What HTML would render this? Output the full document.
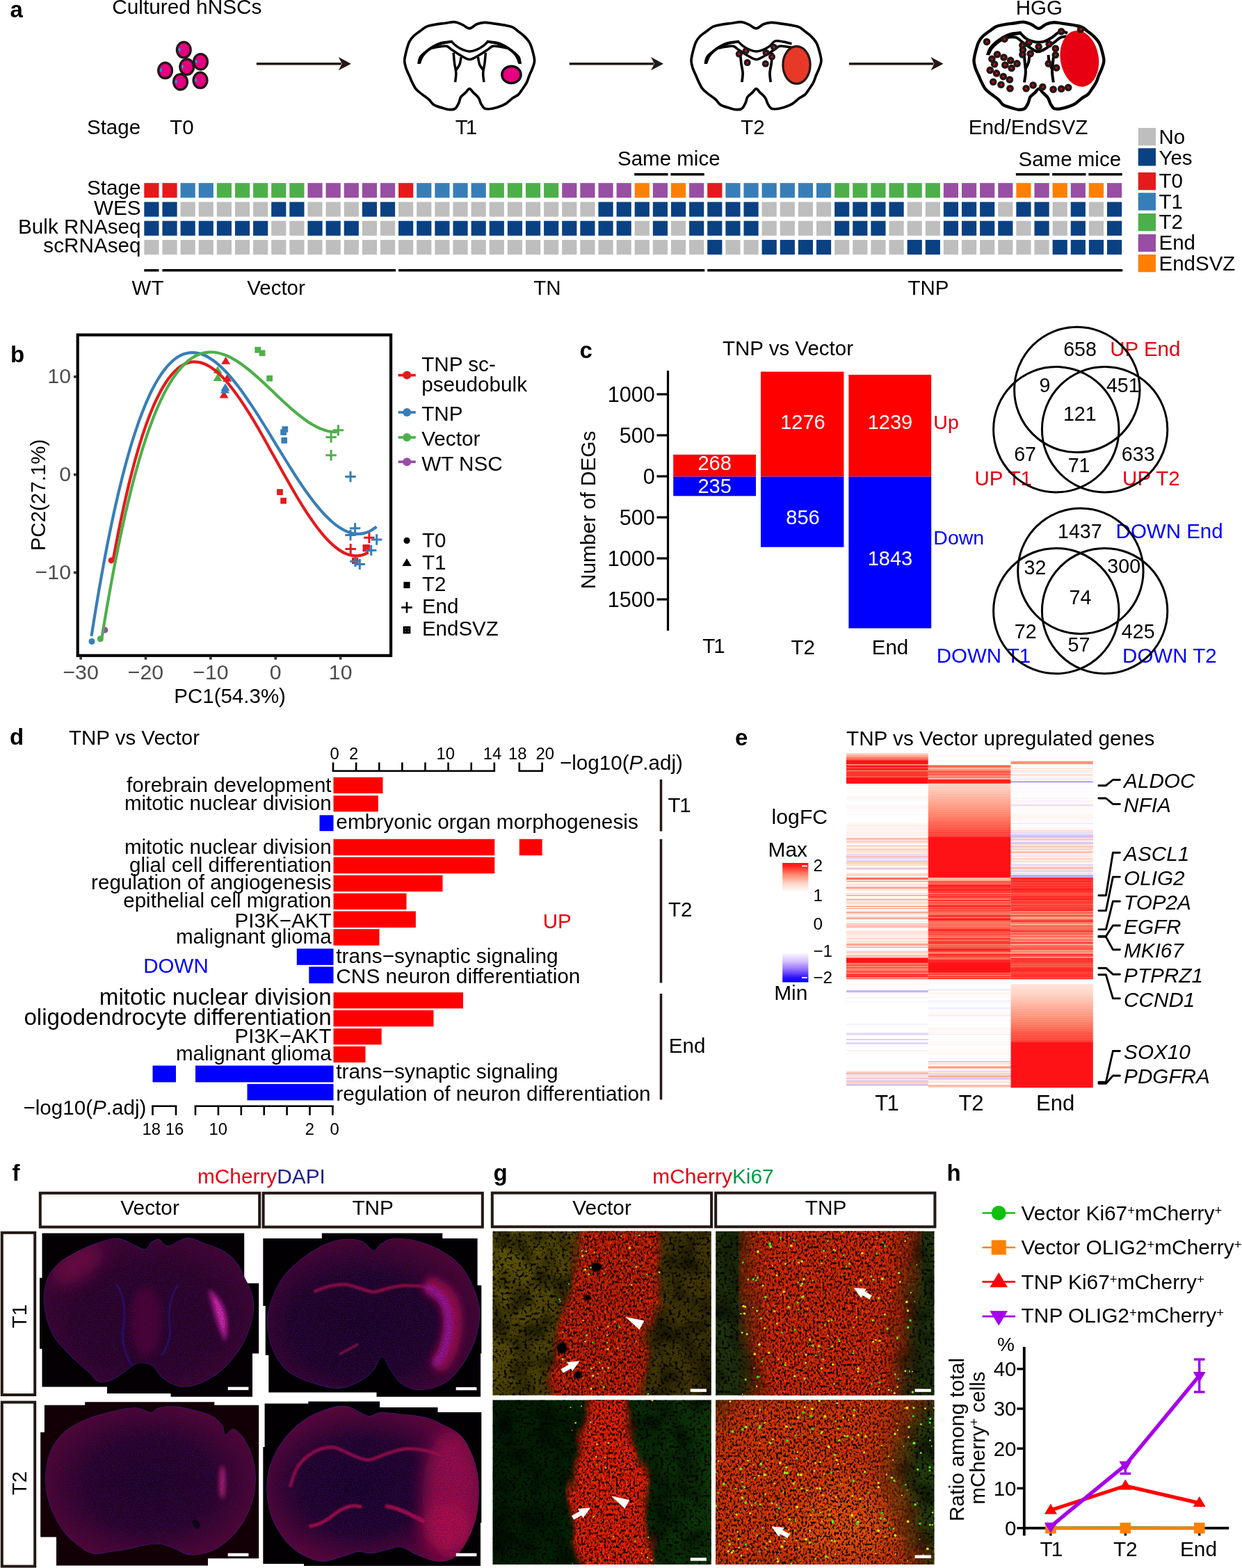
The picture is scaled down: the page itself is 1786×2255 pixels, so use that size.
<!DOCTYPE html>
<html lang="en">
<head>
<meta charset="utf-8">
<title>Figure</title>
<style>
html,body{margin:0;padding:0;background:#fff;}
svg{display:block;font-family:'Liberation Sans', sans-serif;}
</style>
</head>
<body>
<svg width="1786" height="2255" viewBox="0 0 1786 2255">
<rect x="0" y="0" width="1786" height="2255" fill="#fff"/>

<g id="pa">
<text x="14.5" y="24.8" font-size="33" fill="#000" font-weight="bold">a</text>
<text x="161.2" y="20.2" font-size="29.8" fill="#000">Cultured hNSCs</text>
<text x="125.0" y="192.8" font-size="29.5" fill="#000">Stage</text>
<text x="244.2" y="192.8" font-size="29.5" fill="#000">T0</text>
<text x="654.7" y="193.1" font-size="29.5" fill="#000">T<tspan dx="-3">1</tspan></text>
<text x="1065.2" y="193.1" font-size="29.5" fill="#000">T2</text>
<text x="1460.7" y="20.8" font-size="29.5" fill="#000">HGG</text>
<text x="1392.7" y="192.8" font-size="29.7" fill="#000">End/EndSVZ</text>
<ellipse cx="264.3" cy="71.7" rx="9.9" ry="11.2" fill="#E4007F" stroke="#231815" stroke-width="3.3"/>
<ellipse cx="258.1" cy="71.2" rx="1.6" ry="2.6" fill="#00A0E9"/>
<ellipse cx="288.5" cy="88.8" rx="9.9" ry="11.2" fill="#E4007F" stroke="#231815" stroke-width="3.3"/>
<ellipse cx="282.3" cy="88.3" rx="1.6" ry="2.6" fill="#00A0E9"/>
<ellipse cx="237.6" cy="101.4" rx="9.9" ry="11.2" fill="#E4007F" stroke="#231815" stroke-width="3.3"/>
<ellipse cx="231.4" cy="100.9" rx="1.6" ry="2.6" fill="#00A0E9"/>
<ellipse cx="259.5" cy="117.8" rx="9.9" ry="11.2" fill="#E4007F" stroke="#231815" stroke-width="3.3"/>
<ellipse cx="253.3" cy="117.3" rx="1.6" ry="2.6" fill="#00A0E9"/>
<ellipse cx="288.0" cy="115.4" rx="9.9" ry="11.2" fill="#E4007F" stroke="#231815" stroke-width="3.3"/>
<ellipse cx="281.8" cy="114.9" rx="1.6" ry="2.6" fill="#00A0E9"/>
<ellipse cx="268.7" cy="96.2" rx="9.9" ry="11.2" fill="#E4007F" stroke="#231815" stroke-width="3.3"/>
<ellipse cx="262.5" cy="95.7" rx="1.6" ry="2.6" fill="#00A0E9"/>
<line x1="368.80" y1="91.70" x2="490.80" y2="91.70" stroke="#231815" stroke-width="3.6"/><path d="M504.8,91.7 L486.8,82.1 L491.8,91.7 L486.8,101.3 Z" fill="#231815"/>
<line x1="818.80" y1="91.70" x2="940.00" y2="91.70" stroke="#231815" stroke-width="3.6"/><path d="M954.0,91.7 L936.0,82.1 L941.0,91.7 L936.0,101.3 Z" fill="#231815"/>
<line x1="1220.90" y1="91.70" x2="1342.50" y2="91.70" stroke="#231815" stroke-width="3.6"/><path d="M1356.5,91.7 L1338.5,82.1 L1343.5,91.7 L1338.5,101.3 Z" fill="#231815"/>
<path d="M675.1,40.9C678.6,40.8 682.0,36.2 685.6,34.8C689.2,33.3 692.3,32.4 696.6,32.3C700.9,32.2 706.3,33.4 711.4,34.1C716.5,34.9 723.1,35.8 727.4,36.6C731.7,37.4 734.4,37.7 737.2,39.1C740.1,40.4 741.7,42.3 744.6,44.6C747.5,46.8 751.6,49.7 754.4,52.6C757.3,55.5 759.9,58.2 761.8,61.8C763.8,65.4 765.0,69.8 766.1,74.1C767.2,78.4 768.7,83.5 768.6,87.6C768.5,91.7 766.7,95.2 765.5,98.7C764.3,102.2 762.5,105.2 761.2,108.5C759.9,111.8 759.0,115.3 757.5,118.4C756.0,121.4 753.9,124.1 752.0,127.0C750.0,129.8 748.3,133.2 745.8,135.6C743.4,137.9 740.3,138.9 737.2,141.1C734.1,143.4 730.7,147.1 727.4,149.1C724.1,151.2 721.2,152.2 717.5,153.4C713.9,154.6 708.7,156.1 705.3,156.5C701.8,156.9 698.9,157.1 696.6,155.9C694.4,154.6 693.2,151.7 691.7,149.1C690.3,146.5 689.9,143.2 688.0,140.5C686.2,137.8 682.8,135.3 680.7,133.1C678.5,131.0 677.0,127.6 675.1,127.6C673.3,127.6 671.6,131.2 669.6,133.1C667.5,135.1 664.5,136.8 662.8,139.3C661.2,141.7 661.1,145.1 659.8,147.9C658.4,150.6 657.1,154.2 654.8,155.9C652.6,157.5 649.3,157.8 646.2,157.7C643.2,157.6 640.1,156.4 636.4,155.3C632.7,154.1 627.4,153.0 624.1,150.9C620.8,148.9 619.6,145.5 616.7,143.0C613.9,140.4 610.0,138.0 606.9,135.6C603.8,133.1 600.7,131.3 598.3,128.2C595.8,125.1 593.8,120.4 592.1,117.1C590.5,113.9 589.8,111.6 588.4,108.5C587.1,105.5 585.3,102.2 584.1,98.7C583.0,95.2 581.7,91.7 581.7,87.6C581.7,83.5 583.0,78.6 584.1,74.1C585.3,69.6 586.7,64.3 588.4,60.6C590.2,56.9 591.9,54.6 594.6,52.0C597.3,49.3 601.4,46.8 604.4,44.6C607.5,42.3 609.6,40.0 613.0,38.4C616.5,36.9 621.0,36.2 625.3,35.4C629.6,34.5 634.1,34.1 638.9,33.5C643.6,32.9 649.3,31.4 653.6,31.7C657.9,32.0 661.1,33.8 664.7,35.4C668.3,36.9 671.6,41.0 675.1,40.9Z" fill="#fff" stroke="#000" stroke-width="3.7" stroke-linejoin="round"/>
<path d="M600.7,91.3C601.1,89.7 601.6,84.3 603.2,81.5C604.8,78.6 607.5,76.7 610.6,74.1C613.6,71.5 617.7,68.4 621.6,66.1C625.5,63.9 629.2,61.9 633.9,60.6C638.7,59.3 647.3,58.7 649.9,58.4L649.9,61.2C647.7,61.6 640.7,62.4 636.4,63.6C632.1,64.9 627.8,66.6 624.1,68.6C620.4,70.5 616.9,73.0 614.3,75.3C611.6,77.7 609.8,80.0 608.1,82.7C606.5,85.4 605.0,90.1 604.4,91.6Z" fill="#000" stroke="#000" stroke-width="1"/>
<path d="M749.5,91.3C749.1,89.7 748.7,84.3 747.1,81.5C745.4,78.6 742.8,76.7 739.7,74.1C736.6,71.5 732.5,68.4 728.6,66.1C724.7,63.9 721.0,61.9 716.3,60.6C711.6,59.3 703.0,58.7 700.3,58.4L700.3,61.2C702.6,61.6 709.6,62.4 713.9,63.6C718.2,64.9 722.5,66.6 726.2,68.6C729.8,70.5 733.3,73.0 736.0,75.3C738.7,77.7 740.5,80.0 742.1,82.7C743.8,85.4 745.2,90.1 745.8,91.6Z" fill="#000" stroke="#000" stroke-width="1"/>
<path d="M648.7,59.1C649.9,60.3 653.2,64.0 656.1,66.1C658.9,68.2 662.7,70.4 665.9,71.6C669.1,72.9 672.2,73.9 675.4,73.9C678.5,73.9 681.7,72.9 685.0,71.6C688.2,70.4 691.9,68.2 694.8,66.1C697.7,64.0 700.9,60.3 702.2,59.1" fill="none" stroke="#000" stroke-width="3.5"/>
<path d="M621.6,69.2C623.5,68.8 629.2,67.4 632.7,67.0C636.2,66.5 639.7,65.7 642.5,66.5C645.4,67.3 646.4,69.3 649.9,71.6C653.4,73.9 659.2,78.0 663.4,80.2C667.7,82.5 671.4,85.4 675.4,85.4C679.4,85.4 683.2,82.5 687.4,80.2C691.7,78.0 697.5,73.9 700.9,71.6C704.4,69.3 705.5,67.3 708.3,66.5C711.2,65.7 714.7,66.5 718.2,67.0C721.6,67.4 727.4,68.8 729.2,69.2" fill="none" stroke="#000" stroke-width="3.5"/>
<path d="M652.1,75.9C652.4,78.5 653.0,86.5 653.6,91.3C654.2,96.1 655.7,100.4 655.8,104.8C656.0,109.3 654.8,115.9 654.6,118.1" fill="none" stroke="#000" stroke-width="3.5"/>
<path d="M663.1,82.1C662.7,83.8 662.2,89.5 661.0,92.5C659.8,95.6 656.9,99.2 656.1,100.5" fill="none" stroke="#000" stroke-width="3.5"/>
<path d="M698.4,75.9C698.1,78.5 697.5,86.5 696.9,91.3C696.3,96.1 694.8,100.4 694.7,104.8C694.5,109.3 695.7,115.9 695.9,118.1" fill="none" stroke="#000" stroke-width="3.5"/>
<path d="M687.4,82.1C687.8,83.8 688.3,89.5 689.5,92.5C690.7,95.6 693.6,99.2 694.4,100.5" fill="none" stroke="#000" stroke-width="3.5"/>
<ellipse cx="735.4" cy="107.4" rx="13.6" ry="12.2" fill="#E4007F" stroke="#000" stroke-width="3.4"/>
<path d="M1087.4,40.9C1090.9,40.8 1094.3,36.2 1097.9,34.8C1101.5,33.3 1104.6,32.4 1108.9,32.3C1113.2,32.2 1118.6,33.4 1123.7,34.1C1128.8,34.9 1135.4,35.8 1139.7,36.6C1144.0,37.4 1146.7,37.7 1149.5,39.1C1152.4,40.4 1154.0,42.3 1156.9,44.6C1159.8,46.8 1163.9,49.7 1166.7,52.6C1169.6,55.5 1172.2,58.2 1174.1,61.8C1176.1,65.4 1177.3,69.8 1178.4,74.1C1179.5,78.4 1181.0,83.5 1180.9,87.6C1180.8,91.7 1179.0,95.2 1177.8,98.7C1176.6,102.2 1174.8,105.2 1173.5,108.5C1172.2,111.8 1171.3,115.3 1169.8,118.4C1168.3,121.4 1166.2,124.1 1164.3,127.0C1162.3,129.8 1160.6,133.2 1158.1,135.6C1155.7,137.9 1152.6,138.9 1149.5,141.1C1146.4,143.4 1143.0,147.1 1139.7,149.1C1136.4,151.2 1133.5,152.2 1129.8,153.4C1126.2,154.6 1121.0,156.1 1117.6,156.5C1114.1,156.9 1111.2,157.1 1108.9,155.9C1106.7,154.6 1105.5,151.7 1104.0,149.1C1102.6,146.5 1102.2,143.2 1100.3,140.5C1098.5,137.8 1095.1,135.3 1093.0,133.1C1090.8,131.0 1089.3,127.6 1087.4,127.6C1085.6,127.6 1083.9,131.2 1081.9,133.1C1079.8,135.1 1076.8,136.8 1075.1,139.3C1073.5,141.7 1073.4,145.1 1072.1,147.9C1070.7,150.6 1069.4,154.2 1067.1,155.9C1064.9,157.5 1061.6,157.8 1058.5,157.7C1055.5,157.6 1052.4,156.4 1048.7,155.3C1045.0,154.1 1039.7,153.0 1036.4,150.9C1033.1,148.9 1031.9,145.5 1029.0,143.0C1026.2,140.4 1022.3,138.0 1019.2,135.6C1016.1,133.1 1013.0,131.3 1010.6,128.2C1008.1,125.1 1006.1,120.4 1004.4,117.1C1002.8,113.9 1002.1,111.6 1000.7,108.5C999.4,105.5 997.6,102.2 996.4,98.7C995.3,95.2 994.0,91.7 994.0,87.6C994.0,83.5 995.3,78.6 996.4,74.1C997.6,69.6 999.0,64.3 1000.7,60.6C1002.5,56.9 1004.2,54.6 1006.9,52.0C1009.6,49.3 1013.7,46.8 1016.7,44.6C1019.8,42.3 1021.9,40.0 1025.3,38.4C1028.8,36.9 1033.3,36.2 1037.6,35.4C1041.9,34.5 1046.4,34.1 1051.2,33.5C1055.9,32.9 1061.6,31.4 1065.9,31.7C1070.2,32.0 1073.4,33.8 1077.0,35.4C1080.6,36.9 1083.9,41.0 1087.4,40.9Z" fill="#fff" stroke="#000" stroke-width="3.7" stroke-linejoin="round"/>
<path d="M1013.0,91.3C1013.4,89.7 1013.9,84.3 1015.5,81.5C1017.1,78.6 1019.8,76.7 1022.9,74.1C1025.9,71.5 1030.0,68.4 1033.9,66.1C1037.8,63.9 1041.5,61.9 1046.2,60.6C1051.0,59.3 1059.6,58.7 1062.2,58.4L1062.2,61.2C1060.0,61.6 1053.0,62.4 1048.7,63.6C1044.4,64.9 1040.1,66.6 1036.4,68.6C1032.7,70.5 1029.2,73.0 1026.6,75.3C1023.9,77.7 1022.1,80.0 1020.4,82.7C1018.8,85.4 1017.3,90.1 1016.7,91.6Z" fill="#000" stroke="#000" stroke-width="1"/>
<path d="M1061.0,59.1C1062.2,60.3 1065.5,64.0 1068.4,66.1C1071.2,68.2 1075.0,70.4 1078.2,71.6C1081.4,72.9 1084.5,73.9 1087.7,73.9C1090.8,73.9 1094.0,72.9 1097.3,71.6C1100.5,70.4 1104.2,68.2 1107.1,66.1C1110.0,64.0 1111.3,60.1 1114.5,59.1C1117.7,58.1 1122.2,59.3 1126.2,60.0C1130.2,60.6 1136.4,62.5 1138.5,63.0" fill="none" stroke="#000" stroke-width="3.5"/>
<path d="M1033.9,69.2C1035.8,68.8 1041.5,67.4 1045.0,67.0C1048.5,66.5 1052.0,65.7 1054.8,66.5C1057.7,67.3 1058.7,69.3 1062.2,71.6C1065.7,73.9 1071.5,78.0 1075.7,80.2C1080.0,82.5 1083.7,85.4 1087.7,85.4C1091.7,85.4 1095.5,82.5 1099.7,80.2C1104.0,78.0 1109.8,73.9 1113.2,71.6C1116.7,69.3 1117.8,67.3 1120.6,66.5C1123.5,65.7 1127.3,66.6 1130.5,67.0C1133.6,67.3 1138.1,68.3 1139.7,68.6" fill="none" stroke="#000" stroke-width="3.5"/>
<path d="M1064.4,75.9C1064.7,78.5 1065.3,86.5 1065.9,91.3C1066.5,96.1 1068.0,100.4 1068.1,104.8C1068.3,109.3 1067.1,115.9 1066.9,118.1" fill="none" stroke="#000" stroke-width="3.7"/>
<path d="M1110.7,75.9C1110.4,78.5 1109.8,86.5 1109.2,91.3C1108.6,96.1 1107.1,100.4 1107.0,104.8C1106.8,109.3 1108.0,115.9 1108.2,118.1" fill="none" stroke="#000" stroke-width="3.7"/>
<ellipse cx="1145.5" cy="93.5" rx="19.6" ry="26.8" fill="#E83828" stroke="#231815" stroke-width="3.2"/>
<circle cx="1062.8" cy="77.7" r="5" fill="#231815"/><circle cx="1062.8" cy="77.7" r="1.4" fill="#E4007F"/>
<circle cx="1072.6" cy="73.2" r="5" fill="#231815"/><circle cx="1072.6" cy="73.2" r="1.4" fill="#E4007F"/>
<circle cx="1074.7" cy="90.1" r="5" fill="#231815"/><circle cx="1074.7" cy="90.1" r="1.4" fill="#E4007F"/>
<circle cx="1101.5" cy="75.9" r="5" fill="#231815"/><circle cx="1101.5" cy="75.9" r="1.4" fill="#E4007F"/>
<circle cx="1112.9" cy="68.0" r="5" fill="#231815"/><circle cx="1112.9" cy="68.0" r="1.4" fill="#E4007F"/>
<circle cx="1110.0" cy="81.7" r="5" fill="#231815"/><circle cx="1110.0" cy="81.7" r="1.4" fill="#E4007F"/>
<circle cx="1100.8" cy="91.7" r="5" fill="#231815"/><circle cx="1100.8" cy="91.7" r="1.4" fill="#E4007F"/>
<path d="M1493.9,40.9C1497.4,40.8 1500.8,36.2 1504.4,34.8C1508.0,33.3 1511.1,32.4 1515.4,32.3C1519.7,32.2 1525.1,33.4 1530.2,34.1C1535.3,34.9 1541.9,35.8 1546.2,36.6C1550.5,37.4 1553.2,37.7 1556.0,39.1C1558.9,40.4 1560.5,42.3 1563.4,44.6C1566.3,46.8 1570.4,49.7 1573.2,52.6C1576.1,55.5 1578.7,58.2 1580.6,61.8C1582.6,65.4 1583.8,69.8 1584.9,74.1C1586.0,78.4 1587.5,83.5 1587.4,87.6C1587.3,91.7 1585.5,95.2 1584.3,98.7C1583.1,102.2 1581.3,105.2 1580.0,108.5C1578.7,111.8 1577.8,115.3 1576.3,118.4C1574.8,121.4 1572.7,124.1 1570.8,127.0C1568.8,129.8 1567.1,133.2 1564.6,135.6C1562.2,137.9 1559.1,138.9 1556.0,141.1C1552.9,143.4 1549.5,147.1 1546.2,149.1C1542.9,151.2 1540.0,152.2 1536.3,153.4C1532.7,154.6 1527.5,156.1 1524.1,156.5C1520.6,156.9 1517.7,157.1 1515.4,155.9C1513.2,154.6 1512.0,151.7 1510.5,149.1C1509.1,146.5 1508.7,143.2 1506.8,140.5C1505.0,137.8 1501.6,135.3 1499.5,133.1C1497.3,131.0 1495.8,127.6 1493.9,127.6C1492.1,127.6 1490.4,131.2 1488.4,133.1C1486.3,135.1 1483.3,136.8 1481.6,139.3C1480.0,141.7 1479.9,145.1 1478.6,147.9C1477.2,150.6 1475.9,154.2 1473.6,155.9C1471.4,157.5 1468.1,157.8 1465.0,157.7C1462.0,157.6 1458.9,156.4 1455.2,155.3C1451.5,154.1 1446.2,153.0 1442.9,150.9C1439.6,148.9 1438.4,145.5 1435.5,143.0C1432.7,140.4 1428.8,138.0 1425.7,135.6C1422.6,133.1 1419.5,131.3 1417.1,128.2C1414.6,125.1 1412.6,120.4 1410.9,117.1C1409.3,113.9 1408.6,111.6 1407.2,108.5C1405.9,105.5 1404.1,102.2 1402.9,98.7C1401.8,95.2 1400.5,91.7 1400.5,87.6C1400.5,83.5 1401.8,78.6 1402.9,74.1C1404.1,69.6 1405.5,64.3 1407.2,60.6C1409.0,56.9 1410.7,54.6 1413.4,52.0C1416.1,49.3 1420.2,46.8 1423.2,44.6C1426.3,42.3 1428.4,40.0 1431.8,38.4C1435.3,36.9 1439.8,36.2 1444.1,35.4C1448.4,34.5 1452.9,34.1 1457.7,33.5C1462.4,32.9 1468.1,31.4 1472.4,31.7C1476.7,32.0 1479.9,33.8 1483.5,35.4C1487.1,36.9 1490.4,41.0 1493.9,40.9Z" fill="#fff" stroke="#000" stroke-width="4.4" stroke-linejoin="round"/>
<path d="M1418.9,78.4C1419.5,76.9 1420.7,72.2 1422.6,69.2C1424.6,66.2 1427.4,63.3 1430.6,60.6C1433.8,57.8 1438.0,54.7 1441.7,52.6C1445.4,50.4 1448.4,48.8 1452.7,47.7C1457.0,46.5 1465.0,46.1 1467.5,45.8L1467.5,48.9C1465.4,49.3 1459.1,50.1 1455.2,51.4C1451.3,52.6 1447.6,54.3 1444.1,56.3C1440.6,58.2 1437.2,60.7 1434.3,63.0C1431.4,65.4 1428.9,67.8 1426.9,70.4C1425.0,73.0 1423.3,77.4 1422.6,78.8Z" fill="#000" stroke="#000" stroke-width="1.5"/>
<path d="M1466.3,46.4C1467.7,47.9 1471.8,52.9 1474.9,55.0C1477.9,57.2 1481.6,58.4 1484.7,59.3C1487.8,60.3 1490.2,60.9 1493.3,60.8C1496.4,60.8 1499.9,60.3 1503.1,59.1C1506.4,57.9 1509.9,55.8 1513.0,53.8C1516.1,51.8 1519.1,48.5 1521.6,47.1C1524.1,45.6 1525.5,45.1 1527.7,45.2C1530.0,45.3 1533.9,47.3 1535.1,47.7" fill="none" stroke="#000" stroke-width="4"/>
<path d="M1441.7,55.7C1443.3,55.3 1448.2,53.8 1451.5,53.4C1454.8,53.1 1458.5,52.8 1461.3,53.8C1464.2,54.8 1465.2,56.8 1468.7,59.3C1472.2,61.9 1478.1,66.7 1482.2,69.2C1486.3,71.7 1489.4,74.4 1493.3,74.3C1497.2,74.2 1501.5,71.1 1505.6,68.6C1509.7,66.1 1514.6,61.8 1517.9,59.3C1521.2,56.9 1522.6,55.0 1525.3,53.8C1527.9,52.6 1532.5,52.5 1533.9,52.2" fill="none" stroke="#000" stroke-width="4"/>
<path d="M1472.4,74.1C1472.6,76.6 1473.2,83.9 1473.6,88.9C1474.0,93.8 1475.0,98.7 1474.9,103.6C1474.8,108.5 1473.3,115.9 1473.0,118.4" fill="none" stroke="#000" stroke-width="4"/>
<path d="M1480.4,77.8C1480.2,79.6 1480.1,85.4 1479.2,88.9C1478.3,92.3 1475.6,97.1 1474.9,98.7" fill="none" stroke="#000" stroke-width="4"/>
<path d="M1515.4,77.8C1515.2,79.6 1514.6,84.6 1514.2,88.9C1513.8,93.2 1512.9,98.7 1513.0,103.6C1513.1,108.5 1514.5,115.9 1514.8,118.4" fill="none" stroke="#000" stroke-width="4"/>
<path d="M1507.5,79.0C1507.7,80.7 1507.9,85.6 1508.7,88.9C1509.5,92.1 1511.8,97.1 1512.4,98.7" fill="none" stroke="#000" stroke-width="4"/>
<ellipse cx="1552.3" cy="84.3" rx="27.5" ry="40.6" fill="#E60012" transform="rotate(-9 1552.3 84.3)"/>
<circle cx="1419.0" cy="60.1" r="5.3" fill="#231815"/><circle cx="1419.0" cy="60.1" r="1.5" fill="#E60012"/>
<circle cx="1444.5" cy="56.1" r="5.3" fill="#231815"/><circle cx="1444.5" cy="56.1" r="1.5" fill="#E60012"/>
<circle cx="1526.2" cy="45.3" r="5.3" fill="#231815"/><circle cx="1526.2" cy="45.3" r="1.5" fill="#E60012"/>
<circle cx="1554.1" cy="42.2" r="5.3" fill="#231815"/><circle cx="1554.1" cy="42.2" r="1.5" fill="#E60012"/>
<circle cx="1479.6" cy="61.1" r="5.3" fill="#231815"/><circle cx="1479.6" cy="61.1" r="1.5" fill="#E60012"/>
<circle cx="1493.6" cy="67.2" r="5.3" fill="#231815"/><circle cx="1493.6" cy="67.2" r="1.5" fill="#E60012"/>
<circle cx="1508.6" cy="63.2" r="5.3" fill="#231815"/><circle cx="1508.6" cy="63.2" r="1.5" fill="#E60012"/>
<circle cx="1517.8" cy="69.8" r="5.3" fill="#231815"/><circle cx="1517.8" cy="69.8" r="1.5" fill="#E60012"/>
<circle cx="1470.4" cy="65.3" r="5.3" fill="#231815"/><circle cx="1470.4" cy="65.3" r="1.5" fill="#E60012"/>
<circle cx="1470.9" cy="71.7" r="5.3" fill="#231815"/><circle cx="1470.9" cy="71.7" r="1.5" fill="#E60012"/>
<circle cx="1470.4" cy="78.5" r="5.3" fill="#231815"/><circle cx="1470.4" cy="78.5" r="1.5" fill="#E60012"/>
<circle cx="1481.7" cy="77.2" r="5.3" fill="#231815"/><circle cx="1481.7" cy="77.2" r="1.5" fill="#E60012"/>
<circle cx="1434.0" cy="78.2" r="5.3" fill="#231815"/><circle cx="1434.0" cy="78.2" r="1.5" fill="#E60012"/>
<circle cx="1443.5" cy="82.5" r="5.3" fill="#231815"/><circle cx="1443.5" cy="82.5" r="1.5" fill="#E60012"/>
<circle cx="1426.4" cy="84.8" r="5.3" fill="#231815"/><circle cx="1426.4" cy="84.8" r="1.5" fill="#E60012"/>
<circle cx="1453.2" cy="86.9" r="5.3" fill="#231815"/><circle cx="1453.2" cy="86.9" r="1.5" fill="#E60012"/>
<circle cx="1462.5" cy="91.4" r="5.3" fill="#231815"/><circle cx="1462.5" cy="91.4" r="1.5" fill="#E60012"/>
<circle cx="1430.1" cy="92.2" r="5.3" fill="#231815"/><circle cx="1430.1" cy="92.2" r="1.5" fill="#E60012"/>
<circle cx="1445.3" cy="93.5" r="5.3" fill="#231815"/><circle cx="1445.3" cy="93.5" r="1.5" fill="#E60012"/>
<circle cx="1454.6" cy="98.0" r="5.3" fill="#231815"/><circle cx="1454.6" cy="98.0" r="1.5" fill="#E60012"/>
<circle cx="1423.7" cy="100.9" r="5.3" fill="#231815"/><circle cx="1423.7" cy="100.9" r="1.5" fill="#E60012"/>
<circle cx="1433.0" cy="105.4" r="5.3" fill="#231815"/><circle cx="1433.0" cy="105.4" r="1.5" fill="#E60012"/>
<circle cx="1442.7" cy="110.1" r="5.3" fill="#231815"/><circle cx="1442.7" cy="110.1" r="1.5" fill="#E60012"/>
<circle cx="1451.9" cy="114.6" r="5.3" fill="#231815"/><circle cx="1451.9" cy="114.6" r="1.5" fill="#E60012"/>
<circle cx="1428.2" cy="117.8" r="5.3" fill="#231815"/><circle cx="1428.2" cy="117.8" r="1.5" fill="#E60012"/>
<circle cx="1439.5" cy="121.7" r="5.3" fill="#231815"/><circle cx="1439.5" cy="121.7" r="1.5" fill="#E60012"/>
<circle cx="1452.5" cy="127.3" r="5.3" fill="#231815"/><circle cx="1452.5" cy="127.3" r="1.5" fill="#E60012"/>
<circle cx="1475.6" cy="127.3" r="5.3" fill="#231815"/><circle cx="1475.6" cy="127.3" r="1.5" fill="#E60012"/>
<circle cx="1485.6" cy="122.5" r="5.3" fill="#231815"/><circle cx="1485.6" cy="122.5" r="1.5" fill="#E60012"/>
<circle cx="1499.3" cy="125.1" r="5.3" fill="#231815"/><circle cx="1499.3" cy="125.1" r="1.5" fill="#E60012"/>
<circle cx="1514.6" cy="128.6" r="5.3" fill="#231815"/><circle cx="1514.6" cy="128.6" r="1.5" fill="#E60012"/>
<circle cx="1526.2" cy="127.8" r="5.3" fill="#231815"/><circle cx="1526.2" cy="127.8" r="1.5" fill="#E60012"/>
<circle cx="1536.2" cy="125.9" r="5.3" fill="#231815"/><circle cx="1536.2" cy="125.9" r="1.5" fill="#E60012"/>
<circle cx="1507.8" cy="91.4" r="5.3" fill="#231815"/><circle cx="1507.8" cy="91.4" r="1.5" fill="#E60012"/>
<circle cx="1519.1" cy="97.5" r="5.3" fill="#231815"/><circle cx="1519.1" cy="97.5" r="1.5" fill="#E60012"/>
<circle cx="1517.8" cy="79.0" r="5.3" fill="#231815"/><circle cx="1517.8" cy="79.0" r="1.5" fill="#E60012"/>
<rect x="207.30" y="263.20" width="21.20" height="21.20" fill="#E41A1C"/>
<rect x="233.43" y="263.20" width="21.20" height="21.20" fill="#E41A1C"/>
<rect x="259.55" y="263.20" width="21.20" height="21.20" fill="#377EB8"/>
<rect x="285.68" y="263.20" width="21.20" height="21.20" fill="#377EB8"/>
<rect x="311.80" y="263.20" width="21.20" height="21.20" fill="#4DAF4A"/>
<rect x="337.93" y="263.20" width="21.20" height="21.20" fill="#4DAF4A"/>
<rect x="364.06" y="263.20" width="21.20" height="21.20" fill="#4DAF4A"/>
<rect x="390.18" y="263.20" width="21.20" height="21.20" fill="#4DAF4A"/>
<rect x="416.31" y="263.20" width="21.20" height="21.20" fill="#4DAF4A"/>
<rect x="442.43" y="263.20" width="21.20" height="21.20" fill="#984EA3"/>
<rect x="468.56" y="263.20" width="21.20" height="21.20" fill="#984EA3"/>
<rect x="494.69" y="263.20" width="21.20" height="21.20" fill="#984EA3"/>
<rect x="520.81" y="263.20" width="21.20" height="21.20" fill="#984EA3"/>
<rect x="546.94" y="263.20" width="21.20" height="21.20" fill="#984EA3"/>
<rect x="573.06" y="263.20" width="21.20" height="21.20" fill="#E41A1C"/>
<rect x="599.19" y="263.20" width="21.20" height="21.20" fill="#377EB8"/>
<rect x="625.32" y="263.20" width="21.20" height="21.20" fill="#377EB8"/>
<rect x="651.44" y="263.20" width="21.20" height="21.20" fill="#377EB8"/>
<rect x="677.57" y="263.20" width="21.20" height="21.20" fill="#377EB8"/>
<rect x="703.69" y="263.20" width="21.20" height="21.20" fill="#4DAF4A"/>
<rect x="729.82" y="263.20" width="21.20" height="21.20" fill="#4DAF4A"/>
<rect x="755.95" y="263.20" width="21.20" height="21.20" fill="#4DAF4A"/>
<rect x="782.07" y="263.20" width="21.20" height="21.20" fill="#4DAF4A"/>
<rect x="808.20" y="263.20" width="21.20" height="21.20" fill="#984EA3"/>
<rect x="834.32" y="263.20" width="21.20" height="21.20" fill="#984EA3"/>
<rect x="860.45" y="263.20" width="21.20" height="21.20" fill="#984EA3"/>
<rect x="886.58" y="263.20" width="21.20" height="21.20" fill="#984EA3"/>
<rect x="912.70" y="263.20" width="21.20" height="21.20" fill="#FF7F00"/>
<rect x="938.83" y="263.20" width="21.20" height="21.20" fill="#984EA3"/>
<rect x="964.95" y="263.20" width="21.20" height="21.20" fill="#FF7F00"/>
<rect x="991.08" y="263.20" width="21.20" height="21.20" fill="#984EA3"/>
<rect x="1017.21" y="263.20" width="21.20" height="21.20" fill="#E41A1C"/>
<rect x="1043.33" y="263.20" width="21.20" height="21.20" fill="#377EB8"/>
<rect x="1069.46" y="263.20" width="21.20" height="21.20" fill="#377EB8"/>
<rect x="1095.58" y="263.20" width="21.20" height="21.20" fill="#377EB8"/>
<rect x="1121.71" y="263.20" width="21.20" height="21.20" fill="#377EB8"/>
<rect x="1147.84" y="263.20" width="21.20" height="21.20" fill="#377EB8"/>
<rect x="1173.96" y="263.20" width="21.20" height="21.20" fill="#377EB8"/>
<rect x="1200.09" y="263.20" width="21.20" height="21.20" fill="#4DAF4A"/>
<rect x="1226.21" y="263.20" width="21.20" height="21.20" fill="#4DAF4A"/>
<rect x="1252.34" y="263.20" width="21.20" height="21.20" fill="#4DAF4A"/>
<rect x="1278.47" y="263.20" width="21.20" height="21.20" fill="#4DAF4A"/>
<rect x="1304.59" y="263.20" width="21.20" height="21.20" fill="#4DAF4A"/>
<rect x="1330.72" y="263.20" width="21.20" height="21.20" fill="#4DAF4A"/>
<rect x="1356.84" y="263.20" width="21.20" height="21.20" fill="#984EA3"/>
<rect x="1382.97" y="263.20" width="21.20" height="21.20" fill="#984EA3"/>
<rect x="1409.10" y="263.20" width="21.20" height="21.20" fill="#984EA3"/>
<rect x="1435.22" y="263.20" width="21.20" height="21.20" fill="#984EA3"/>
<rect x="1461.35" y="263.20" width="21.20" height="21.20" fill="#FF7F00"/>
<rect x="1487.47" y="263.20" width="21.20" height="21.20" fill="#984EA3"/>
<rect x="1513.60" y="263.20" width="21.20" height="21.20" fill="#FF7F00"/>
<rect x="1539.73" y="263.20" width="21.20" height="21.20" fill="#984EA3"/>
<rect x="1565.85" y="263.20" width="21.20" height="21.20" fill="#FF7F00"/>
<rect x="1591.98" y="263.20" width="21.20" height="21.20" fill="#984EA3"/>
<rect x="207.30" y="290.45" width="21.20" height="21.20" fill="#0A4183"/>
<rect x="233.43" y="290.45" width="21.20" height="21.20" fill="#0A4183"/>
<rect x="259.55" y="290.45" width="21.20" height="21.20" fill="#BEBEBE"/>
<rect x="285.68" y="290.45" width="21.20" height="21.20" fill="#BEBEBE"/>
<rect x="311.80" y="290.45" width="21.20" height="21.20" fill="#BEBEBE"/>
<rect x="337.93" y="290.45" width="21.20" height="21.20" fill="#BEBEBE"/>
<rect x="364.06" y="290.45" width="21.20" height="21.20" fill="#BEBEBE"/>
<rect x="390.18" y="290.45" width="21.20" height="21.20" fill="#0A4183"/>
<rect x="416.31" y="290.45" width="21.20" height="21.20" fill="#0A4183"/>
<rect x="442.43" y="290.45" width="21.20" height="21.20" fill="#BEBEBE"/>
<rect x="468.56" y="290.45" width="21.20" height="21.20" fill="#BEBEBE"/>
<rect x="494.69" y="290.45" width="21.20" height="21.20" fill="#BEBEBE"/>
<rect x="520.81" y="290.45" width="21.20" height="21.20" fill="#0A4183"/>
<rect x="546.94" y="290.45" width="21.20" height="21.20" fill="#0A4183"/>
<rect x="573.06" y="290.45" width="21.20" height="21.20" fill="#BEBEBE"/>
<rect x="599.19" y="290.45" width="21.20" height="21.20" fill="#BEBEBE"/>
<rect x="625.32" y="290.45" width="21.20" height="21.20" fill="#BEBEBE"/>
<rect x="651.44" y="290.45" width="21.20" height="21.20" fill="#BEBEBE"/>
<rect x="677.57" y="290.45" width="21.20" height="21.20" fill="#BEBEBE"/>
<rect x="703.69" y="290.45" width="21.20" height="21.20" fill="#BEBEBE"/>
<rect x="729.82" y="290.45" width="21.20" height="21.20" fill="#BEBEBE"/>
<rect x="755.95" y="290.45" width="21.20" height="21.20" fill="#BEBEBE"/>
<rect x="782.07" y="290.45" width="21.20" height="21.20" fill="#BEBEBE"/>
<rect x="808.20" y="290.45" width="21.20" height="21.20" fill="#BEBEBE"/>
<rect x="834.32" y="290.45" width="21.20" height="21.20" fill="#BEBEBE"/>
<rect x="860.45" y="290.45" width="21.20" height="21.20" fill="#0A4183"/>
<rect x="886.58" y="290.45" width="21.20" height="21.20" fill="#0A4183"/>
<rect x="912.70" y="290.45" width="21.20" height="21.20" fill="#0A4183"/>
<rect x="938.83" y="290.45" width="21.20" height="21.20" fill="#0A4183"/>
<rect x="964.95" y="290.45" width="21.20" height="21.20" fill="#0A4183"/>
<rect x="991.08" y="290.45" width="21.20" height="21.20" fill="#0A4183"/>
<rect x="1017.21" y="290.45" width="21.20" height="21.20" fill="#0A4183"/>
<rect x="1043.33" y="290.45" width="21.20" height="21.20" fill="#0A4183"/>
<rect x="1069.46" y="290.45" width="21.20" height="21.20" fill="#0A4183"/>
<rect x="1095.58" y="290.45" width="21.20" height="21.20" fill="#BEBEBE"/>
<rect x="1121.71" y="290.45" width="21.20" height="21.20" fill="#BEBEBE"/>
<rect x="1147.84" y="290.45" width="21.20" height="21.20" fill="#BEBEBE"/>
<rect x="1173.96" y="290.45" width="21.20" height="21.20" fill="#BEBEBE"/>
<rect x="1200.09" y="290.45" width="21.20" height="21.20" fill="#0A4183"/>
<rect x="1226.21" y="290.45" width="21.20" height="21.20" fill="#0A4183"/>
<rect x="1252.34" y="290.45" width="21.20" height="21.20" fill="#0A4183"/>
<rect x="1278.47" y="290.45" width="21.20" height="21.20" fill="#0A4183"/>
<rect x="1304.59" y="290.45" width="21.20" height="21.20" fill="#BEBEBE"/>
<rect x="1330.72" y="290.45" width="21.20" height="21.20" fill="#BEBEBE"/>
<rect x="1356.84" y="290.45" width="21.20" height="21.20" fill="#0A4183"/>
<rect x="1382.97" y="290.45" width="21.20" height="21.20" fill="#0A4183"/>
<rect x="1409.10" y="290.45" width="21.20" height="21.20" fill="#0A4183"/>
<rect x="1435.22" y="290.45" width="21.20" height="21.20" fill="#BEBEBE"/>
<rect x="1461.35" y="290.45" width="21.20" height="21.20" fill="#0A4183"/>
<rect x="1487.47" y="290.45" width="21.20" height="21.20" fill="#0A4183"/>
<rect x="1513.60" y="290.45" width="21.20" height="21.20" fill="#BEBEBE"/>
<rect x="1539.73" y="290.45" width="21.20" height="21.20" fill="#0A4183"/>
<rect x="1565.85" y="290.45" width="21.20" height="21.20" fill="#BEBEBE"/>
<rect x="1591.98" y="290.45" width="21.20" height="21.20" fill="#0A4183"/>
<rect x="207.30" y="317.70" width="21.20" height="21.20" fill="#0A4183"/>
<rect x="233.43" y="317.70" width="21.20" height="21.20" fill="#0A4183"/>
<rect x="259.55" y="317.70" width="21.20" height="21.20" fill="#0A4183"/>
<rect x="285.68" y="317.70" width="21.20" height="21.20" fill="#0A4183"/>
<rect x="311.80" y="317.70" width="21.20" height="21.20" fill="#0A4183"/>
<rect x="337.93" y="317.70" width="21.20" height="21.20" fill="#0A4183"/>
<rect x="364.06" y="317.70" width="21.20" height="21.20" fill="#0A4183"/>
<rect x="390.18" y="317.70" width="21.20" height="21.20" fill="#BEBEBE"/>
<rect x="416.31" y="317.70" width="21.20" height="21.20" fill="#BEBEBE"/>
<rect x="442.43" y="317.70" width="21.20" height="21.20" fill="#0A4183"/>
<rect x="468.56" y="317.70" width="21.20" height="21.20" fill="#0A4183"/>
<rect x="494.69" y="317.70" width="21.20" height="21.20" fill="#0A4183"/>
<rect x="520.81" y="317.70" width="21.20" height="21.20" fill="#BEBEBE"/>
<rect x="546.94" y="317.70" width="21.20" height="21.20" fill="#BEBEBE"/>
<rect x="573.06" y="317.70" width="21.20" height="21.20" fill="#0A4183"/>
<rect x="599.19" y="317.70" width="21.20" height="21.20" fill="#0A4183"/>
<rect x="625.32" y="317.70" width="21.20" height="21.20" fill="#0A4183"/>
<rect x="651.44" y="317.70" width="21.20" height="21.20" fill="#0A4183"/>
<rect x="677.57" y="317.70" width="21.20" height="21.20" fill="#0A4183"/>
<rect x="703.69" y="317.70" width="21.20" height="21.20" fill="#0A4183"/>
<rect x="729.82" y="317.70" width="21.20" height="21.20" fill="#0A4183"/>
<rect x="755.95" y="317.70" width="21.20" height="21.20" fill="#0A4183"/>
<rect x="782.07" y="317.70" width="21.20" height="21.20" fill="#0A4183"/>
<rect x="808.20" y="317.70" width="21.20" height="21.20" fill="#0A4183"/>
<rect x="834.32" y="317.70" width="21.20" height="21.20" fill="#0A4183"/>
<rect x="860.45" y="317.70" width="21.20" height="21.20" fill="#0A4183"/>
<rect x="886.58" y="317.70" width="21.20" height="21.20" fill="#0A4183"/>
<rect x="912.70" y="317.70" width="21.20" height="21.20" fill="#BEBEBE"/>
<rect x="938.83" y="317.70" width="21.20" height="21.20" fill="#0A4183"/>
<rect x="964.95" y="317.70" width="21.20" height="21.20" fill="#BEBEBE"/>
<rect x="991.08" y="317.70" width="21.20" height="21.20" fill="#0A4183"/>
<rect x="1017.21" y="317.70" width="21.20" height="21.20" fill="#0A4183"/>
<rect x="1043.33" y="317.70" width="21.20" height="21.20" fill="#0A4183"/>
<rect x="1069.46" y="317.70" width="21.20" height="21.20" fill="#0A4183"/>
<rect x="1095.58" y="317.70" width="21.20" height="21.20" fill="#BEBEBE"/>
<rect x="1121.71" y="317.70" width="21.20" height="21.20" fill="#BEBEBE"/>
<rect x="1147.84" y="317.70" width="21.20" height="21.20" fill="#BEBEBE"/>
<rect x="1173.96" y="317.70" width="21.20" height="21.20" fill="#BEBEBE"/>
<rect x="1200.09" y="317.70" width="21.20" height="21.20" fill="#0A4183"/>
<rect x="1226.21" y="317.70" width="21.20" height="21.20" fill="#0A4183"/>
<rect x="1252.34" y="317.70" width="21.20" height="21.20" fill="#0A4183"/>
<rect x="1278.47" y="317.70" width="21.20" height="21.20" fill="#BEBEBE"/>
<rect x="1304.59" y="317.70" width="21.20" height="21.20" fill="#BEBEBE"/>
<rect x="1330.72" y="317.70" width="21.20" height="21.20" fill="#BEBEBE"/>
<rect x="1356.84" y="317.70" width="21.20" height="21.20" fill="#0A4183"/>
<rect x="1382.97" y="317.70" width="21.20" height="21.20" fill="#0A4183"/>
<rect x="1409.10" y="317.70" width="21.20" height="21.20" fill="#0A4183"/>
<rect x="1435.22" y="317.70" width="21.20" height="21.20" fill="#0A4183"/>
<rect x="1461.35" y="317.70" width="21.20" height="21.20" fill="#BEBEBE"/>
<rect x="1487.47" y="317.70" width="21.20" height="21.20" fill="#0A4183"/>
<rect x="1513.60" y="317.70" width="21.20" height="21.20" fill="#BEBEBE"/>
<rect x="1539.73" y="317.70" width="21.20" height="21.20" fill="#0A4183"/>
<rect x="1565.85" y="317.70" width="21.20" height="21.20" fill="#BEBEBE"/>
<rect x="1591.98" y="317.70" width="21.20" height="21.20" fill="#0A4183"/>
<rect x="207.30" y="344.95" width="21.20" height="21.20" fill="#BEBEBE"/>
<rect x="233.43" y="344.95" width="21.20" height="21.20" fill="#BEBEBE"/>
<rect x="259.55" y="344.95" width="21.20" height="21.20" fill="#BEBEBE"/>
<rect x="285.68" y="344.95" width="21.20" height="21.20" fill="#BEBEBE"/>
<rect x="311.80" y="344.95" width="21.20" height="21.20" fill="#BEBEBE"/>
<rect x="337.93" y="344.95" width="21.20" height="21.20" fill="#BEBEBE"/>
<rect x="364.06" y="344.95" width="21.20" height="21.20" fill="#BEBEBE"/>
<rect x="390.18" y="344.95" width="21.20" height="21.20" fill="#BEBEBE"/>
<rect x="416.31" y="344.95" width="21.20" height="21.20" fill="#BEBEBE"/>
<rect x="442.43" y="344.95" width="21.20" height="21.20" fill="#BEBEBE"/>
<rect x="468.56" y="344.95" width="21.20" height="21.20" fill="#BEBEBE"/>
<rect x="494.69" y="344.95" width="21.20" height="21.20" fill="#BEBEBE"/>
<rect x="520.81" y="344.95" width="21.20" height="21.20" fill="#BEBEBE"/>
<rect x="546.94" y="344.95" width="21.20" height="21.20" fill="#BEBEBE"/>
<rect x="573.06" y="344.95" width="21.20" height="21.20" fill="#BEBEBE"/>
<rect x="599.19" y="344.95" width="21.20" height="21.20" fill="#BEBEBE"/>
<rect x="625.32" y="344.95" width="21.20" height="21.20" fill="#BEBEBE"/>
<rect x="651.44" y="344.95" width="21.20" height="21.20" fill="#BEBEBE"/>
<rect x="677.57" y="344.95" width="21.20" height="21.20" fill="#BEBEBE"/>
<rect x="703.69" y="344.95" width="21.20" height="21.20" fill="#BEBEBE"/>
<rect x="729.82" y="344.95" width="21.20" height="21.20" fill="#BEBEBE"/>
<rect x="755.95" y="344.95" width="21.20" height="21.20" fill="#BEBEBE"/>
<rect x="782.07" y="344.95" width="21.20" height="21.20" fill="#BEBEBE"/>
<rect x="808.20" y="344.95" width="21.20" height="21.20" fill="#BEBEBE"/>
<rect x="834.32" y="344.95" width="21.20" height="21.20" fill="#BEBEBE"/>
<rect x="860.45" y="344.95" width="21.20" height="21.20" fill="#BEBEBE"/>
<rect x="886.58" y="344.95" width="21.20" height="21.20" fill="#BEBEBE"/>
<rect x="912.70" y="344.95" width="21.20" height="21.20" fill="#BEBEBE"/>
<rect x="938.83" y="344.95" width="21.20" height="21.20" fill="#BEBEBE"/>
<rect x="964.95" y="344.95" width="21.20" height="21.20" fill="#BEBEBE"/>
<rect x="991.08" y="344.95" width="21.20" height="21.20" fill="#BEBEBE"/>
<rect x="1017.21" y="344.95" width="21.20" height="21.20" fill="#0A4183"/>
<rect x="1043.33" y="344.95" width="21.20" height="21.20" fill="#BEBEBE"/>
<rect x="1069.46" y="344.95" width="21.20" height="21.20" fill="#BEBEBE"/>
<rect x="1095.58" y="344.95" width="21.20" height="21.20" fill="#0A4183"/>
<rect x="1121.71" y="344.95" width="21.20" height="21.20" fill="#0A4183"/>
<rect x="1147.84" y="344.95" width="21.20" height="21.20" fill="#0A4183"/>
<rect x="1173.96" y="344.95" width="21.20" height="21.20" fill="#0A4183"/>
<rect x="1200.09" y="344.95" width="21.20" height="21.20" fill="#BEBEBE"/>
<rect x="1226.21" y="344.95" width="21.20" height="21.20" fill="#BEBEBE"/>
<rect x="1252.34" y="344.95" width="21.20" height="21.20" fill="#BEBEBE"/>
<rect x="1278.47" y="344.95" width="21.20" height="21.20" fill="#BEBEBE"/>
<rect x="1304.59" y="344.95" width="21.20" height="21.20" fill="#0A4183"/>
<rect x="1330.72" y="344.95" width="21.20" height="21.20" fill="#0A4183"/>
<rect x="1356.84" y="344.95" width="21.20" height="21.20" fill="#BEBEBE"/>
<rect x="1382.97" y="344.95" width="21.20" height="21.20" fill="#BEBEBE"/>
<rect x="1409.10" y="344.95" width="21.20" height="21.20" fill="#BEBEBE"/>
<rect x="1435.22" y="344.95" width="21.20" height="21.20" fill="#BEBEBE"/>
<rect x="1461.35" y="344.95" width="21.20" height="21.20" fill="#BEBEBE"/>
<rect x="1487.47" y="344.95" width="21.20" height="21.20" fill="#BEBEBE"/>
<rect x="1513.60" y="344.95" width="21.20" height="21.20" fill="#0A4183"/>
<rect x="1539.73" y="344.95" width="21.20" height="21.20" fill="#0A4183"/>
<rect x="1565.85" y="344.95" width="21.20" height="21.20" fill="#0A4183"/>
<rect x="1591.98" y="344.95" width="21.20" height="21.20" fill="#0A4183"/>
<text x="202.6" y="280.0" font-size="29.7" fill="#000" text-anchor="end">Stage</text>
<text x="202.6" y="309.0" font-size="29.7" fill="#000" text-anchor="end">WES</text>
<text x="202.6" y="335.5" font-size="29.7" fill="#000" text-anchor="end">Bulk RNAseq</text>
<text x="202.6" y="363.0" font-size="29.7" fill="#000" text-anchor="end">scRNAseq</text>
<text x="888.0" y="238.0" font-size="29.5" fill="#000">Same mice</text>
<text x="1464.5" y="238.5" font-size="29.5" fill="#000">Same mice</text>
<line x1="912.20" y1="250.80" x2="960.53" y2="250.80" stroke="#000" stroke-width="3.5"/>
<line x1="964.45" y1="250.80" x2="1012.78" y2="250.80" stroke="#000" stroke-width="3.5"/>
<line x1="1460.85" y1="250.80" x2="1509.17" y2="250.80" stroke="#000" stroke-width="3.5"/>
<line x1="1513.10" y1="250.80" x2="1561.43" y2="250.80" stroke="#000" stroke-width="3.5"/>
<line x1="1565.35" y1="250.80" x2="1613.68" y2="250.80" stroke="#000" stroke-width="3.5"/>
<line x1="207.30" y1="388.80" x2="228.50" y2="388.80" stroke="#000" stroke-width="3.5"/>
<line x1="233.43" y1="388.80" x2="569.14" y2="388.80" stroke="#000" stroke-width="3.5"/>
<line x1="573.06" y1="388.80" x2="1013.28" y2="388.80" stroke="#000" stroke-width="3.5"/>
<line x1="1017.21" y1="388.80" x2="1614.18" y2="388.80" stroke="#000" stroke-width="3.5"/>
<text x="212.5" y="424.0" font-size="29.5" fill="#000" text-anchor="middle">WT</text>
<text x="397.0" y="424.0" font-size="29.5" fill="#000" text-anchor="middle">Vector</text>
<text x="787.0" y="424.0" font-size="29.5" fill="#000" text-anchor="middle">TN</text>
<text x="1335.0" y="424.0" font-size="29.5" fill="#000" text-anchor="middle">TNP</text>
<rect x="1636.70" y="184.00" width="25.30" height="25.30" fill="#BEBEBE"/>
<text x="1666.5" y="206.5" font-size="29.5" fill="#000">No</text>
<rect x="1636.70" y="213.20" width="25.30" height="25.30" fill="#0A4183"/>
<text x="1666.5" y="236.5" font-size="29.5" fill="#000">Yes</text>
<rect x="1636.70" y="248.00" width="25.30" height="25.30" fill="#E41A1C"/>
<text x="1666.5" y="269.5" font-size="29.5" fill="#000">T0</text>
<rect x="1636.70" y="277.30" width="25.30" height="25.30" fill="#377EB8"/>
<text x="1666.5" y="299.5" font-size="29.5" fill="#000">T1</text>
<rect x="1636.70" y="307.00" width="25.30" height="25.30" fill="#4DAF4A"/>
<text x="1666.5" y="329.0" font-size="29.5" fill="#000">T2</text>
<rect x="1636.70" y="336.80" width="25.30" height="25.30" fill="#984EA3"/>
<text x="1666.5" y="359.0" font-size="29.5" fill="#000">End</text>
<rect x="1636.70" y="366.00" width="25.30" height="25.30" fill="#FF7F00"/>
<text x="1666.5" y="388.5" font-size="29.5" fill="#000">EndSVZ</text>
</g>
<g id="pb">
<text x="15.0" y="520.5" font-size="33" fill="#000" font-weight="bold">b</text>
<circle cx="132.0" cy="922.5" r="4.5" fill="#377EB8"/>
<circle cx="144.3" cy="918.7" r="4.5" fill="#4DAF4A"/>
<circle cx="150.9" cy="906.0" r="4.5" fill="#984EA3"/>
<circle cx="160.1" cy="805.9" r="4.5" fill="#E41A1C"/>
<path d="M313.0,526.3 L319.5,537.0 L306.5,537.0Z" fill="#4DAF4A"/>
<path d="M313.0,537.3 L319.5,548.0 L306.5,548.0Z" fill="#4DAF4A"/>
<path d="M324.6,513.1 L331.1,523.8 L318.1,523.8Z" fill="#E41A1C"/>
<path d="M326.7,538.1 L333.2,548.8 L320.2,548.8Z" fill="#E41A1C"/>
<path d="M322.0,561.8 L328.5,572.5 L315.5,572.5Z" fill="#E41A1C"/>
<path d="M324.0,551.3 L330.5,562.0 L317.5,562.0Z" fill="#377EB8"/>
<path d="M323.5,554.8 L330.0,565.5 L317.0,565.5Z" fill="#377EB8"/>
<rect x="366.35" y="498.85" width="8.70" height="8.70" fill="#4DAF4A"/>
<rect x="372.75" y="503.45" width="8.70" height="8.70" fill="#4DAF4A"/>
<rect x="383.25" y="539.85" width="8.70" height="8.70" fill="#4DAF4A"/>
<rect x="405.45" y="613.05" width="8.70" height="8.70" fill="#377EB8"/>
<rect x="403.25" y="617.25" width="8.70" height="8.70" fill="#377EB8"/>
<rect x="404.35" y="629.05" width="8.70" height="8.70" fill="#377EB8"/>
<rect x="398.15" y="703.35" width="8.70" height="8.70" fill="#E41A1C"/>
<rect x="403.25" y="715.85" width="8.70" height="8.70" fill="#E41A1C"/>
<rect x="521.50" y="783.00" width="10.40" height="10.40" fill="#E41A1C"/>
<rect x="506.00" y="801.90" width="9.20" height="9.20" fill="#E41A1C"/>
<path d="M478.7,618.8H494.1M486.4,611.1V626.5" stroke="#4DAF4A" stroke-width="3.0" fill="none"/>
<path d="M468.4,628.7H483.8M476.1,621.0V636.4" stroke="#4DAF4A" stroke-width="3.0" fill="none"/>
<path d="M468.4,654.7H483.8M476.1,647.0V662.4" stroke="#4DAF4A" stroke-width="3.0" fill="none"/>
<path d="M523.2,773.2H538.6M530.9,765.5V780.9" stroke="#E41A1C" stroke-width="3.0" fill="none"/>
<path d="M496.5,789.6H511.9M504.2,781.9V797.3" stroke="#E41A1C" stroke-width="3.0" fill="none"/>
<path d="M496.3,685.5H511.7M504.0,677.8V693.2" stroke="#377EB8" stroke-width="3.0" fill="none"/>
<path d="M502.9,759.8H518.3M510.6,752.1V767.5" stroke="#377EB8" stroke-width="3.0" fill="none"/>
<path d="M496.3,769.6H511.7M504.0,761.9V777.3" stroke="#377EB8" stroke-width="3.0" fill="none"/>
<path d="M534.0,776.0H549.4M541.7,768.3V783.7" stroke="#377EB8" stroke-width="3.0" fill="none"/>
<path d="M526.0,791.4H541.4M533.7,783.7V799.1" stroke="#377EB8" stroke-width="3.0" fill="none"/>
<path d="M503.3,807.2H518.7M511.0,799.5V814.9" stroke="#377EB8" stroke-width="3.0" fill="none"/>
<path d="M509.6,811.4H525.0M517.3,803.7V819.1" stroke="#377EB8" stroke-width="3.0" fill="none"/>
<path d="M162.4,806.5C162.8,804.2 164.1,797.5 164.9,793.0C165.7,788.5 166.6,784.1 167.4,779.8C168.2,775.5 169.1,771.3 169.9,767.1C170.7,762.9 171.6,758.8 172.4,754.7C173.2,750.6 174.1,746.6 174.9,742.7C175.7,738.8 176.6,734.9 177.4,731.1C178.2,727.3 179.1,723.5 179.9,719.8C180.7,716.1 181.6,712.5 182.4,708.9C183.2,705.3 184.1,701.8 184.9,698.3C185.7,694.8 186.6,691.4 187.4,688.1C188.2,684.8 189.1,681.5 189.9,678.3C190.7,675.1 191.6,671.9 192.4,668.8C193.2,665.7 194.1,662.6 194.9,659.6C195.7,656.6 196.6,653.6 197.4,650.7C198.2,647.8 199.1,645.0 199.9,642.2C200.7,639.4 201.6,636.8 202.4,634.1C203.2,631.4 204.1,628.8 204.9,626.2C205.7,623.6 206.6,621.2 207.4,618.7C208.2,616.2 209.1,613.9 209.9,611.5C210.7,609.1 211.6,606.9 212.4,604.6C213.2,602.4 214.1,600.1 214.9,598.0C215.7,595.9 216.6,593.8 217.4,591.7C218.2,589.7 219.1,587.7 219.9,585.7C220.7,583.8 220.7,583.6 222.4,580.0C224.1,576.4 227.7,568.8 230.3,563.9C232.9,559.0 235.6,554.5 238.2,550.5C240.8,546.5 243.4,543.0 246.0,539.8C248.6,536.6 251.3,533.9 253.9,531.5C256.5,529.1 259.2,527.2 261.8,525.6C264.4,524.0 267.1,522.9 269.7,522.0C272.3,521.1 275.0,520.6 277.6,520.4C280.2,520.2 282.9,520.4 285.5,520.8C288.1,521.2 290.7,522.0 293.3,523.0C295.9,524.0 298.6,525.4 301.2,527.0C303.8,528.6 306.5,530.4 309.1,532.5C311.7,534.6 314.4,536.9 317.0,539.4C319.6,541.9 322.3,544.7 324.9,547.7C327.5,550.7 330.1,553.9 332.7,557.2C335.3,560.5 338.0,564.1 340.6,567.7C343.2,571.4 345.9,575.2 348.5,579.1C351.1,583.0 353.8,587.1 356.4,591.3C359.0,595.5 361.7,599.7 364.3,604.1C366.9,608.5 369.6,613.0 372.2,617.5C374.8,622.0 377.4,626.6 380.0,631.3C382.6,635.9 385.3,640.7 387.9,645.4C390.5,650.1 393.2,654.9 395.8,659.6C398.4,664.3 401.1,669.0 403.7,673.7C406.3,678.4 409.0,683.1 411.6,687.8C414.2,692.4 416.9,697.1 419.5,701.6C422.1,706.1 424.7,710.6 427.3,715.0C429.9,719.4 432.6,723.7 435.2,727.9C437.8,732.1 440.5,736.2 443.1,740.2C445.7,744.2 448.4,747.9 451.0,751.6C453.6,755.3 456.3,758.9 458.9,762.2C461.5,765.6 464.1,768.7 466.7,771.7C469.3,774.7 472.0,777.5 474.6,780.0C477.2,782.5 479.9,784.9 482.5,787.0C485.1,789.1 487.8,791.0 490.4,792.6C493.0,794.2 495.7,795.6 498.3,796.6C500.9,797.6 503.6,798.4 506.2,798.9C508.8,799.4 511.4,799.5 514.0,799.4C516.6,799.2 519.3,798.8 521.9,798.0C524.5,797.2 528.5,795.0 529.8,794.4" fill="none" stroke="#E41A1C" stroke-width="4.2" stroke-linecap="butt"/>
<path d="M131.5,914.8C131.9,912.1 133.2,904.1 134.0,898.9C134.8,893.7 135.7,888.5 136.5,883.4C137.3,878.3 138.2,873.3 139.0,868.3C139.8,863.3 140.7,858.4 141.5,853.5C142.3,848.6 143.2,843.8 144.0,839.1C144.8,834.4 145.7,829.7 146.5,825.1C147.3,820.5 148.2,815.9 149.0,811.4C149.8,806.9 150.7,802.5 151.5,798.1C152.3,793.7 153.2,789.4 154.0,785.1C154.8,780.8 155.7,776.6 156.5,772.5C157.3,768.4 158.2,764.3 159.0,760.3C159.8,756.3 160.7,752.2 161.5,748.3C162.3,744.4 163.2,740.5 164.0,736.7C164.8,732.9 165.7,729.2 166.5,725.5C167.3,721.8 168.2,718.2 169.0,714.6C169.8,711.0 170.7,707.5 171.5,704.0C172.3,700.5 173.2,697.1 174.0,693.7C174.8,690.3 175.7,687.1 176.5,683.8C177.3,680.5 178.2,677.3 179.0,674.1C179.8,670.9 180.7,667.8 181.5,664.8C182.3,661.8 183.2,658.8 184.0,655.8C184.8,652.8 185.7,650.0 186.5,647.1C187.3,644.2 188.2,641.5 189.0,638.7C189.8,636.0 189.6,636.4 191.5,630.6C193.4,624.8 197.5,612.2 200.5,603.9C203.5,595.6 206.5,588.0 209.5,580.9C212.5,573.8 215.4,567.3 218.4,561.3C221.4,555.3 224.4,549.9 227.4,545.0C230.4,540.1 233.4,535.8 236.4,531.9C239.4,528.0 242.3,524.6 245.3,521.7C248.3,518.8 251.3,516.3 254.3,514.3C257.3,512.3 260.3,510.7 263.3,509.5C266.3,508.3 269.3,507.7 272.3,507.3C275.3,506.9 278.2,507.0 281.2,507.3C284.2,507.6 287.2,508.3 290.2,509.4C293.2,510.4 296.2,511.9 299.2,513.6C302.2,515.3 305.2,517.3 308.2,519.5C311.2,521.7 314.1,524.2 317.1,527.0C320.1,529.8 323.1,532.8 326.1,536.0C329.1,539.2 332.1,542.7 335.1,546.3C338.1,549.9 341.1,553.8 344.1,557.8C347.1,561.8 350.0,565.9 353.0,570.2C356.0,574.5 359.0,578.9 362.0,583.4C365.0,587.9 368.0,592.5 371.0,597.2C374.0,601.9 377.0,606.7 380.0,611.5C383.0,616.3 385.9,621.2 388.9,626.1C391.9,631.0 394.9,635.9 397.9,640.8C400.9,645.7 403.9,650.6 406.9,655.5C409.9,660.4 412.9,665.2 415.9,670.0C418.9,674.8 421.8,679.5 424.8,684.1C427.8,688.7 430.8,693.2 433.8,697.6C436.8,702.0 439.8,706.4 442.8,710.5C445.8,714.6 448.8,718.7 451.8,722.5C454.8,726.3 457.7,730.0 460.7,733.4C463.7,736.8 466.7,740.1 469.7,743.1C472.7,746.1 475.7,749.0 478.7,751.5C481.7,754.0 484.7,756.3 487.7,758.3C490.7,760.3 493.6,762.0 496.6,763.4C499.6,764.8 502.6,766.0 505.6,766.7C508.6,767.5 511.6,767.9 514.6,767.9C517.6,767.9 520.6,767.6 523.6,766.9C526.6,766.2 529.5,765.1 532.5,763.5C535.5,761.9 540.0,758.5 541.5,757.5" fill="none" stroke="#377EB8" stroke-width="4.2" stroke-linecap="butt"/>
<path d="M146.1,919.5C146.5,916.9 147.8,909.2 148.6,904.1C149.4,899.0 150.3,894.1 151.1,889.1C151.9,884.1 152.8,879.2 153.6,874.4C154.4,869.6 155.3,864.8 156.1,860.1C156.9,855.4 157.8,850.7 158.6,846.1C159.4,841.5 160.3,837.0 161.1,832.5C161.9,828.0 162.8,823.6 163.6,819.2C164.4,814.8 165.3,810.5 166.1,806.2C166.9,801.9 167.8,797.8 168.6,793.6C169.4,789.5 170.3,785.3 171.1,781.3C171.9,777.3 172.8,773.3 173.6,769.4C174.4,765.5 175.3,761.6 176.1,757.8C176.9,754.0 177.8,750.1 178.6,746.4C179.4,742.7 180.3,739.0 181.1,735.4C181.9,731.8 182.8,728.2 183.6,724.7C184.4,721.2 185.3,717.8 186.1,714.4C186.9,711.0 187.8,707.6 188.6,704.3C189.4,701.0 190.3,697.7 191.1,694.5C191.9,691.3 192.8,688.1 193.6,685.0C194.4,681.9 195.3,678.9 196.1,675.9C196.9,672.9 197.8,669.9 198.6,667.0C199.4,664.1 200.3,661.1 201.1,658.3C201.9,655.5 202.8,652.7 203.6,650.0C204.4,647.3 204.5,646.9 206.1,642.0C207.7,637.1 210.8,627.3 213.2,620.5C215.6,613.7 218.0,607.2 220.4,601.1C222.8,595.0 225.1,589.3 227.5,583.9C229.9,578.5 232.2,573.4 234.6,568.6C237.0,563.8 239.4,559.4 241.8,555.2C244.2,551.1 246.5,547.2 248.9,543.7C251.3,540.2 253.7,536.9 256.1,533.9C258.5,530.9 260.8,528.2 263.2,525.7C265.6,523.2 268.0,521.1 270.4,519.1C272.8,517.1 275.1,515.5 277.5,514.0C279.9,512.5 282.3,511.3 284.7,510.3C287.1,509.3 289.4,508.4 291.8,507.8C294.2,507.2 296.6,506.8 299.0,506.6C301.4,506.4 303.7,506.4 306.1,506.5C308.5,506.6 310.9,507.0 313.3,507.5C315.7,508.0 318.0,508.6 320.4,509.4C322.8,510.2 325.2,511.1 327.6,512.2C330.0,513.3 332.3,514.5 334.7,515.8C337.1,517.1 339.5,518.6 341.9,520.1C344.3,521.6 346.6,523.3 349.0,525.0C351.4,526.7 353.7,528.6 356.1,530.5C358.5,532.4 360.9,534.4 363.3,536.4C365.7,538.4 368.0,540.5 370.4,542.6C372.8,544.7 375.2,546.9 377.6,549.1C380.0,551.3 382.3,553.5 384.7,555.8C387.1,558.0 389.5,560.3 391.9,562.6C394.3,564.9 396.6,567.2 399.0,569.5C401.4,571.8 403.8,574.0 406.2,576.2C408.6,578.4 410.9,580.6 413.3,582.8C415.7,585.0 418.1,587.1 420.5,589.2C422.9,591.3 425.2,593.3 427.6,595.2C430.0,597.1 432.4,599.0 434.8,600.8C437.2,602.6 439.5,604.3 441.9,605.9C444.3,607.5 446.7,609.1 449.1,610.5C451.5,611.9 453.8,613.1 456.2,614.3C458.6,615.4 461.0,616.5 463.4,617.4C465.8,618.3 468.1,619.1 470.5,619.7C472.9,620.3 475.3,620.7 477.7,621.0C480.1,621.3 483.6,621.2 484.8,621.3" fill="none" stroke="#4DAF4A" stroke-width="4.2" stroke-linecap="butt"/>
<rect x="111.7" y="481.6" width="450.4" height="461.2" fill="none" stroke="#000" stroke-width="4.2"/>
<line x1="116.10" y1="944.50" x2="116.10" y2="948.60" stroke="#333" stroke-width="3.6"/>
<text x="116.1" y="976.6" font-size="30.3" fill="#4D4D4D" text-anchor="middle">−30</text>
<line x1="209.50" y1="944.50" x2="209.50" y2="948.60" stroke="#333" stroke-width="3.6"/>
<text x="209.5" y="976.6" font-size="30.3" fill="#4D4D4D" text-anchor="middle">−20</text>
<line x1="302.90" y1="944.50" x2="302.90" y2="948.60" stroke="#333" stroke-width="3.6"/>
<text x="302.9" y="976.6" font-size="30.3" fill="#4D4D4D" text-anchor="middle">−10</text>
<line x1="396.30" y1="944.50" x2="396.30" y2="948.60" stroke="#333" stroke-width="3.6"/>
<text x="396.3" y="976.6" font-size="30.3" fill="#4D4D4D" text-anchor="middle">0</text>
<line x1="489.70" y1="944.50" x2="489.70" y2="948.60" stroke="#333" stroke-width="3.6"/>
<text x="489.7" y="976.6" font-size="30.3" fill="#4D4D4D" text-anchor="middle">10</text>
<line x1="106.00" y1="541.80" x2="110.00" y2="541.80" stroke="#333" stroke-width="3.6"/>
<text x="102.0" y="551.0" font-size="30.3" fill="#4D4D4D" text-anchor="end">10</text>
<line x1="106.00" y1="682.60" x2="110.00" y2="682.60" stroke="#333" stroke-width="3.6"/>
<text x="102.0" y="691.8" font-size="30.3" fill="#4D4D4D" text-anchor="end">0</text>
<line x1="106.00" y1="823.40" x2="110.00" y2="823.40" stroke="#333" stroke-width="3.6"/>
<text x="102.0" y="832.6" font-size="30.3" fill="#4D4D4D" text-anchor="end">−10</text>
<text x="330.6" y="1011.3" font-size="29.5" fill="#000" text-anchor="middle">PC1(54.3%)</text>
<text transform="translate(64.5,712.0) rotate(-90)" font-size="29.5" fill="#000" text-anchor="middle">PC2(27.1%)</text>
<line x1="572.60" y1="539.60" x2="597.80" y2="539.60" stroke="#E41A1C" stroke-width="3.7"/>
<circle cx="585.2" cy="539.6" r="6" fill="#E41A1C"/>
<line x1="572.60" y1="593.00" x2="597.80" y2="593.00" stroke="#377EB8" stroke-width="3.7"/>
<circle cx="585.2" cy="593.0" r="6" fill="#377EB8"/>
<line x1="572.60" y1="629.00" x2="597.80" y2="629.00" stroke="#4DAF4A" stroke-width="3.7"/>
<circle cx="585.2" cy="629.0" r="6" fill="#4DAF4A"/>
<line x1="572.60" y1="664.20" x2="597.80" y2="664.20" stroke="#984EA3" stroke-width="3.7"/>
<circle cx="585.2" cy="664.2" r="6" fill="#984EA3"/>
<text x="606.2" y="533.8" font-size="29.7" fill="#000">TNP sc-</text>
<text x="606.2" y="563.3" font-size="29.7" fill="#000">pseudobulk</text>
<text x="606.2" y="605.0" font-size="29.7" fill="#000">TNP</text>
<text x="606.2" y="641.3" font-size="29.7" fill="#000">Vector</text>
<text x="606.2" y="676.6" font-size="29.7" fill="#000">WT NSC</text>
<circle cx="585.0" cy="777.4" r="4.6" fill="#000"/>
<path d="M585.0,803.1 L591.7,814.1 L578.3,814.1Z" fill="#000"/>
<rect x="580.40" y="836.80" width="9.20" height="9.20" fill="#000"/>
<path d="M577.2,873.6H592.8M585.0,865.8V881.4" stroke="#000" stroke-width="2.6" fill="none"/>
<rect x="579.60" y="900.60" width="10.80" height="10.80" fill="#000"/>
<circle cx="583" cy="904" r="0.7" fill="#999"/>
<circle cx="583" cy="908" r="0.7" fill="#999"/>
<circle cx="587" cy="904" r="0.7" fill="#999"/>
<circle cx="587" cy="908" r="0.7" fill="#999"/>
<text x="606.9" y="786.9" font-size="29.5" fill="#000">T0</text>
<text x="606.9" y="818.5" font-size="29.5" fill="#000">T1</text>
<text x="606.9" y="850.0" font-size="29.5" fill="#000">T2</text>
<text x="606.9" y="882.3" font-size="29.5" fill="#000">End</text>
<text x="606.9" y="913.9" font-size="29.5" fill="#000">EndSVZ</text>
</g>
<g id="pc">
<text x="833.5" y="515.0" font-size="33" fill="#000" font-weight="bold">c</text>
<text x="1133.0" y="511.4" font-size="29.5" fill="#000" text-anchor="middle">TNP vs Vector</text>
<rect x="968.20" y="653.80" width="118.80" height="31.70" fill="#FF0000"/>
<rect x="968.20" y="685.50" width="118.80" height="27.80" fill="#0000FF"/>
<rect x="1094.00" y="534.55" width="119.40" height="150.95" fill="#FF0000"/>
<rect x="1094.00" y="685.50" width="119.40" height="101.26" fill="#0000FF"/>
<rect x="1220.40" y="538.93" width="118.80" height="146.57" fill="#FF0000"/>
<rect x="1220.40" y="685.50" width="118.80" height="218.03" fill="#0000FF"/>
<text x="1027.6" y="675.5" font-size="29" fill="#fff" text-anchor="middle">268</text>
<text x="1027.6" y="708.9" font-size="29" fill="#fff" text-anchor="middle">235</text>
<text x="1154.5" y="616.8" font-size="29" fill="#fff" text-anchor="middle">1276</text>
<text x="1154.5" y="753.8" font-size="29" fill="#fff" text-anchor="middle">856</text>
<text x="1280.0" y="616.8" font-size="29" fill="#fff" text-anchor="middle">1239</text>
<text x="1280.0" y="812.5" font-size="29" fill="#fff" text-anchor="middle">1843</text>
<text x="1342.3" y="616.8" font-size="28.5" fill="#E60012">Up</text>
<text x="1342.3" y="782.6" font-size="28.5" fill="#0000FF">Down</text>
<line x1="960.50" y1="533.00" x2="960.50" y2="907.00" stroke="#000" stroke-width="3.2"/>
<line x1="944.50" y1="567.00" x2="960.50" y2="567.00" stroke="#000" stroke-width="3.2"/>
<text x="941.8" y="577.6" font-size="30.6" fill="#000" text-anchor="end">1000</text>
<line x1="944.50" y1="626.00" x2="960.50" y2="626.00" stroke="#000" stroke-width="3.2"/>
<text x="941.8" y="636.6" font-size="30.6" fill="#000" text-anchor="end">500</text>
<line x1="944.50" y1="685.00" x2="960.50" y2="685.00" stroke="#000" stroke-width="3.2"/>
<text x="941.8" y="695.6" font-size="30.6" fill="#000" text-anchor="end">0</text>
<line x1="944.50" y1="744.00" x2="960.50" y2="744.00" stroke="#000" stroke-width="3.2"/>
<text x="941.8" y="754.6" font-size="30.6" fill="#000" text-anchor="end">500</text>
<line x1="944.50" y1="803.00" x2="960.50" y2="803.00" stroke="#000" stroke-width="3.2"/>
<text x="941.8" y="813.6" font-size="30.6" fill="#000" text-anchor="end">1000</text>
<line x1="944.50" y1="862.00" x2="960.50" y2="862.00" stroke="#000" stroke-width="3.2"/>
<text x="941.8" y="872.6" font-size="30.6" fill="#000" text-anchor="end">1500</text>
<text x="1026.5" y="939.0" font-size="29.5" fill="#000" text-anchor="middle">T<tspan dx="-2">1</tspan></text>
<text x="1154.7" y="941.4" font-size="29.5" fill="#000" text-anchor="middle">T2</text>
<text x="1280.0" y="941.4" font-size="29.5" fill="#000" text-anchor="middle">End</text>
<text transform="translate(856.4,733.4) rotate(-90)" font-size="29.9" fill="#000" text-anchor="middle">Number of DEGs</text>
<text x="1596.3" y="511.6" font-size="29.5" fill="#E60012">UP End</text>
<text x="1401.4" y="697.7" font-size="29.5" fill="#E60012">UP T1</text>
<text x="1614.1" y="697.7" font-size="29.5" fill="#E60012">UP T2</text>
<text x="1604.6" y="774.3" font-size="29.5" fill="#0000FF">DOWN End</text>
<text x="1482.2" y="952.5" font-size="29.5" fill="#0000FF" text-anchor="end">DOWN T1</text>
<text x="1614.1" y="952.5" font-size="29.5" fill="#0000FF">DOWN T2</text>
<circle cx="1548.8" cy="560.4" r="90.2" fill="none" stroke="#000" stroke-width="3"/>
<circle cx="1518.8" cy="617.7" r="90.2" fill="none" stroke="#000" stroke-width="3"/>
<circle cx="1588.6" cy="617.7" r="90.2" fill="none" stroke="#000" stroke-width="3"/>
<circle cx="1553.9" cy="821.2" r="90.2" fill="none" stroke="#000" stroke-width="3"/>
<circle cx="1518.8" cy="878.6" r="90.2" fill="none" stroke="#000" stroke-width="3"/>
<circle cx="1588.6" cy="878.6" r="90.2" fill="none" stroke="#000" stroke-width="3"/>
<text x="1553.0" y="511.6" font-size="28.6" fill="#000" text-anchor="middle">658</text>
<text x="1502.4" y="563.9" font-size="28.6" fill="#000" text-anchor="middle">9</text>
<text x="1614.8" y="563.9" font-size="28.6" fill="#000" text-anchor="middle">451</text>
<text x="1552.8" y="605.0" font-size="28.6" fill="#000" text-anchor="middle">121</text>
<text x="1474.1" y="662.5" font-size="28.6" fill="#000" text-anchor="middle">67</text>
<text x="1636.7" y="662.5" font-size="28.6" fill="#000" text-anchor="middle">633</text>
<text x="1551.6" y="679.2" font-size="28.6" fill="#000" text-anchor="middle">71</text>
<text x="1552.8" y="774.3" font-size="28.6" fill="#000" text-anchor="middle">1437</text>
<text x="1488.4" y="825.8" font-size="28.6" fill="#000" text-anchor="middle">32</text>
<text x="1616.2" y="823.5" font-size="28.6" fill="#000" text-anchor="middle">300</text>
<text x="1553.5" y="869.3" font-size="28.6" fill="#000" text-anchor="middle">74</text>
<text x="1474.7" y="918.0" font-size="28.6" fill="#000" text-anchor="middle">72</text>
<text x="1636.7" y="918.0" font-size="28.6" fill="#000" text-anchor="middle">425</text>
<text x="1551.4" y="937.0" font-size="28.6" fill="#000" text-anchor="middle">57</text>
</g>
<g id="pd">
<text x="14.0" y="1071.4" font-size="33" fill="#000" font-weight="bold">d</text>
<text x="99.0" y="1071.4" font-size="29.5" fill="#000">TNP vs Vector</text>
<line x1="477.70" y1="1108.70" x2="712.14" y2="1108.70" stroke="#000" stroke-width="2.6"/>
<line x1="479.00" y1="1108.70" x2="479.00" y2="1096.50" stroke="#000" stroke-width="2.6"/>
<line x1="512.12" y1="1108.70" x2="512.12" y2="1096.50" stroke="#000" stroke-width="2.6"/>
<line x1="545.24" y1="1108.70" x2="545.24" y2="1096.50" stroke="#000" stroke-width="2.6"/>
<line x1="578.36" y1="1108.70" x2="578.36" y2="1096.50" stroke="#000" stroke-width="2.6"/>
<line x1="611.48" y1="1108.70" x2="611.48" y2="1096.50" stroke="#000" stroke-width="2.6"/>
<line x1="644.60" y1="1108.70" x2="644.60" y2="1096.50" stroke="#000" stroke-width="2.6"/>
<line x1="677.72" y1="1108.70" x2="677.72" y2="1096.50" stroke="#000" stroke-width="2.6"/>
<line x1="710.84" y1="1108.70" x2="710.84" y2="1096.50" stroke="#000" stroke-width="2.6"/>
<line x1="745.50" y1="1108.70" x2="780.90" y2="1108.70" stroke="#000" stroke-width="2.6"/>
<line x1="746.80" y1="1108.70" x2="746.80" y2="1096.50" stroke="#000" stroke-width="2.6"/>
<line x1="779.60" y1="1108.70" x2="779.60" y2="1096.50" stroke="#000" stroke-width="2.6"/>
<text x="481.0" y="1092.2" font-size="23.8" fill="#000" text-anchor="middle">0</text>
<text x="508.7" y="1092.2" font-size="23.8" fill="#000" text-anchor="middle">2</text>
<text x="640.7" y="1092.2" font-size="23.8" fill="#000" text-anchor="middle">10</text>
<text x="708.0" y="1092.2" font-size="23.8" fill="#000" text-anchor="middle">14</text>
<text x="744.3" y="1092.2" font-size="23.8" fill="#000" text-anchor="middle">18</text>
<text x="783.7" y="1092.2" font-size="23.8" fill="#000" text-anchor="middle">20</text>
<text x="805" y="1106.6" font-size="29.6">−log10(<tspan font-style="italic">P</tspan>.adj)</text>
<rect x="479.50" y="1117.80" width="71.00" height="23.20" fill="#FF0000"/>
<text x="476.6" y="1138.9" font-size="29.6" fill="#000" text-anchor="end">forebrain development</text>
<rect x="479.50" y="1144.20" width="64.30" height="23.10" fill="#FF0000"/>
<text x="476.6" y="1165.2" font-size="29.6" fill="#000" text-anchor="end">mitotic nuclear division</text>
<rect x="459.50" y="1172.30" width="20.00" height="22.90" fill="#0000FF"/>
<text x="483.3" y="1191.6" font-size="29.85" fill="#000">embryonic organ morphogenesis</text>
<rect x="479.50" y="1206.70" width="231.80" height="23.50" fill="#FF0000"/>
<text x="476.6" y="1227.8" font-size="29.6" fill="#000" text-anchor="end">mitotic nuclear division</text>
<rect x="479.50" y="1232.70" width="231.80" height="23.50" fill="#FF0000"/>
<text x="476.6" y="1253.7" font-size="29.6" fill="#000" text-anchor="end">glial cell differentiation</text>
<rect x="479.50" y="1258.70" width="157.00" height="23.50" fill="#FF0000"/>
<text x="476.6" y="1279.4" font-size="29.6" fill="#000" text-anchor="end">regulation of angiogenesis</text>
<rect x="479.50" y="1284.70" width="105.00" height="23.30" fill="#FF0000"/>
<text x="476.6" y="1305.0" font-size="29.6" fill="#000" text-anchor="end">epithelial cell migration</text>
<rect x="479.50" y="1310.50" width="118.40" height="23.50" fill="#FF0000"/>
<text x="476.6" y="1334.1" font-size="29.6" fill="#000" text-anchor="end">PI3K−AKT</text>
<rect x="479.50" y="1336.20" width="66.00" height="23.50" fill="#FF0000"/>
<text x="476.6" y="1357.3" font-size="29.6" fill="#000" text-anchor="end">malignant glioma</text>
<rect x="426.80" y="1364.30" width="52.70" height="23.50" fill="#0000FF"/>
<text x="483.3" y="1385.4" font-size="29.85" fill="#000">trans−synaptic signaling</text>
<rect x="444.30" y="1390.30" width="35.20" height="23.90" fill="#0000FF"/>
<text x="483.3" y="1414.2" font-size="29.85" fill="#000">CNS neuron differentiation</text>
<rect x="479.50" y="1427.20" width="186.50" height="23.10" fill="#FF0000"/>
<text x="476.6" y="1444.7" font-size="33.2" fill="#000" text-anchor="end">mitotic nuclear division</text>
<rect x="479.50" y="1452.80" width="144.00" height="23.50" fill="#FF0000"/>
<text x="476.6" y="1473.9" font-size="33.2" fill="#000" text-anchor="end">oligodendrocyte differentiation</text>
<rect x="479.50" y="1479.10" width="69.20" height="23.20" fill="#FF0000"/>
<text x="476.6" y="1499.5" font-size="29.6" fill="#000" text-anchor="end">PI3K−AKT</text>
<rect x="479.50" y="1504.80" width="46.00" height="23.20" fill="#FF0000"/>
<text x="476.6" y="1524.8" font-size="29.6" fill="#000" text-anchor="end">malignant glioma</text>
<rect x="281.00" y="1532.50" width="198.50" height="23.90" fill="#0000FF"/>
<text x="483.3" y="1551.1" font-size="29.85" fill="#000">trans−synaptic signaling</text>
<rect x="355.50" y="1558.90" width="124.00" height="23.50" fill="#0000FF"/>
<text x="483.3" y="1582.8" font-size="29.85" fill="#000">regulation of neuron differentiation</text>
<rect x="746.80" y="1206.70" width="32.80" height="23.50" fill="#FF0000"/>
<rect x="219.50" y="1532.50" width="33.50" height="23.90" fill="#0000FF"/>
<line x1="950.50" y1="1121.00" x2="950.50" y2="1195.50" stroke="#231815" stroke-width="3.5"/>
<line x1="950.50" y1="1206.70" x2="950.50" y2="1413.50" stroke="#231815" stroke-width="3.5"/>
<line x1="950.50" y1="1429.00" x2="950.50" y2="1581.50" stroke="#231815" stroke-width="3.5"/>
<text x="960.6" y="1167.7" font-size="29.5" fill="#000">T<tspan dx="-1.5">1</tspan></text>
<text x="961.0" y="1318.3" font-size="29.5" fill="#000">T2</text>
<text x="961.8" y="1514.3" font-size="29.5" fill="#000">End</text>
<text x="780.7" y="1335.3" font-size="29.5" fill="#E60012">UP</text>
<text x="206.3" y="1398.8" font-size="29.5" fill="#0000FF">DOWN</text>
<line x1="279.70" y1="1590.80" x2="479.70" y2="1590.80" stroke="#000" stroke-width="2.6"/>
<line x1="478.40" y1="1590.80" x2="478.40" y2="1603.80" stroke="#000" stroke-width="2.6"/>
<line x1="445.50" y1="1590.80" x2="445.50" y2="1603.80" stroke="#000" stroke-width="2.6"/>
<line x1="412.60" y1="1590.80" x2="412.60" y2="1603.80" stroke="#000" stroke-width="2.6"/>
<line x1="379.70" y1="1590.80" x2="379.70" y2="1603.80" stroke="#000" stroke-width="2.6"/>
<line x1="346.80" y1="1590.80" x2="346.80" y2="1603.80" stroke="#000" stroke-width="2.6"/>
<line x1="313.90" y1="1590.80" x2="313.90" y2="1603.80" stroke="#000" stroke-width="2.6"/>
<line x1="281.00" y1="1590.80" x2="281.00" y2="1603.80" stroke="#000" stroke-width="2.6"/>
<line x1="218.20" y1="1590.80" x2="254.30" y2="1590.80" stroke="#000" stroke-width="2.6"/>
<line x1="219.50" y1="1590.80" x2="219.50" y2="1603.80" stroke="#000" stroke-width="2.6"/>
<line x1="253.00" y1="1590.80" x2="253.00" y2="1603.80" stroke="#000" stroke-width="2.6"/>
<text x="217.8" y="1632.0" font-size="23.8" fill="#000" text-anchor="middle">18</text>
<text x="251.0" y="1632.0" font-size="23.8" fill="#000" text-anchor="middle">16</text>
<text x="313.7" y="1632.0" font-size="23.8" fill="#000" text-anchor="middle">10</text>
<text x="445.4" y="1632.0" font-size="23.8" fill="#000" text-anchor="middle">2</text>
<text x="481.2" y="1632.0" font-size="23.8" fill="#000" text-anchor="middle">0</text>
<text x="33.5" y="1602.5" font-size="29.6">−log10(<tspan font-style="italic">P</tspan>.adj)</text>
</g>
<g id="pe">
<text x="1057.0" y="1071.5" font-size="33" fill="#000" font-weight="bold">e</text>
<text x="1217.0" y="1071.5" font-size="29.7" fill="#000">TNP vs Vector upregulated genes</text>
<rect x="1217" y="1083.00" width="117.8" height="1.76" fill="#FFD5C7"/>
<rect x="1217" y="1084.46" width="117.8" height="1.76" fill="#FFC4B3"/>
<rect x="1217" y="1085.92" width="117.8" height="1.76" fill="#FFA792"/>
<rect x="1217" y="1087.37" width="117.8" height="1.76" fill="#FFA089"/>
<rect x="1217" y="1088.83" width="117.8" height="1.76" fill="#FF7B64"/>
<rect x="1217" y="1090.29" width="117.8" height="1.76" fill="#FF6956"/>
<rect x="1217" y="1091.75" width="117.8" height="1.76" fill="#FF6350"/>
<rect x="1217" y="1093.20" width="117.8" height="6.13" fill="#FF1216"/>
<rect x="1217" y="1099.03" width="117.8" height="1.76" fill="#FF9C86"/>
<rect x="1217" y="1100.49" width="117.8" height="3.22" fill="#FF1216"/>
<rect x="1217" y="1103.41" width="117.8" height="1.76" fill="#FF4B3D"/>
<rect x="1217" y="1104.86" width="117.8" height="3.22" fill="#FF201F"/>
<rect x="1217" y="1107.78" width="117.8" height="1.76" fill="#FF886E"/>
<rect x="1217" y="1109.24" width="117.8" height="1.76" fill="#FF201F"/>
<rect x="1217" y="1110.69" width="117.8" height="1.76" fill="#FF4B3D"/>
<rect x="1217" y="1112.15" width="117.8" height="1.76" fill="#FF1216"/>
<rect x="1217" y="1113.61" width="117.8" height="1.76" fill="#FF4B3D"/>
<rect x="1217" y="1115.07" width="117.8" height="1.76" fill="#FF1216"/>
<rect x="1217" y="1116.52" width="117.8" height="1.76" fill="#FF6754"/>
<rect x="1217" y="1117.98" width="117.8" height="9.05" fill="#FF1216"/>
<rect x="1217" y="1128.18" width="117.8" height="1.76" fill="#FFF6F3"/>
<rect x="1217" y="1129.64" width="117.8" height="1.76" fill="#FFFAF9"/>
<rect x="1217" y="1132.56" width="117.8" height="1.76" fill="#FAF9FF"/>
<rect x="1217" y="1136.93" width="117.8" height="3.22" fill="#FFFAF9"/>
<rect x="1217" y="1144.22" width="117.8" height="1.76" fill="#FAF9FF"/>
<rect x="1217" y="1145.68" width="117.8" height="3.22" fill="#FFF6F3"/>
<rect x="1217" y="1148.59" width="117.8" height="3.22" fill="#FAF9FF"/>
<rect x="1217" y="1157.34" width="117.8" height="1.76" fill="#FFF6F3"/>
<rect x="1217" y="1158.79" width="117.8" height="1.76" fill="#FFFAF9"/>
<rect x="1217" y="1160.25" width="117.8" height="1.76" fill="#FFF6F3"/>
<rect x="1217" y="1161.71" width="117.8" height="1.76" fill="#FAF9FF"/>
<rect x="1217" y="1163.17" width="117.8" height="1.76" fill="#FFFAF9"/>
<rect x="1217" y="1166.08" width="117.8" height="1.76" fill="#FAF9FF"/>
<rect x="1217" y="1170.45" width="117.8" height="1.76" fill="#FFFAF9"/>
<rect x="1217" y="1183.57" width="117.8" height="1.76" fill="#FFF3EF"/>
<rect x="1217" y="1186.49" width="117.8" height="1.76" fill="#FFE9E2"/>
<rect x="1217" y="1187.95" width="117.8" height="1.76" fill="#FFF0EC"/>
<rect x="1217" y="1190.86" width="117.8" height="1.76" fill="#FFE9E2"/>
<rect x="1217" y="1193.78" width="117.8" height="1.76" fill="#FFF0EC"/>
<rect x="1217" y="1196.69" width="117.8" height="1.76" fill="#FFE9E2"/>
<rect x="1217" y="1198.15" width="117.8" height="1.76" fill="#FFF0EC"/>
<rect x="1217" y="1199.61" width="117.8" height="1.76" fill="#FFF7F5"/>
<rect x="1217" y="1201.06" width="117.8" height="1.76" fill="#FFF3EF"/>
<rect x="1217" y="1203.98" width="117.8" height="1.76" fill="#FFE9E2"/>
<rect x="1217" y="1205.44" width="117.8" height="1.76" fill="#FFB09C"/>
<rect x="1217" y="1206.89" width="117.8" height="1.76" fill="#FFD0C2"/>
<rect x="1217" y="1208.35" width="117.8" height="1.76" fill="#FFE5DC"/>
<rect x="1217" y="1209.81" width="117.8" height="1.76" fill="#FFC4B3"/>
<rect x="1217" y="1211.27" width="117.8" height="1.76" fill="#FFE4DC"/>
<rect x="1217" y="1215.64" width="117.8" height="1.76" fill="#FFC6B6"/>
<rect x="1217" y="1217.10" width="117.8" height="1.76" fill="#FFE4DC"/>
<rect x="1217" y="1220.01" width="117.8" height="1.76" fill="#FFD4C7"/>
<rect x="1217" y="1221.47" width="117.8" height="1.76" fill="#FFD1C3"/>
<rect x="1217" y="1222.93" width="117.8" height="1.76" fill="#FFEBE4"/>
<rect x="1217" y="1224.38" width="117.8" height="1.76" fill="#FFDBCF"/>
<rect x="1217" y="1225.84" width="117.8" height="1.76" fill="#FFEFEA"/>
<rect x="1217" y="1227.30" width="117.8" height="1.76" fill="#FFE3DA"/>
<rect x="1217" y="1228.76" width="117.8" height="1.76" fill="#E0D6FF"/>
<rect x="1217" y="1230.22" width="117.8" height="1.76" fill="#E6DDFF"/>
<rect x="1217" y="1231.67" width="117.8" height="1.76" fill="#FFA792"/>
<rect x="1217" y="1233.13" width="117.8" height="1.76" fill="#EDE6FF"/>
<rect x="1217" y="1234.59" width="117.8" height="1.76" fill="#DCD0FF"/>
<rect x="1217" y="1236.05" width="117.8" height="1.76" fill="#FFF5F2"/>
<rect x="1217" y="1237.50" width="117.8" height="1.76" fill="#CFC1FF"/>
<rect x="1217" y="1238.96" width="117.8" height="1.76" fill="#FFD3C5"/>
<rect x="1217" y="1240.42" width="117.8" height="1.76" fill="#FFCBBB"/>
<rect x="1217" y="1241.88" width="117.8" height="1.76" fill="#FFDBCF"/>
<rect x="1217" y="1243.33" width="117.8" height="1.76" fill="#FFD7CA"/>
<rect x="1217" y="1244.79" width="117.8" height="1.76" fill="#FFF7F4"/>
<rect x="1217" y="1247.71" width="117.8" height="1.76" fill="#D3C5FF"/>
<rect x="1217" y="1249.16" width="117.8" height="1.76" fill="#FFCABB"/>
<rect x="1217" y="1250.62" width="117.8" height="1.76" fill="#FFF5F1"/>
<rect x="1217" y="1254.99" width="117.8" height="1.76" fill="#FFEDE7"/>
<rect x="1217" y="1256.45" width="117.8" height="1.76" fill="#FFD7CA"/>
<rect x="1217" y="1257.91" width="117.8" height="1.76" fill="#FFCFC1"/>
<rect x="1217" y="1260.82" width="117.8" height="1.76" fill="#FFDACE"/>
<rect x="1217" y="1262.28" width="117.8" height="3.22" fill="#FF6956"/>
<rect x="1217" y="1265.20" width="117.8" height="1.76" fill="#FFF8F6"/>
<rect x="1217" y="1266.65" width="117.8" height="1.76" fill="#FF9D86"/>
<rect x="1217" y="1268.11" width="117.8" height="1.76" fill="#FFE9E2"/>
<rect x="1217" y="1269.57" width="117.8" height="1.76" fill="#FFFDFC"/>
<rect x="1217" y="1271.03" width="117.8" height="1.76" fill="#FFE1D7"/>
<rect x="1217" y="1272.48" width="117.8" height="1.76" fill="#FFE7DF"/>
<rect x="1217" y="1273.94" width="117.8" height="1.76" fill="#FFF5F2"/>
<rect x="1217" y="1275.40" width="117.8" height="1.76" fill="#FF9E87"/>
<rect x="1217" y="1276.86" width="117.8" height="1.76" fill="#FFA089"/>
<rect x="1217" y="1278.32" width="117.8" height="1.76" fill="#FFEAE3"/>
<rect x="1217" y="1279.77" width="117.8" height="1.76" fill="#FFE6DE"/>
<rect x="1217" y="1281.23" width="117.8" height="1.76" fill="#FFFEFE"/>
<rect x="1217" y="1282.69" width="117.8" height="1.76" fill="#FFFCFB"/>
<rect x="1217" y="1284.15" width="117.8" height="1.76" fill="#FFD5C7"/>
<rect x="1217" y="1285.60" width="117.8" height="1.76" fill="#FFF4F0"/>
<rect x="1217" y="1287.06" width="117.8" height="1.76" fill="#FF977F"/>
<rect x="1217" y="1288.52" width="117.8" height="1.76" fill="#FFFCFB"/>
<rect x="1217" y="1289.98" width="117.8" height="1.76" fill="#FFFCFC"/>
<rect x="1217" y="1291.43" width="117.8" height="1.76" fill="#FFF7F5"/>
<rect x="1217" y="1292.89" width="117.8" height="1.76" fill="#FF9E88"/>
<rect x="1217" y="1294.35" width="117.8" height="1.76" fill="#FFDDD3"/>
<rect x="1217" y="1295.81" width="117.8" height="1.76" fill="#FFEEE8"/>
<rect x="1217" y="1297.26" width="117.8" height="1.76" fill="#FFD6C9"/>
<rect x="1217" y="1298.72" width="117.8" height="1.76" fill="#FFDBCF"/>
<rect x="1217" y="1300.18" width="117.8" height="1.76" fill="#FFEBE5"/>
<rect x="1217" y="1301.64" width="117.8" height="1.76" fill="#FFE7DF"/>
<rect x="1217" y="1303.09" width="117.8" height="1.76" fill="#FF967E"/>
<rect x="1217" y="1304.55" width="117.8" height="1.76" fill="#FFFAF8"/>
<rect x="1217" y="1306.01" width="117.8" height="1.76" fill="#FFA690"/>
<rect x="1217" y="1307.47" width="117.8" height="1.76" fill="#FFFDFD"/>
<rect x="1217" y="1308.92" width="117.8" height="1.76" fill="#FFF4F1"/>
<rect x="1217" y="1310.38" width="117.8" height="1.76" fill="#FFCABB"/>
<rect x="1217" y="1311.84" width="117.8" height="1.76" fill="#FF957E"/>
<rect x="1217" y="1313.30" width="117.8" height="1.76" fill="#FFE6DE"/>
<rect x="1217" y="1314.75" width="117.8" height="1.76" fill="#FFECE7"/>
<rect x="1217" y="1316.21" width="117.8" height="1.76" fill="#FFF3F0"/>
<rect x="1217" y="1317.67" width="117.8" height="1.76" fill="#FFE1D7"/>
<rect x="1217" y="1319.13" width="117.8" height="1.76" fill="#FFB8A6"/>
<rect x="1217" y="1320.58" width="117.8" height="1.76" fill="#FF9F89"/>
<rect x="1217" y="1322.04" width="117.8" height="3.22" fill="#FFFCFB"/>
<rect x="1217" y="1324.96" width="117.8" height="1.76" fill="#FFE9E2"/>
<rect x="1217" y="1326.42" width="117.8" height="1.76" fill="#FFFDFD"/>
<rect x="1217" y="1327.87" width="117.8" height="1.76" fill="#FFBDAC"/>
<rect x="1217" y="1329.33" width="117.8" height="1.76" fill="#FFDFD5"/>
<rect x="1217" y="1330.79" width="117.8" height="1.76" fill="#FFB9A7"/>
<rect x="1217" y="1332.25" width="117.8" height="1.76" fill="#FFB4A1"/>
<rect x="1217" y="1333.70" width="117.8" height="1.76" fill="#FFE1D8"/>
<rect x="1217" y="1335.16" width="117.8" height="1.76" fill="#FFF9F8"/>
<rect x="1217" y="1336.62" width="117.8" height="1.76" fill="#FFFEFE"/>
<rect x="1217" y="1338.08" width="117.8" height="1.76" fill="#FFEBE5"/>
<rect x="1217" y="1339.53" width="117.8" height="1.76" fill="#FFDBD0"/>
<rect x="1217" y="1340.99" width="117.8" height="1.76" fill="#FFE7DF"/>
<rect x="1217" y="1342.45" width="117.8" height="1.76" fill="#FFE0D6"/>
<rect x="1217" y="1343.91" width="117.8" height="1.76" fill="#FFEDE7"/>
<rect x="1217" y="1345.36" width="117.8" height="1.76" fill="#FFE9E2"/>
<rect x="1217" y="1346.82" width="117.8" height="1.76" fill="#FFF6F3"/>
<rect x="1217" y="1348.28" width="117.8" height="1.76" fill="#FFE0D6"/>
<rect x="1217" y="1349.74" width="117.8" height="1.76" fill="#FFD6C9"/>
<rect x="1217" y="1351.19" width="117.8" height="1.76" fill="#FFF7F5"/>
<rect x="1217" y="1352.65" width="117.8" height="1.76" fill="#FFE1D8"/>
<rect x="1217" y="1354.11" width="117.8" height="1.76" fill="#FFE3DA"/>
<rect x="1217" y="1355.57" width="117.8" height="1.76" fill="#FFE2D9"/>
<rect x="1217" y="1357.02" width="117.8" height="1.76" fill="#FFA792"/>
<rect x="1217" y="1358.48" width="117.8" height="1.76" fill="#FF9880"/>
<rect x="1217" y="1359.94" width="117.8" height="1.76" fill="#FFF8F6"/>
<rect x="1217" y="1361.40" width="117.8" height="1.76" fill="#FF9E88"/>
<rect x="1217" y="1362.85" width="117.8" height="1.76" fill="#FFFDFD"/>
<rect x="1217" y="1364.31" width="117.8" height="3.22" fill="#FFFEFD"/>
<rect x="1217" y="1367.23" width="117.8" height="1.76" fill="#FFDACE"/>
<rect x="1217" y="1368.68" width="117.8" height="1.76" fill="#FFCABA"/>
<rect x="1217" y="1370.14" width="117.8" height="1.76" fill="#FFDDD2"/>
<rect x="1217" y="1371.60" width="117.8" height="1.76" fill="#FFF4F1"/>
<rect x="1217" y="1373.06" width="117.8" height="1.76" fill="#FFC6B5"/>
<rect x="1217" y="1374.52" width="117.8" height="1.76" fill="#FFBAA8"/>
<rect x="1217" y="1375.97" width="117.8" height="1.76" fill="#FFD4C6"/>
<rect x="1217" y="1377.43" width="117.8" height="7.59" fill="#FF1216"/>
<rect x="1217" y="1384.72" width="117.8" height="1.76" fill="#FF7F67"/>
<rect x="1217" y="1386.18" width="117.8" height="1.76" fill="#FF705B"/>
<rect x="1217" y="1387.63" width="117.8" height="1.76" fill="#FF3F34"/>
<rect x="1217" y="1389.09" width="117.8" height="1.76" fill="#FF927A"/>
<rect x="1217" y="1390.55" width="117.8" height="1.76" fill="#FF5344"/>
<rect x="1217" y="1392.01" width="117.8" height="1.76" fill="#FF614F"/>
<rect x="1217" y="1393.46" width="117.8" height="1.76" fill="#FF927A"/>
<rect x="1217" y="1394.92" width="117.8" height="1.76" fill="#FF6E5A"/>
<rect x="1217" y="1396.38" width="117.8" height="1.76" fill="#FF4B3E"/>
<rect x="1217" y="1397.84" width="117.8" height="1.76" fill="#FF5848"/>
<rect x="1217" y="1399.29" width="117.8" height="1.76" fill="#FF8E75"/>
<rect x="1217" y="1400.75" width="117.8" height="1.76" fill="#FF2120"/>
<rect x="1217" y="1402.21" width="117.8" height="1.76" fill="#FF372F"/>
<rect x="1217" y="1403.67" width="117.8" height="1.76" fill="#FF2321"/>
<rect x="1217" y="1405.12" width="117.8" height="1.76" fill="#FF8A70"/>
<rect x="1217" y="1406.58" width="117.8" height="1.76" fill="#FF7660"/>
<rect x="1217" y="1415.33" width="117.8" height="1.76" fill="#FFF5F2"/>
<rect x="1217" y="1419.70" width="117.8" height="1.76" fill="#FFFCFC"/>
<rect x="1217" y="1424.07" width="117.8" height="3.22" fill="#C4B4FF"/>
<rect x="1217" y="1429.90" width="117.8" height="1.76" fill="#FFFBF9"/>
<rect x="1217" y="1434.28" width="117.8" height="1.76" fill="#F3EFFF"/>
<rect x="1217" y="1435.73" width="117.8" height="1.76" fill="#FDFDFF"/>
<rect x="1217" y="1440.11" width="117.8" height="1.76" fill="#F8F6FF"/>
<rect x="1217" y="1472.17" width="117.8" height="1.76" fill="#F4F0FF"/>
<rect x="1217" y="1483.83" width="117.8" height="1.76" fill="#FAF9FF"/>
<rect x="1217" y="1485.29" width="117.8" height="1.76" fill="#E7DFFF"/>
<rect x="1217" y="1486.75" width="117.8" height="1.76" fill="#DCD1FF"/>
<rect x="1217" y="1494.04" width="117.8" height="1.76" fill="#D7CAFF"/>
<rect x="1217" y="1498.41" width="117.8" height="1.76" fill="#ECE6FF"/>
<rect x="1217" y="1499.87" width="117.8" height="1.76" fill="#D8CBFF"/>
<rect x="1217" y="1510.07" width="117.8" height="1.76" fill="#FFEEE8"/>
<rect x="1217" y="1514.44" width="117.8" height="1.76" fill="#FFF6F4"/>
<rect x="1217" y="1540.68" width="117.8" height="1.76" fill="#FFD4C6"/>
<rect x="1217" y="1542.14" width="117.8" height="1.76" fill="#FFC3B3"/>
<rect x="1217" y="1543.59" width="117.8" height="1.76" fill="#C6B6FF"/>
<rect x="1217" y="1545.05" width="117.8" height="1.76" fill="#FFEAE3"/>
<rect x="1217" y="1546.51" width="117.8" height="1.76" fill="#FFD5C7"/>
<rect x="1217" y="1549.42" width="117.8" height="1.76" fill="#FFC2B2"/>
<rect x="1217" y="1550.88" width="117.8" height="1.76" fill="#DDD2FF"/>
<rect x="1217" y="1552.34" width="117.8" height="1.76" fill="#FFEAE4"/>
<rect x="1217" y="1553.80" width="117.8" height="1.76" fill="#D1C3FF"/>
<rect x="1217" y="1555.25" width="117.8" height="1.76" fill="#FFC9B9"/>
<rect x="1217" y="1556.71" width="117.8" height="1.76" fill="#FFD7CA"/>
<rect x="1217" y="1558.17" width="117.8" height="1.76" fill="#FFD2C4"/>
<rect x="1217" y="1559.63" width="117.8" height="1.76" fill="#C0B0FF"/>
<rect x="1334.8" y="1083.00" width="118.8" height="1.76" fill="#FFFCFB"/>
<rect x="1334.8" y="1085.92" width="118.8" height="3.22" fill="#FFF9F7"/>
<rect x="1334.8" y="1093.20" width="118.8" height="1.76" fill="#FFF9F7"/>
<rect x="1334.8" y="1094.66" width="118.8" height="1.76" fill="#FFFCFB"/>
<rect x="1334.8" y="1097.58" width="118.8" height="1.76" fill="#FFF9F7"/>
<rect x="1334.8" y="1100.49" width="118.8" height="1.76" fill="#FF5244"/>
<rect x="1334.8" y="1101.95" width="118.8" height="1.76" fill="#FF6653"/>
<rect x="1334.8" y="1103.41" width="118.8" height="1.76" fill="#FF8F76"/>
<rect x="1334.8" y="1104.86" width="118.8" height="1.76" fill="#FFC7B7"/>
<rect x="1334.8" y="1106.32" width="118.8" height="1.76" fill="#FF7E66"/>
<rect x="1334.8" y="1107.78" width="118.8" height="1.76" fill="#FF846B"/>
<rect x="1334.8" y="1109.24" width="118.8" height="1.76" fill="#FF3E33"/>
<rect x="1334.8" y="1110.69" width="118.8" height="1.76" fill="#FF745E"/>
<rect x="1334.8" y="1112.15" width="118.8" height="1.76" fill="#FF5848"/>
<rect x="1334.8" y="1113.61" width="118.8" height="1.76" fill="#FF5E4D"/>
<rect x="1334.8" y="1115.07" width="118.8" height="1.76" fill="#FF8E75"/>
<rect x="1334.8" y="1116.52" width="118.8" height="1.76" fill="#FF8067"/>
<rect x="1334.8" y="1117.98" width="118.8" height="1.76" fill="#FF7B64"/>
<rect x="1334.8" y="1119.44" width="118.8" height="1.76" fill="#FFC7B7"/>
<rect x="1334.8" y="1120.90" width="118.8" height="6.13" fill="#FF201F"/>
<rect x="1334.8" y="1126.73" width="118.8" height="1.76" fill="#FFD4C7"/>
<rect x="1334.8" y="1128.18" width="118.8" height="1.76" fill="#FFD1C3"/>
<rect x="1334.8" y="1129.64" width="118.8" height="1.76" fill="#FFD0C1"/>
<rect x="1334.8" y="1131.10" width="118.8" height="1.76" fill="#FFCCBD"/>
<rect x="1334.8" y="1132.56" width="118.8" height="1.76" fill="#FFCABA"/>
<rect x="1334.8" y="1134.02" width="118.8" height="1.76" fill="#FFC9B9"/>
<rect x="1334.8" y="1135.47" width="118.8" height="1.76" fill="#FFC5B5"/>
<rect x="1334.8" y="1136.93" width="118.8" height="1.76" fill="#FFC2B1"/>
<rect x="1334.8" y="1138.39" width="118.8" height="1.76" fill="#FFBFAE"/>
<rect x="1334.8" y="1139.85" width="118.8" height="1.76" fill="#FFBDAC"/>
<rect x="1334.8" y="1141.30" width="118.8" height="1.76" fill="#FFBBA9"/>
<rect x="1334.8" y="1142.76" width="118.8" height="1.76" fill="#FFB9A6"/>
<rect x="1334.8" y="1144.22" width="118.8" height="1.76" fill="#FFB4A1"/>
<rect x="1334.8" y="1145.68" width="118.8" height="1.76" fill="#FFB3A0"/>
<rect x="1334.8" y="1147.13" width="118.8" height="1.76" fill="#FFB09C"/>
<rect x="1334.8" y="1148.59" width="118.8" height="1.76" fill="#FFAE9A"/>
<rect x="1334.8" y="1150.05" width="118.8" height="1.76" fill="#FFAA96"/>
<rect x="1334.8" y="1151.51" width="118.8" height="1.76" fill="#FFA792"/>
<rect x="1334.8" y="1152.96" width="118.8" height="1.76" fill="#FFA691"/>
<rect x="1334.8" y="1154.42" width="118.8" height="1.76" fill="#FFA28C"/>
<rect x="1334.8" y="1155.88" width="118.8" height="1.76" fill="#FFA089"/>
<rect x="1334.8" y="1157.34" width="118.8" height="1.76" fill="#FF9C85"/>
<rect x="1334.8" y="1158.79" width="118.8" height="1.76" fill="#FF9A82"/>
<rect x="1334.8" y="1160.25" width="118.8" height="1.76" fill="#FF9881"/>
<rect x="1334.8" y="1161.71" width="118.8" height="1.76" fill="#FF937B"/>
<rect x="1334.8" y="1163.17" width="118.8" height="1.76" fill="#FF9279"/>
<rect x="1334.8" y="1164.62" width="118.8" height="1.76" fill="#FF9078"/>
<rect x="1334.8" y="1166.08" width="118.8" height="1.76" fill="#FF8E75"/>
<rect x="1334.8" y="1167.54" width="118.8" height="1.76" fill="#FF8970"/>
<rect x="1334.8" y="1169.00" width="118.8" height="1.76" fill="#FF876D"/>
<rect x="1334.8" y="1170.45" width="118.8" height="1.76" fill="#FF846B"/>
<rect x="1334.8" y="1171.91" width="118.8" height="1.76" fill="#FF8168"/>
<rect x="1334.8" y="1173.37" width="118.8" height="1.76" fill="#FF7D65"/>
<rect x="1334.8" y="1174.83" width="118.8" height="1.76" fill="#FF7A63"/>
<rect x="1334.8" y="1176.28" width="118.8" height="3.22" fill="#FF745E"/>
<rect x="1334.8" y="1179.20" width="118.8" height="1.76" fill="#FF6E59"/>
<rect x="1334.8" y="1180.66" width="118.8" height="3.22" fill="#FF6A56"/>
<rect x="1334.8" y="1183.57" width="118.8" height="1.76" fill="#FF6350"/>
<rect x="1334.8" y="1185.03" width="118.8" height="1.76" fill="#FF604F"/>
<rect x="1334.8" y="1186.49" width="118.8" height="1.76" fill="#FF5C4B"/>
<rect x="1334.8" y="1187.95" width="118.8" height="1.76" fill="#FF5B4B"/>
<rect x="1334.8" y="1189.40" width="118.8" height="1.76" fill="#FF5848"/>
<rect x="1334.8" y="1190.86" width="118.8" height="1.76" fill="#FF5445"/>
<rect x="1334.8" y="1192.32" width="118.8" height="1.76" fill="#FF4E40"/>
<rect x="1334.8" y="1193.78" width="118.8" height="1.76" fill="#FF4C3F"/>
<rect x="1334.8" y="1195.23" width="118.8" height="1.76" fill="#FF4A3D"/>
<rect x="1334.8" y="1196.69" width="118.8" height="1.76" fill="#FF463A"/>
<rect x="1334.8" y="1198.15" width="118.8" height="1.76" fill="#FF4338"/>
<rect x="1334.8" y="1199.61" width="118.8" height="1.76" fill="#FF4136"/>
<rect x="1334.8" y="1201.06" width="118.8" height="1.76" fill="#FF3D33"/>
<rect x="1334.8" y="1202.52" width="118.8" height="1.76" fill="#FF372E"/>
<rect x="1334.8" y="1203.98" width="118.8" height="58.60" fill="#FF1216"/>
<rect x="1334.8" y="1262.28" width="118.8" height="4.67" fill="#FFBAA8"/>
<rect x="1334.8" y="1266.65" width="118.8" height="1.76" fill="#FF6350"/>
<rect x="1334.8" y="1268.11" width="118.8" height="1.76" fill="#FF463A"/>
<rect x="1334.8" y="1269.57" width="118.8" height="1.76" fill="#FF6B57"/>
<rect x="1334.8" y="1271.03" width="118.8" height="1.76" fill="#FF5647"/>
<rect x="1334.8" y="1272.48" width="118.8" height="1.76" fill="#FF1619"/>
<rect x="1334.8" y="1273.94" width="118.8" height="1.76" fill="#FF1E1E"/>
<rect x="1334.8" y="1275.40" width="118.8" height="1.76" fill="#FF2623"/>
<rect x="1334.8" y="1276.86" width="118.8" height="1.76" fill="#FF3930"/>
<rect x="1334.8" y="1278.32" width="118.8" height="1.76" fill="#FF1B1C"/>
<rect x="1334.8" y="1279.77" width="118.8" height="1.76" fill="#FF181A"/>
<rect x="1334.8" y="1281.23" width="118.8" height="1.76" fill="#FF4237"/>
<rect x="1334.8" y="1282.69" width="118.8" height="1.76" fill="#FF2F29"/>
<rect x="1334.8" y="1284.15" width="118.8" height="1.76" fill="#FF7C64"/>
<rect x="1334.8" y="1285.60" width="118.8" height="1.76" fill="#FF2E28"/>
<rect x="1334.8" y="1287.06" width="118.8" height="1.76" fill="#FF4D40"/>
<rect x="1334.8" y="1288.52" width="118.8" height="1.76" fill="#FF2C27"/>
<rect x="1334.8" y="1289.98" width="118.8" height="1.76" fill="#FF372F"/>
<rect x="1334.8" y="1291.43" width="118.8" height="1.76" fill="#FF604F"/>
<rect x="1334.8" y="1292.89" width="118.8" height="1.76" fill="#FF7C64"/>
<rect x="1334.8" y="1294.35" width="118.8" height="1.76" fill="#FF191B"/>
<rect x="1334.8" y="1295.81" width="118.8" height="1.76" fill="#FF735D"/>
<rect x="1334.8" y="1297.26" width="118.8" height="1.76" fill="#FF4B3E"/>
<rect x="1334.8" y="1298.72" width="118.8" height="1.76" fill="#FF5A49"/>
<rect x="1334.8" y="1300.18" width="118.8" height="1.76" fill="#FF5F4E"/>
<rect x="1334.8" y="1301.64" width="118.8" height="1.76" fill="#FF2D28"/>
<rect x="1334.8" y="1303.09" width="118.8" height="1.76" fill="#FF1417"/>
<rect x="1334.8" y="1304.55" width="118.8" height="1.76" fill="#FF6351"/>
<rect x="1334.8" y="1306.01" width="118.8" height="1.76" fill="#FF362E"/>
<rect x="1334.8" y="1307.47" width="118.8" height="1.76" fill="#FF5F4D"/>
<rect x="1334.8" y="1308.92" width="118.8" height="1.76" fill="#FF4136"/>
<rect x="1334.8" y="1310.38" width="118.8" height="1.76" fill="#FF5445"/>
<rect x="1334.8" y="1311.84" width="118.8" height="1.76" fill="#FF6E59"/>
<rect x="1334.8" y="1313.30" width="118.8" height="1.76" fill="#FF6F5A"/>
<rect x="1334.8" y="1314.75" width="118.8" height="1.76" fill="#FF6956"/>
<rect x="1334.8" y="1316.21" width="118.8" height="1.76" fill="#FF1C1C"/>
<rect x="1334.8" y="1317.67" width="118.8" height="1.76" fill="#FF483B"/>
<rect x="1334.8" y="1319.13" width="118.8" height="1.76" fill="#FF6855"/>
<rect x="1334.8" y="1320.58" width="118.8" height="1.76" fill="#FF1B1C"/>
<rect x="1334.8" y="1322.04" width="118.8" height="1.76" fill="#FF1216"/>
<rect x="1334.8" y="1323.50" width="118.8" height="1.76" fill="#FF4D40"/>
<rect x="1334.8" y="1324.96" width="118.8" height="1.76" fill="#FF715C"/>
<rect x="1334.8" y="1326.42" width="118.8" height="1.76" fill="#FF6B57"/>
<rect x="1334.8" y="1327.87" width="118.8" height="1.76" fill="#FF7760"/>
<rect x="1334.8" y="1329.33" width="118.8" height="1.76" fill="#FF5A4A"/>
<rect x="1334.8" y="1330.79" width="118.8" height="1.76" fill="#FF7760"/>
<rect x="1334.8" y="1332.25" width="118.8" height="1.76" fill="#FF6653"/>
<rect x="1334.8" y="1333.70" width="118.8" height="1.76" fill="#FF6451"/>
<rect x="1334.8" y="1335.16" width="118.8" height="1.76" fill="#FF4035"/>
<rect x="1334.8" y="1336.62" width="118.8" height="1.76" fill="#FF1D1D"/>
<rect x="1334.8" y="1338.08" width="118.8" height="1.76" fill="#FF2C27"/>
<rect x="1334.8" y="1339.53" width="118.8" height="3.22" fill="#FF5243"/>
<rect x="1334.8" y="1342.45" width="118.8" height="1.76" fill="#FF4539"/>
<rect x="1334.8" y="1343.91" width="118.8" height="1.76" fill="#FF5646"/>
<rect x="1334.8" y="1345.36" width="118.8" height="1.76" fill="#FF5A4A"/>
<rect x="1334.8" y="1346.82" width="118.8" height="1.76" fill="#FF7A63"/>
<rect x="1334.8" y="1348.28" width="118.8" height="1.76" fill="#FF614F"/>
<rect x="1334.8" y="1349.74" width="118.8" height="1.76" fill="#FF1518"/>
<rect x="1334.8" y="1351.19" width="118.8" height="1.76" fill="#FF735D"/>
<rect x="1334.8" y="1352.65" width="118.8" height="1.76" fill="#FF473B"/>
<rect x="1334.8" y="1354.11" width="118.8" height="1.76" fill="#FF3930"/>
<rect x="1334.8" y="1355.57" width="118.8" height="1.76" fill="#FF201F"/>
<rect x="1334.8" y="1357.02" width="118.8" height="1.76" fill="#FF6855"/>
<rect x="1334.8" y="1358.48" width="118.8" height="1.76" fill="#FF6250"/>
<rect x="1334.8" y="1359.94" width="118.8" height="1.76" fill="#FF6552"/>
<rect x="1334.8" y="1361.40" width="118.8" height="1.76" fill="#FF5344"/>
<rect x="1334.8" y="1362.85" width="118.8" height="1.76" fill="#FF4E40"/>
<rect x="1334.8" y="1364.31" width="118.8" height="1.76" fill="#FF1619"/>
<rect x="1334.8" y="1365.77" width="118.8" height="1.76" fill="#FF2220"/>
<rect x="1334.8" y="1367.23" width="118.8" height="1.76" fill="#FF1F1F"/>
<rect x="1334.8" y="1368.68" width="118.8" height="1.76" fill="#FF7F67"/>
<rect x="1334.8" y="1370.14" width="118.8" height="1.76" fill="#FF7E66"/>
<rect x="1334.8" y="1371.60" width="118.8" height="1.76" fill="#FF302A"/>
<rect x="1334.8" y="1373.06" width="118.8" height="1.76" fill="#FF1D1D"/>
<rect x="1334.8" y="1374.52" width="118.8" height="1.76" fill="#FF4B3E"/>
<rect x="1334.8" y="1375.97" width="118.8" height="1.76" fill="#FF3E33"/>
<rect x="1334.8" y="1377.43" width="118.8" height="1.76" fill="#FF8169"/>
<rect x="1334.8" y="1378.89" width="118.8" height="1.76" fill="#FF5445"/>
<rect x="1334.8" y="1380.35" width="118.8" height="1.76" fill="#FF191B"/>
<rect x="1334.8" y="1381.80" width="118.8" height="1.76" fill="#FF2422"/>
<rect x="1334.8" y="1383.26" width="118.8" height="14.88" fill="#FF1216"/>
<rect x="1334.8" y="1397.84" width="118.8" height="1.76" fill="#FF2B26"/>
<rect x="1334.8" y="1399.29" width="118.8" height="1.76" fill="#FF4D3F"/>
<rect x="1334.8" y="1400.75" width="118.8" height="1.76" fill="#FF4236"/>
<rect x="1334.8" y="1402.21" width="118.8" height="1.76" fill="#FF7D65"/>
<rect x="1334.8" y="1403.67" width="118.8" height="1.76" fill="#FF2925"/>
<rect x="1334.8" y="1405.12" width="118.8" height="1.76" fill="#FF6753"/>
<rect x="1334.8" y="1406.58" width="118.8" height="1.76" fill="#FF1A1B"/>
<rect x="1334.8" y="1408.04" width="118.8" height="1.76" fill="#EFEAFF"/>
<rect x="1334.8" y="1412.41" width="118.8" height="1.76" fill="#F5F2FF"/>
<rect x="1334.8" y="1422.62" width="118.8" height="1.76" fill="#EAE3FF"/>
<rect x="1334.8" y="1426.99" width="118.8" height="1.76" fill="#FFF4F0"/>
<rect x="1334.8" y="1428.45" width="118.8" height="1.76" fill="#FFF5F2"/>
<rect x="1334.8" y="1432.82" width="118.8" height="1.76" fill="#FFF3EF"/>
<rect x="1334.8" y="1438.65" width="118.8" height="1.76" fill="#F1ECFF"/>
<rect x="1334.8" y="1441.56" width="118.8" height="1.76" fill="#F9F7FF"/>
<rect x="1334.8" y="1448.85" width="118.8" height="1.76" fill="#EDE7FF"/>
<rect x="1334.8" y="1450.31" width="118.8" height="1.76" fill="#F6F3FF"/>
<rect x="1334.8" y="1454.68" width="118.8" height="1.76" fill="#FFF7F5"/>
<rect x="1334.8" y="1456.14" width="118.8" height="1.76" fill="#FFF8F6"/>
<rect x="1334.8" y="1459.05" width="118.8" height="1.76" fill="#EFE9FF"/>
<rect x="1334.8" y="1460.51" width="118.8" height="1.76" fill="#FFF5F2"/>
<rect x="1334.8" y="1466.34" width="118.8" height="1.76" fill="#FAF8FF"/>
<rect x="1334.8" y="1472.17" width="118.8" height="1.76" fill="#FFF9F7"/>
<rect x="1334.8" y="1478.00" width="118.8" height="1.76" fill="#FFF1ED"/>
<rect x="1334.8" y="1479.46" width="118.8" height="1.76" fill="#FAF9FF"/>
<rect x="1334.8" y="1480.92" width="118.8" height="1.76" fill="#FFF7F4"/>
<rect x="1334.8" y="1483.83" width="118.8" height="1.76" fill="#FFF3EF"/>
<rect x="1334.8" y="1486.75" width="118.8" height="1.76" fill="#F0EBFF"/>
<rect x="1334.8" y="1496.95" width="118.8" height="1.76" fill="#FFF9F7"/>
<rect x="1334.8" y="1498.41" width="118.8" height="1.76" fill="#FFF8F6"/>
<rect x="1334.8" y="1501.32" width="118.8" height="1.76" fill="#FFF2EE"/>
<rect x="1334.8" y="1508.61" width="118.8" height="1.76" fill="#FFF8F6"/>
<rect x="1334.8" y="1511.53" width="118.8" height="1.76" fill="#FFFAF8"/>
<rect x="1334.8" y="1514.44" width="118.8" height="1.76" fill="#FFF3EF"/>
<rect x="1334.8" y="1520.27" width="118.8" height="1.76" fill="#FFF8F5"/>
<rect x="1334.8" y="1521.73" width="118.8" height="1.76" fill="#F9F7FF"/>
<rect x="1334.8" y="1526.10" width="118.8" height="1.76" fill="#FFBBA9"/>
<rect x="1334.8" y="1529.02" width="118.8" height="1.76" fill="#FFD7CA"/>
<rect x="1334.8" y="1533.39" width="118.8" height="1.76" fill="#FF9D86"/>
<rect x="1334.8" y="1534.85" width="118.8" height="1.76" fill="#FF9A83"/>
<rect x="1334.8" y="1539.22" width="118.8" height="1.76" fill="#EEE9FF"/>
<rect x="1334.8" y="1540.68" width="118.8" height="1.76" fill="#FFD2C4"/>
<rect x="1334.8" y="1543.59" width="118.8" height="1.76" fill="#D5C7FF"/>
<rect x="1334.8" y="1545.05" width="118.8" height="1.76" fill="#FFDFD4"/>
<rect x="1334.8" y="1546.51" width="118.8" height="1.76" fill="#FFAF9B"/>
<rect x="1334.8" y="1547.97" width="118.8" height="1.76" fill="#FFAB97"/>
<rect x="1334.8" y="1549.42" width="118.8" height="1.76" fill="#FFD6C9"/>
<rect x="1334.8" y="1550.88" width="118.8" height="1.76" fill="#CCBCFF"/>
<rect x="1334.8" y="1552.34" width="118.8" height="1.76" fill="#FFE4DC"/>
<rect x="1334.8" y="1555.25" width="118.8" height="1.76" fill="#FFDBCF"/>
<rect x="1334.8" y="1559.63" width="118.8" height="1.76" fill="#FFD6C9"/>
<rect x="1334.8" y="1561.08" width="118.8" height="1.76" fill="#FFA08A"/>
<rect x="1334.8" y="1562.54" width="118.8" height="1.76" fill="#FFDACE"/>
<rect x="1453.6" y="1088.83" width="118.2" height="1.76" fill="#F9F8FF"/>
<rect x="1453.6" y="1090.29" width="118.2" height="1.76" fill="#FFF8F6"/>
<rect x="1453.6" y="1091.75" width="118.2" height="1.76" fill="#FCFBFF"/>
<rect x="1453.6" y="1093.20" width="118.2" height="1.76" fill="#FFFAF9"/>
<rect x="1453.6" y="1094.66" width="118.2" height="4.67" fill="#FF947C"/>
<rect x="1453.6" y="1099.03" width="118.2" height="1.76" fill="#FFFBFA"/>
<rect x="1453.6" y="1100.49" width="118.2" height="1.76" fill="#FFF8F6"/>
<rect x="1453.6" y="1101.95" width="118.2" height="1.76" fill="#FCFBFF"/>
<rect x="1453.6" y="1103.41" width="118.2" height="1.76" fill="#FAF9FF"/>
<rect x="1453.6" y="1104.86" width="118.2" height="1.76" fill="#FFDBD0"/>
<rect x="1453.6" y="1106.32" width="118.2" height="1.76" fill="#FFFEFE"/>
<rect x="1453.6" y="1107.78" width="118.2" height="1.76" fill="#FFDED3"/>
<rect x="1453.6" y="1109.24" width="118.2" height="1.76" fill="#FFF7F4"/>
<rect x="1453.6" y="1110.69" width="118.2" height="1.76" fill="#F1ECFF"/>
<rect x="1453.6" y="1112.15" width="118.2" height="1.76" fill="#FFFDFC"/>
<rect x="1453.6" y="1113.61" width="118.2" height="1.76" fill="#FFD1C3"/>
<rect x="1453.6" y="1115.07" width="118.2" height="1.76" fill="#FFEFEA"/>
<rect x="1453.6" y="1116.52" width="118.2" height="1.76" fill="#FAF8FF"/>
<rect x="1453.6" y="1117.98" width="118.2" height="1.76" fill="#FFF4F0"/>
<rect x="1453.6" y="1119.44" width="118.2" height="1.76" fill="#EFEAFF"/>
<rect x="1453.6" y="1120.90" width="118.2" height="1.76" fill="#FFF6F3"/>
<rect x="1453.6" y="1122.35" width="118.2" height="1.76" fill="#FCFCFF"/>
<rect x="1453.6" y="1123.81" width="118.2" height="1.76" fill="#8975FF"/>
<rect x="1453.6" y="1125.27" width="118.2" height="1.76" fill="#FFFBF9"/>
<rect x="1453.6" y="1126.73" width="118.2" height="1.76" fill="#FDFCFF"/>
<rect x="1453.6" y="1128.18" width="118.2" height="1.76" fill="#FCFBFF"/>
<rect x="1453.6" y="1129.64" width="118.2" height="1.76" fill="#FDFDFF"/>
<rect x="1453.6" y="1131.10" width="118.2" height="1.76" fill="#FFFBFA"/>
<rect x="1453.6" y="1132.56" width="118.2" height="1.76" fill="#FBF9FF"/>
<rect x="1453.6" y="1134.02" width="118.2" height="1.76" fill="#FFFBFA"/>
<rect x="1453.6" y="1135.47" width="118.2" height="1.76" fill="#FEFEFF"/>
<rect x="1453.6" y="1136.93" width="118.2" height="1.76" fill="#FFFAF8"/>
<rect x="1453.6" y="1138.39" width="118.2" height="1.76" fill="#FBFAFF"/>
<rect x="1453.6" y="1139.85" width="118.2" height="1.76" fill="#FFFEFE"/>
<rect x="1453.6" y="1141.30" width="118.2" height="1.76" fill="#FFFBFA"/>
<rect x="1453.6" y="1142.76" width="118.2" height="1.76" fill="#FCFBFF"/>
<rect x="1453.6" y="1144.22" width="118.2" height="1.76" fill="#FFFEFE"/>
<rect x="1453.6" y="1145.68" width="118.2" height="1.76" fill="#FEFEFF"/>
<rect x="1453.6" y="1147.13" width="118.2" height="1.76" fill="#FFF3EF"/>
<rect x="1453.6" y="1148.59" width="118.2" height="1.76" fill="#FEFEFF"/>
<rect x="1453.6" y="1150.05" width="118.2" height="1.76" fill="#FFF9F7"/>
<rect x="1453.6" y="1151.51" width="118.2" height="1.76" fill="#FFF2EE"/>
<rect x="1453.6" y="1152.96" width="118.2" height="1.76" fill="#FFFAF9"/>
<rect x="1453.6" y="1154.42" width="118.2" height="1.76" fill="#FAF9FF"/>
<rect x="1453.6" y="1155.88" width="118.2" height="1.76" fill="#FFF1ED"/>
<rect x="1453.6" y="1157.34" width="118.2" height="1.76" fill="#E1D6FF"/>
<rect x="1453.6" y="1158.79" width="118.2" height="1.76" fill="#FFF1EC"/>
<rect x="1453.6" y="1160.25" width="118.2" height="1.76" fill="#FBF9FF"/>
<rect x="1453.6" y="1161.71" width="118.2" height="1.76" fill="#FFFBFA"/>
<rect x="1453.6" y="1163.17" width="118.2" height="1.76" fill="#FFF6F3"/>
<rect x="1453.6" y="1164.62" width="118.2" height="1.76" fill="#FEFEFF"/>
<rect x="1453.6" y="1166.08" width="118.2" height="1.76" fill="#FCFBFF"/>
<rect x="1453.6" y="1167.54" width="118.2" height="1.76" fill="#FFFDFC"/>
<rect x="1453.6" y="1169.00" width="118.2" height="1.76" fill="#FFF6F3"/>
<rect x="1453.6" y="1170.45" width="118.2" height="1.76" fill="#FFFAF8"/>
<rect x="1453.6" y="1171.91" width="118.2" height="1.76" fill="#FFF5F1"/>
<rect x="1453.6" y="1173.37" width="118.2" height="1.76" fill="#FFF8F6"/>
<rect x="1453.6" y="1174.83" width="118.2" height="1.76" fill="#FFF0EC"/>
<rect x="1453.6" y="1176.28" width="118.2" height="3.22" fill="#FFF8F6"/>
<rect x="1453.6" y="1179.20" width="118.2" height="1.76" fill="#FFF9F8"/>
<rect x="1453.6" y="1180.66" width="118.2" height="1.76" fill="#FFFAF8"/>
<rect x="1453.6" y="1182.12" width="118.2" height="1.76" fill="#FFFEFE"/>
<rect x="1453.6" y="1183.57" width="118.2" height="1.76" fill="#ECE6FF"/>
<rect x="1453.6" y="1185.03" width="118.2" height="1.76" fill="#FDFCFF"/>
<rect x="1453.6" y="1186.49" width="118.2" height="1.76" fill="#FFFDFC"/>
<rect x="1453.6" y="1187.95" width="118.2" height="1.76" fill="#FCFBFF"/>
<rect x="1453.6" y="1189.40" width="118.2" height="1.76" fill="#FFFAF9"/>
<rect x="1453.6" y="1190.86" width="118.2" height="1.76" fill="#FFF7F4"/>
<rect x="1453.6" y="1192.32" width="118.2" height="1.76" fill="#FFFAF9"/>
<rect x="1453.6" y="1193.78" width="118.2" height="1.76" fill="#FFD9CD"/>
<rect x="1453.6" y="1195.23" width="118.2" height="1.76" fill="#FFE2D9"/>
<rect x="1453.6" y="1196.69" width="118.2" height="1.76" fill="#E2D8FF"/>
<rect x="1453.6" y="1198.15" width="118.2" height="1.76" fill="#FFE8E1"/>
<rect x="1453.6" y="1199.61" width="118.2" height="1.76" fill="#D9CDFF"/>
<rect x="1453.6" y="1201.06" width="118.2" height="1.76" fill="#FFBDAB"/>
<rect x="1453.6" y="1202.52" width="118.2" height="1.76" fill="#C5B5FF"/>
<rect x="1453.6" y="1203.98" width="118.2" height="1.76" fill="#DCD0FF"/>
<rect x="1453.6" y="1205.44" width="118.2" height="1.76" fill="#FFDCD1"/>
<rect x="1453.6" y="1206.89" width="118.2" height="1.76" fill="#FFBCAB"/>
<rect x="1453.6" y="1208.35" width="118.2" height="1.76" fill="#FFE6DF"/>
<rect x="1453.6" y="1209.81" width="118.2" height="1.76" fill="#FFF3EF"/>
<rect x="1453.6" y="1211.27" width="118.2" height="1.76" fill="#C8B9FF"/>
<rect x="1453.6" y="1212.72" width="118.2" height="1.76" fill="#DDD1FF"/>
<rect x="1453.6" y="1214.18" width="118.2" height="1.76" fill="#FFE1D7"/>
<rect x="1453.6" y="1215.64" width="118.2" height="1.76" fill="#FFDDD2"/>
<rect x="1453.6" y="1217.10" width="118.2" height="1.76" fill="#FFBAA7"/>
<rect x="1453.6" y="1218.55" width="118.2" height="1.76" fill="#FFE5DD"/>
<rect x="1453.6" y="1220.01" width="118.2" height="1.76" fill="#FFD5C8"/>
<rect x="1453.6" y="1221.47" width="118.2" height="1.76" fill="#FFD9CC"/>
<rect x="1453.6" y="1224.38" width="118.2" height="1.76" fill="#FFAA96"/>
<rect x="1453.6" y="1225.84" width="118.2" height="1.76" fill="#FFD4C6"/>
<rect x="1453.6" y="1227.30" width="118.2" height="1.76" fill="#EFEAFF"/>
<rect x="1453.6" y="1230.22" width="118.2" height="1.76" fill="#FFDBD0"/>
<rect x="1453.6" y="1233.13" width="118.2" height="1.76" fill="#FFEBE4"/>
<rect x="1453.6" y="1234.59" width="118.2" height="1.76" fill="#FFCBBC"/>
<rect x="1453.6" y="1237.50" width="118.2" height="1.76" fill="#FFDACE"/>
<rect x="1453.6" y="1238.96" width="118.2" height="1.76" fill="#FFE5DD"/>
<rect x="1453.6" y="1241.88" width="118.2" height="1.76" fill="#FFEEE9"/>
<rect x="1453.6" y="1243.33" width="118.2" height="1.76" fill="#D5C7FF"/>
<rect x="1453.6" y="1244.79" width="118.2" height="1.76" fill="#FFF1EC"/>
<rect x="1453.6" y="1246.25" width="118.2" height="1.76" fill="#FFD6C9"/>
<rect x="1453.6" y="1247.71" width="118.2" height="1.76" fill="#FFA691"/>
<rect x="1453.6" y="1249.16" width="118.2" height="1.76" fill="#FFDBD0"/>
<rect x="1453.6" y="1250.62" width="118.2" height="1.76" fill="#FFE4DC"/>
<rect x="1453.6" y="1252.08" width="118.2" height="1.76" fill="#D7C9FF"/>
<rect x="1453.6" y="1254.99" width="118.2" height="1.76" fill="#E0D5FF"/>
<rect x="1453.6" y="1257.91" width="118.2" height="4.67" fill="#BBAAFF"/>
<rect x="1453.6" y="1262.28" width="118.2" height="1.76" fill="#FF1216"/>
<rect x="1453.6" y="1263.74" width="118.2" height="1.76" fill="#FF2925"/>
<rect x="1453.6" y="1265.20" width="118.2" height="1.76" fill="#FF352D"/>
<rect x="1453.6" y="1266.65" width="118.2" height="1.76" fill="#FF1F1E"/>
<rect x="1453.6" y="1268.11" width="118.2" height="1.76" fill="#FF312A"/>
<rect x="1453.6" y="1269.57" width="118.2" height="1.76" fill="#FF4035"/>
<rect x="1453.6" y="1271.03" width="118.2" height="1.76" fill="#FF201F"/>
<rect x="1453.6" y="1272.48" width="118.2" height="1.76" fill="#FF483B"/>
<rect x="1453.6" y="1273.94" width="118.2" height="1.76" fill="#FF1C1C"/>
<rect x="1453.6" y="1275.40" width="118.2" height="1.76" fill="#FF3B31"/>
<rect x="1453.6" y="1276.86" width="118.2" height="1.76" fill="#FF2623"/>
<rect x="1453.6" y="1278.32" width="118.2" height="1.76" fill="#FF1216"/>
<rect x="1453.6" y="1279.77" width="118.2" height="1.76" fill="#FF2925"/>
<rect x="1453.6" y="1281.23" width="118.2" height="1.76" fill="#FF2422"/>
<rect x="1453.6" y="1282.69" width="118.2" height="1.76" fill="#FF382F"/>
<rect x="1453.6" y="1284.15" width="118.2" height="1.76" fill="#FF4B3D"/>
<rect x="1453.6" y="1285.60" width="118.2" height="1.76" fill="#FF493C"/>
<rect x="1453.6" y="1287.06" width="118.2" height="1.76" fill="#FF4236"/>
<rect x="1453.6" y="1288.52" width="118.2" height="1.76" fill="#FF2724"/>
<rect x="1453.6" y="1289.98" width="118.2" height="1.76" fill="#FF312B"/>
<rect x="1453.6" y="1291.43" width="118.2" height="1.76" fill="#FF2D28"/>
<rect x="1453.6" y="1292.89" width="118.2" height="1.76" fill="#FF1719"/>
<rect x="1453.6" y="1294.35" width="118.2" height="1.76" fill="#FF4337"/>
<rect x="1453.6" y="1295.81" width="118.2" height="1.76" fill="#FF3D33"/>
<rect x="1453.6" y="1297.26" width="118.2" height="1.76" fill="#FF2522"/>
<rect x="1453.6" y="1298.72" width="118.2" height="1.76" fill="#FF493C"/>
<rect x="1453.6" y="1300.18" width="118.2" height="1.76" fill="#FF4B3D"/>
<rect x="1453.6" y="1301.64" width="118.2" height="1.76" fill="#FF362E"/>
<rect x="1453.6" y="1303.09" width="118.2" height="1.76" fill="#FF4438"/>
<rect x="1453.6" y="1304.55" width="118.2" height="1.76" fill="#FF352D"/>
<rect x="1453.6" y="1306.01" width="118.2" height="1.76" fill="#FF3D33"/>
<rect x="1453.6" y="1307.47" width="118.2" height="3.22" fill="#FF2925"/>
<rect x="1453.6" y="1310.38" width="118.2" height="1.76" fill="#FF947C"/>
<rect x="1453.6" y="1311.84" width="118.2" height="1.76" fill="#FF5647"/>
<rect x="1453.6" y="1313.30" width="118.2" height="1.76" fill="#FF6D59"/>
<rect x="1453.6" y="1314.75" width="118.2" height="1.76" fill="#FF9C86"/>
<rect x="1453.6" y="1316.21" width="118.2" height="1.76" fill="#FF2825"/>
<rect x="1453.6" y="1317.67" width="118.2" height="1.76" fill="#FF8F76"/>
<rect x="1453.6" y="1319.13" width="118.2" height="1.76" fill="#FF9B84"/>
<rect x="1453.6" y="1320.58" width="118.2" height="1.76" fill="#FFA18B"/>
<rect x="1453.6" y="1322.04" width="118.2" height="1.76" fill="#FF5445"/>
<rect x="1453.6" y="1323.50" width="118.2" height="1.76" fill="#FF322B"/>
<rect x="1453.6" y="1324.96" width="118.2" height="1.76" fill="#FF3E34"/>
<rect x="1453.6" y="1326.42" width="118.2" height="1.76" fill="#FF7861"/>
<rect x="1453.6" y="1327.87" width="118.2" height="1.76" fill="#FF8C73"/>
<rect x="1453.6" y="1329.33" width="118.2" height="1.76" fill="#FFAC98"/>
<rect x="1453.6" y="1330.79" width="118.2" height="1.76" fill="#FF5344"/>
<rect x="1453.6" y="1332.25" width="118.2" height="1.76" fill="#FF604E"/>
<rect x="1453.6" y="1333.70" width="118.2" height="1.76" fill="#FF8067"/>
<rect x="1453.6" y="1335.16" width="118.2" height="1.76" fill="#FF5344"/>
<rect x="1453.6" y="1336.62" width="118.2" height="1.76" fill="#FF725C"/>
<rect x="1453.6" y="1338.08" width="118.2" height="1.76" fill="#FF2825"/>
<rect x="1453.6" y="1339.53" width="118.2" height="1.76" fill="#FF4639"/>
<rect x="1453.6" y="1340.99" width="118.2" height="1.76" fill="#FF8E75"/>
<rect x="1453.6" y="1342.45" width="118.2" height="1.76" fill="#FF2D28"/>
<rect x="1453.6" y="1343.91" width="118.2" height="1.76" fill="#FFA893"/>
<rect x="1453.6" y="1345.36" width="118.2" height="1.76" fill="#FF6452"/>
<rect x="1453.6" y="1346.82" width="118.2" height="1.76" fill="#FF7761"/>
<rect x="1453.6" y="1348.28" width="118.2" height="1.76" fill="#FF8F77"/>
<rect x="1453.6" y="1349.74" width="118.2" height="1.76" fill="#FFA691"/>
<rect x="1453.6" y="1351.19" width="118.2" height="1.76" fill="#FF3F34"/>
<rect x="1453.6" y="1352.65" width="118.2" height="1.76" fill="#FFAC98"/>
<rect x="1453.6" y="1354.11" width="118.2" height="1.76" fill="#FF614F"/>
<rect x="1453.6" y="1355.57" width="118.2" height="1.76" fill="#FF2824"/>
<rect x="1453.6" y="1357.02" width="118.2" height="1.76" fill="#FF9B85"/>
<rect x="1453.6" y="1358.48" width="118.2" height="1.76" fill="#FF947C"/>
<rect x="1453.6" y="1359.94" width="118.2" height="1.76" fill="#FF5949"/>
<rect x="1453.6" y="1361.40" width="118.2" height="1.76" fill="#FF6855"/>
<rect x="1453.6" y="1362.85" width="118.2" height="1.76" fill="#FF5445"/>
<rect x="1453.6" y="1364.31" width="118.2" height="1.76" fill="#FF3A30"/>
<rect x="1453.6" y="1365.77" width="118.2" height="1.76" fill="#FF9780"/>
<rect x="1453.6" y="1367.23" width="118.2" height="1.76" fill="#FF866C"/>
<rect x="1453.6" y="1368.68" width="118.2" height="1.76" fill="#FF876D"/>
<rect x="1453.6" y="1370.14" width="118.2" height="1.76" fill="#FFA792"/>
<rect x="1453.6" y="1371.60" width="118.2" height="1.76" fill="#FF2F29"/>
<rect x="1453.6" y="1373.06" width="118.2" height="1.76" fill="#FF3E34"/>
<rect x="1453.6" y="1374.52" width="118.2" height="1.76" fill="#FF483C"/>
<rect x="1453.6" y="1375.97" width="118.2" height="1.76" fill="#FFAD99"/>
<rect x="1453.6" y="1377.43" width="118.2" height="1.76" fill="#FF352D"/>
<rect x="1453.6" y="1378.89" width="118.2" height="1.76" fill="#FF2321"/>
<rect x="1453.6" y="1380.35" width="118.2" height="1.76" fill="#FF372E"/>
<rect x="1453.6" y="1381.80" width="118.2" height="1.76" fill="#FF2422"/>
<rect x="1453.6" y="1383.26" width="118.2" height="1.76" fill="#FF382F"/>
<rect x="1453.6" y="1384.72" width="118.2" height="1.76" fill="#FF493C"/>
<rect x="1453.6" y="1386.18" width="118.2" height="1.76" fill="#FF5243"/>
<rect x="1453.6" y="1387.63" width="118.2" height="1.76" fill="#FF483C"/>
<rect x="1453.6" y="1389.09" width="118.2" height="1.76" fill="#FF5747"/>
<rect x="1453.6" y="1390.55" width="118.2" height="1.76" fill="#FF4035"/>
<rect x="1453.6" y="1392.01" width="118.2" height="1.76" fill="#FF2321"/>
<rect x="1453.6" y="1393.46" width="118.2" height="1.76" fill="#FF2724"/>
<rect x="1453.6" y="1394.92" width="118.2" height="1.76" fill="#FF1C1D"/>
<rect x="1453.6" y="1396.38" width="118.2" height="1.76" fill="#FF2623"/>
<rect x="1453.6" y="1397.84" width="118.2" height="1.76" fill="#FF463A"/>
<rect x="1453.6" y="1399.29" width="118.2" height="1.76" fill="#FF312A"/>
<rect x="1453.6" y="1400.75" width="118.2" height="1.76" fill="#FF3930"/>
<rect x="1453.6" y="1402.21" width="118.2" height="1.76" fill="#FF201F"/>
<rect x="1453.6" y="1403.67" width="118.2" height="1.76" fill="#FF332C"/>
<rect x="1453.6" y="1405.12" width="118.2" height="1.76" fill="#FF463A"/>
<rect x="1453.6" y="1406.58" width="118.2" height="1.76" fill="#FF2B26"/>
<rect x="1453.6" y="1415.33" width="118.2" height="1.76" fill="#FFE1D8"/>
<rect x="1453.6" y="1416.78" width="118.2" height="1.76" fill="#FFE0D6"/>
<rect x="1453.6" y="1418.24" width="118.2" height="1.76" fill="#FFDED4"/>
<rect x="1453.6" y="1419.70" width="118.2" height="1.76" fill="#FFDDD3"/>
<rect x="1453.6" y="1421.16" width="118.2" height="1.76" fill="#FFDCD0"/>
<rect x="1453.6" y="1422.62" width="118.2" height="1.76" fill="#FFDACE"/>
<rect x="1453.6" y="1424.07" width="118.2" height="1.76" fill="#FFD8CC"/>
<rect x="1453.6" y="1425.53" width="118.2" height="1.76" fill="#FFD6C9"/>
<rect x="1453.6" y="1426.99" width="118.2" height="1.76" fill="#FFD5C8"/>
<rect x="1453.6" y="1428.45" width="118.2" height="1.76" fill="#FFD4C6"/>
<rect x="1453.6" y="1429.90" width="118.2" height="1.76" fill="#FFD0C2"/>
<rect x="1453.6" y="1431.36" width="118.2" height="1.76" fill="#FFCEC0"/>
<rect x="1453.6" y="1432.82" width="118.2" height="1.76" fill="#FFCCBC"/>
<rect x="1453.6" y="1434.28" width="118.2" height="1.76" fill="#FFC8B8"/>
<rect x="1453.6" y="1435.73" width="118.2" height="1.76" fill="#FFC5B5"/>
<rect x="1453.6" y="1437.19" width="118.2" height="1.76" fill="#FFC2B2"/>
<rect x="1453.6" y="1438.65" width="118.2" height="1.76" fill="#FFBFAE"/>
<rect x="1453.6" y="1440.11" width="118.2" height="1.76" fill="#FFBCAA"/>
<rect x="1453.6" y="1441.56" width="118.2" height="1.76" fill="#FFBAA8"/>
<rect x="1453.6" y="1443.02" width="118.2" height="1.76" fill="#FFB6A4"/>
<rect x="1453.6" y="1444.48" width="118.2" height="1.76" fill="#FFB4A1"/>
<rect x="1453.6" y="1445.94" width="118.2" height="1.76" fill="#FFB09D"/>
<rect x="1453.6" y="1447.39" width="118.2" height="1.76" fill="#FFAE9A"/>
<rect x="1453.6" y="1448.85" width="118.2" height="1.76" fill="#FFAB96"/>
<rect x="1453.6" y="1450.31" width="118.2" height="1.76" fill="#FFA893"/>
<rect x="1453.6" y="1451.77" width="118.2" height="1.76" fill="#FFA691"/>
<rect x="1453.6" y="1453.22" width="118.2" height="1.76" fill="#FFA38D"/>
<rect x="1453.6" y="1454.68" width="118.2" height="1.76" fill="#FF9F89"/>
<rect x="1453.6" y="1456.14" width="118.2" height="1.76" fill="#FF9D87"/>
<rect x="1453.6" y="1457.60" width="118.2" height="1.76" fill="#FF9881"/>
<rect x="1453.6" y="1459.05" width="118.2" height="1.76" fill="#FF9780"/>
<rect x="1453.6" y="1460.51" width="118.2" height="1.76" fill="#FF957D"/>
<rect x="1453.6" y="1461.97" width="118.2" height="1.76" fill="#FF9279"/>
<rect x="1453.6" y="1463.43" width="118.2" height="1.76" fill="#FF8C73"/>
<rect x="1453.6" y="1464.88" width="118.2" height="1.76" fill="#FF8B71"/>
<rect x="1453.6" y="1466.34" width="118.2" height="1.76" fill="#FF886F"/>
<rect x="1453.6" y="1467.80" width="118.2" height="1.76" fill="#FF856C"/>
<rect x="1453.6" y="1469.26" width="118.2" height="1.76" fill="#FF8269"/>
<rect x="1453.6" y="1470.72" width="118.2" height="1.76" fill="#FF7C64"/>
<rect x="1453.6" y="1472.17" width="118.2" height="1.76" fill="#FF7861"/>
<rect x="1453.6" y="1473.63" width="118.2" height="1.76" fill="#FF745E"/>
<rect x="1453.6" y="1475.09" width="118.2" height="1.76" fill="#FF715B"/>
<rect x="1453.6" y="1476.55" width="118.2" height="1.76" fill="#FF705B"/>
<rect x="1453.6" y="1478.00" width="118.2" height="1.76" fill="#FF6A56"/>
<rect x="1453.6" y="1479.46" width="118.2" height="1.76" fill="#FF6754"/>
<rect x="1453.6" y="1480.92" width="118.2" height="1.76" fill="#FF614F"/>
<rect x="1453.6" y="1482.38" width="118.2" height="1.76" fill="#FF5E4D"/>
<rect x="1453.6" y="1483.83" width="118.2" height="3.22" fill="#FF5A49"/>
<rect x="1453.6" y="1486.75" width="118.2" height="1.76" fill="#FF5244"/>
<rect x="1453.6" y="1488.21" width="118.2" height="1.76" fill="#FF4E40"/>
<rect x="1453.6" y="1489.66" width="118.2" height="1.76" fill="#FF4B3D"/>
<rect x="1453.6" y="1491.12" width="118.2" height="1.76" fill="#FF4B3E"/>
<rect x="1453.6" y="1492.58" width="118.2" height="1.76" fill="#FF473A"/>
<rect x="1453.6" y="1494.04" width="118.2" height="1.76" fill="#FF4438"/>
<rect x="1453.6" y="1495.49" width="118.2" height="1.76" fill="#FF4035"/>
<rect x="1453.6" y="1496.95" width="118.2" height="1.76" fill="#FF3930"/>
<rect x="1453.6" y="1498.41" width="118.2" height="65.89" fill="#FF1216"/>
<text x="1109.6" y="1185.0" font-size="30.2" fill="#000">logFC</text>
<text x="1104.6" y="1232.3" font-size="29.9" fill="#000">Max</text>
<text x="1113.2" y="1438.2" font-size="29.9" fill="#000">Min</text>
<defs><linearGradient id="lgR" x1="0" y1="0" x2="0" y2="1"><stop offset="0" stop-color="#FF1216"/><stop offset="0.1" stop-color="#FF1E1E"/><stop offset="0.4" stop-color="#FF886E"/><stop offset="0.7" stop-color="#FFD4C6"/><stop offset="1" stop-color="#fff"/></linearGradient><linearGradient id="lgB" x1="0" y1="0" x2="0" y2="1"><stop offset="0" stop-color="#fff"/><stop offset="0.3" stop-color="#D8C4FF"/><stop offset="0.6" stop-color="#8C68FF"/><stop offset="0.85" stop-color="#2A10FF"/><stop offset="1" stop-color="#0000FF"/></linearGradient></defs>
<rect x="1125.20" y="1241.00" width="37.20" height="42.00" fill="url(#lgR)"/>
<rect x="1125.20" y="1369.00" width="37.20" height="43.60" fill="url(#lgB)"/>
<line x1="1153.00" y1="1245.50" x2="1161.00" y2="1245.50" stroke="#fff" stroke-width="1.8"/>
<line x1="1153.00" y1="1406.00" x2="1161.00" y2="1406.00" stroke="#fff" stroke-width="1.8"/>
<text x="1169.4" y="1253.0" font-size="24.3" fill="#000">2</text>
<text x="1169.4" y="1296.2" font-size="24.3" fill="#000">1</text>
<text x="1169.4" y="1336.6" font-size="24.3" fill="#000">0</text>
<text x="1169.4" y="1376.4" font-size="24.3" fill="#000">−1</text>
<text x="1169.4" y="1413.9" font-size="24.3" fill="#000">−2</text>
<text x="1275.5" y="1597.3" font-size="31" fill="#000" text-anchor="middle">T<tspan dx="-1.5">1</tspan></text>
<text x="1396.5" y="1597.3" font-size="31" fill="#000" text-anchor="middle">T2</text>
<text x="1517.6" y="1597.3" font-size="31" fill="#000" text-anchor="middle">End</text>
<text x="1616.1" y="1133.0" font-size="29.7" fill="#000" font-style="italic">ALDOC</text>
<path d="M1579.9,1129.7H1590.4L1600.4,1121.5H1610.4" fill="none" stroke="#000" stroke-width="2.9" stroke-linejoin="round" stroke-linecap="round"/>
<text x="1616.1" y="1168.0" font-size="29.7" fill="#000" font-style="italic">NFIA</text>
<path d="M1579.9,1148H1590.4L1600.4,1156.4H1610.4" fill="none" stroke="#000" stroke-width="2.9" stroke-linejoin="round" stroke-linecap="round"/>
<text x="1616.1" y="1238.0" font-size="29.7" fill="#000" font-style="italic">ASCL1</text>
<path d="M1579.9,1287.8H1590.4L1600.4,1226.3H1610.4" fill="none" stroke="#000" stroke-width="2.9" stroke-linejoin="round" stroke-linecap="round"/>
<text x="1616.1" y="1272.6" font-size="29.7" fill="#000" font-style="italic">OLIG2</text>
<path d="M1579.9,1309.6H1590.4L1600.4,1261.1H1610.4" fill="none" stroke="#000" stroke-width="2.9" stroke-linejoin="round" stroke-linecap="round"/>
<text x="1616.1" y="1307.7" font-size="29.7" fill="#000" font-style="italic">TOP2A</text>
<path d="M1579.9,1336.6H1590.4L1600.4,1296.2H1610.4" fill="none" stroke="#000" stroke-width="2.9" stroke-linejoin="round" stroke-linecap="round"/>
<text x="1616.1" y="1343.2" font-size="29.7" fill="#000" font-style="italic">EGFR</text>
<path d="M1579.9,1346.4H1590.4L1600.4,1331H1610.4" fill="none" stroke="#000" stroke-width="2.9" stroke-linejoin="round" stroke-linecap="round"/>
<text x="1616.1" y="1377.4" font-size="29.7" fill="#000" font-style="italic">MKI67</text>
<path d="M1579.9,1347.4H1590.4L1600.4,1365.7H1610.4" fill="none" stroke="#000" stroke-width="2.9" stroke-linejoin="round" stroke-linecap="round"/>
<text x="1616.1" y="1412.7" font-size="29.7" fill="#000" font-style="italic">PTPRZ1</text>
<path d="M1579.9,1392.2H1590.4L1600.4,1401.2H1610.4" fill="none" stroke="#000" stroke-width="2.9" stroke-linejoin="round" stroke-linecap="round"/>
<text x="1616.1" y="1447.8" font-size="29.7" fill="#000" font-style="italic">CCND1</text>
<path d="M1579.9,1401.8H1590.4L1600.4,1435.9H1610.4" fill="none" stroke="#000" stroke-width="2.9" stroke-linejoin="round" stroke-linecap="round"/>
<text x="1616.1" y="1522.5" font-size="29.7" fill="#000" font-style="italic">SOX10</text>
<path d="M1579.9,1556.3H1590.4L1600.4,1511.5H1610.4" fill="none" stroke="#000" stroke-width="2.9" stroke-linejoin="round" stroke-linecap="round"/>
<text x="1616.1" y="1558.2" font-size="29.7" fill="#000" font-style="italic">PDGFRA</text>
<path d="M1579.9,1558.3H1590.4L1600.4,1547H1610.4" fill="none" stroke="#000" stroke-width="2.9" stroke-linejoin="round" stroke-linecap="round"/>
</g>
<g id="pf">
<defs>
<filter id="grainF" x="0" y="0" width="100%" height="100%" color-interpolation-filters="sRGB">
<feTurbulence type="fractalNoise" baseFrequency="0.75" numOctaves="2" seed="4" result="n"/>
<feColorMatrix in="n" type="matrix" values="0 0 0 0 0.17  0 0 0 0 0.06  0 0 0 0 0.52  1.7 0 1.3 0 -1.36" result="sp"/>
<feComposite in="sp" in2="SourceGraphic" operator="in" result="sp2"/>
<feMerge><feMergeNode in="SourceGraphic"/><feMergeNode in="sp2"/></feMerge>
</filter>
<filter id="b3" filterUnits="userSpaceOnUse" x="0" y="1760" width="720" height="500"><feGaussianBlur stdDeviation="3"/></filter>
<filter id="b6" filterUnits="userSpaceOnUse" x="0" y="1760" width="720" height="500"><feGaussianBlur stdDeviation="6"/></filter>
<filter id="b12" filterUnits="userSpaceOnUse" x="0" y="1760" width="720" height="500"><feGaussianBlur stdDeviation="12"/></filter>
<filter id="b1" filterUnits="userSpaceOnUse" x="0" y="1760" width="720" height="500"><feGaussianBlur stdDeviation="1.2"/></filter>
</defs>
<text x="17.5" y="1697.5" font-size="33" fill="#000" font-weight="bold">f</text>
<text x="284" y="1702.4" font-size="29.8"><tspan fill="#E60012">mCherry</tspan><tspan fill="#1D2088">DAPI</tspan></text>
<rect x="57.8" y="1715.8" width="315.4" height="48.8" fill="#fff" stroke="#231815" stroke-width="4.0"/>
<rect x="378.6" y="1715.8" width="315.2" height="48.8" fill="#fff" stroke="#231815" stroke-width="4.0"/>
<text x="215.6" y="1747.3" font-size="29.8" fill="#000" text-anchor="middle">Vector</text>
<text x="536.2" y="1747.3" font-size="29.8" fill="#000" text-anchor="middle">TNP</text>
<rect x="2.8" y="1772.8" width="47.4" height="233.2" fill="#fff" stroke="#231815" stroke-width="4.0"/>
<rect x="2.8" y="2016.6" width="47.4" height="236.0" fill="#fff" stroke="#231815" stroke-width="4.0"/>
<text transform="translate(37.5,1893.0) rotate(-90)" font-size="29.5" fill="#000" text-anchor="middle">T1</text>
<text transform="translate(37.5,2133.0) rotate(-90)" font-size="29.5" fill="#000" text-anchor="middle">T2</text>
<polygon points="60.5,1773.5 351.2,1773.5 351.2,1845.5 372.2,1845.5 372.2,1946.6 363.0,1946.6 363.0,2008.7 245.5,2008.7 245.5,2004.0 154.0,2004.0 154.0,1994.5 60.5,1994.5 60.5,1939.8 57.0,1939.8 57.0,1837.7 60.5,1837.7" fill="#040004"/>
<clipPath id="cf1"><path d="M206.7,1795.9C199.1,1795.0 182.1,1782.6 171.3,1781.1C160.4,1779.5 151.9,1783.5 141.6,1786.8C131.3,1790.0 119.1,1795.5 109.6,1800.5C100.1,1805.4 91.3,1810.4 84.5,1816.5C77.6,1822.6 72.1,1829.0 68.5,1837.0C64.9,1845.0 63.2,1854.9 62.8,1864.4C62.4,1873.9 64.1,1885.0 66.2,1894.1C68.3,1903.2 71.2,1911.6 75.4,1919.2C79.5,1926.8 85.6,1933.3 91.3,1939.8C97.1,1946.3 103.5,1952.3 109.6,1958.0C115.7,1963.8 122.6,1969.1 127.9,1974.0C133.2,1979.0 136.3,1985.8 141.6,1987.7C146.9,1989.6 153.8,1987.7 159.9,1985.5C165.9,1983.2 172.4,1977.8 178.1,1974.0C183.8,1970.2 189.5,1964.9 194.1,1962.6C198.7,1960.3 201.3,1960.0 205.5,1960.3C209.7,1960.7 214.7,1961.5 219.2,1964.9C223.8,1968.3 227.6,1976.3 232.9,1980.9C238.3,1985.5 245.1,1990.0 251.2,1992.3C257.3,1994.6 262.6,1995.3 269.5,1994.6C276.3,1993.8 284.7,1991.2 292.3,1987.7C299.9,1984.3 308.3,1979.4 315.1,1974.0C322.0,1968.7 327.7,1962.6 333.4,1955.8C339.1,1948.9 344.8,1941.3 349.4,1932.9C354.0,1924.6 358.1,1914.7 360.8,1905.5C363.5,1896.4 365.4,1886.5 365.4,1878.1C365.4,1869.7 363.1,1862.1 360.8,1855.3C358.5,1848.4 354.7,1843.1 351.7,1837.0C348.6,1830.9 347.1,1824.8 342.5,1818.7C338.0,1812.7 331.9,1805.4 324.3,1800.5C316.7,1795.5 306.0,1792.5 296.9,1789.1C287.7,1785.6 278.6,1779.5 269.5,1779.9C260.3,1780.3 248.9,1791.0 242.1,1791.3C235.2,1791.7 232.5,1783.0 228.4,1782.2C224.2,1781.4 220.6,1784.5 216.9,1786.8C213.3,1789.1 214.3,1796.9 206.7,1795.9Z"/></clipPath>
<radialGradient id="gf1" cx="0.5" cy="0.55" r="0.6"><stop offset="0" stop-color="#280218"/><stop offset="0.6" stop-color="#2C021A"/><stop offset="0.85" stop-color="#3E0320"/><stop offset="1" stop-color="#440320"/></radialGradient>
<g filter="url(#grainF)"><g clip-path="url(#cf1)"><path d="M206.7,1795.9C199.1,1795.0 182.1,1782.6 171.3,1781.1C160.4,1779.5 151.9,1783.5 141.6,1786.8C131.3,1790.0 119.1,1795.5 109.6,1800.5C100.1,1805.4 91.3,1810.4 84.5,1816.5C77.6,1822.6 72.1,1829.0 68.5,1837.0C64.9,1845.0 63.2,1854.9 62.8,1864.4C62.4,1873.9 64.1,1885.0 66.2,1894.1C68.3,1903.2 71.2,1911.6 75.4,1919.2C79.5,1926.8 85.6,1933.3 91.3,1939.8C97.1,1946.3 103.5,1952.3 109.6,1958.0C115.7,1963.8 122.6,1969.1 127.9,1974.0C133.2,1979.0 136.3,1985.8 141.6,1987.7C146.9,1989.6 153.8,1987.7 159.9,1985.5C165.9,1983.2 172.4,1977.8 178.1,1974.0C183.8,1970.2 189.5,1964.9 194.1,1962.6C198.7,1960.3 201.3,1960.0 205.5,1960.3C209.7,1960.7 214.7,1961.5 219.2,1964.9C223.8,1968.3 227.6,1976.3 232.9,1980.9C238.3,1985.5 245.1,1990.0 251.2,1992.3C257.3,1994.6 262.6,1995.3 269.5,1994.6C276.3,1993.8 284.7,1991.2 292.3,1987.7C299.9,1984.3 308.3,1979.4 315.1,1974.0C322.0,1968.7 327.7,1962.6 333.4,1955.8C339.1,1948.9 344.8,1941.3 349.4,1932.9C354.0,1924.6 358.1,1914.7 360.8,1905.5C363.5,1896.4 365.4,1886.5 365.4,1878.1C365.4,1869.7 363.1,1862.1 360.8,1855.3C358.5,1848.4 354.7,1843.1 351.7,1837.0C348.6,1830.9 347.1,1824.8 342.5,1818.7C338.0,1812.7 331.9,1805.4 324.3,1800.5C316.7,1795.5 306.0,1792.5 296.9,1789.1C287.7,1785.6 278.6,1779.5 269.5,1779.9C260.3,1780.3 248.9,1791.0 242.1,1791.3C235.2,1791.7 232.5,1783.0 228.4,1782.2C224.2,1781.4 220.6,1784.5 216.9,1786.8C213.3,1789.1 214.3,1796.9 206.7,1795.9Z" fill="url(#gf1)"/><path d="M206.7,1795.9C199.1,1795.0 182.1,1782.6 171.3,1781.1C160.4,1779.5 151.9,1783.5 141.6,1786.8C131.3,1790.0 119.1,1795.5 109.6,1800.5C100.1,1805.4 91.3,1810.4 84.5,1816.5C77.6,1822.6 72.1,1829.0 68.5,1837.0C64.9,1845.0 63.2,1854.9 62.8,1864.4C62.4,1873.9 64.1,1885.0 66.2,1894.1C68.3,1903.2 71.2,1911.6 75.4,1919.2C79.5,1926.8 85.6,1933.3 91.3,1939.8C97.1,1946.3 103.5,1952.3 109.6,1958.0C115.7,1963.8 122.6,1969.1 127.9,1974.0C133.2,1979.0 136.3,1985.8 141.6,1987.7C146.9,1989.6 153.8,1987.7 159.9,1985.5C165.9,1983.2 172.4,1977.8 178.1,1974.0C183.8,1970.2 189.5,1964.9 194.1,1962.6C198.7,1960.3 201.3,1960.0 205.5,1960.3C209.7,1960.7 214.7,1961.5 219.2,1964.9C223.8,1968.3 227.6,1976.3 232.9,1980.9C238.3,1985.5 245.1,1990.0 251.2,1992.3C257.3,1994.6 262.6,1995.3 269.5,1994.6C276.3,1993.8 284.7,1991.2 292.3,1987.7C299.9,1984.3 308.3,1979.4 315.1,1974.0C322.0,1968.7 327.7,1962.6 333.4,1955.8C339.1,1948.9 344.8,1941.3 349.4,1932.9C354.0,1924.6 358.1,1914.7 360.8,1905.5C363.5,1896.4 365.4,1886.5 365.4,1878.1C365.4,1869.7 363.1,1862.1 360.8,1855.3C358.5,1848.4 354.7,1843.1 351.7,1837.0C348.6,1830.9 347.1,1824.8 342.5,1818.7C338.0,1812.7 331.9,1805.4 324.3,1800.5C316.7,1795.5 306.0,1792.5 296.9,1789.1C287.7,1785.6 278.6,1779.5 269.5,1779.9C260.3,1780.3 248.9,1791.0 242.1,1791.3C235.2,1791.7 232.5,1783.0 228.4,1782.2C224.2,1781.4 220.6,1784.5 216.9,1786.8C213.3,1789.1 214.3,1796.9 206.7,1795.9Z" fill="none" stroke="#3030B0" stroke-width="1.6" opacity="0.55"/><ellipse cx="112" cy="1818" rx="42" ry="22" fill="#9A0A40" opacity="0.6" filter="url(#b12)" transform="rotate(-35 112 1818)"/><ellipse cx="210" cy="1900" rx="22" ry="50" fill="#6A0630" opacity="0.55" filter="url(#b6)"/><path d="M300,1853 Q336,1880 324,1930 Q308,1900 300,1853Z" fill="#C81C90" filter="url(#b3)"/><path d="M308,1866 Q327,1886 321,1916 Q314,1895 308,1866Z" fill="#F040C0" opacity="0.45" filter="url(#b1)"/><path d="M165,1845 Q182,1860 178,1905 Q172,1935 190,1965" fill="none" stroke="#2A20B0" stroke-width="2" opacity="0.7" filter="url(#b1)"/><path d="M256,1848 Q240,1870 244,1910 Q246,1930 232,1950" fill="none" stroke="#2A20B0" stroke-width="2" opacity="0.7" filter="url(#b1)"/></g></g>
<rect x="327.70" y="1994.60" width="29.70" height="4.50" fill="#fff"/>
<polygon points="378.3,1781.0 462.8,1781.0 462.8,1773.5 636.3,1773.5 636.3,1781.0 686.6,1781.0 686.6,1848.4 692.3,1848.4 692.3,1946.6 691.1,1946.6 691.1,2008.7 541.5,2008.7 541.5,2002.6 386.3,2002.6 386.3,1949.0 381.7,1949.0 381.7,1878.0 378.3,1878.0" fill="#030003"/>
<clipPath id="cf2"><path d="M537.0,1798.2C532.4,1797.4 527.3,1787.2 519.9,1784.5C512.4,1781.8 502.0,1781.1 492.5,1782.2C482.9,1783.4 473.4,1786.0 462.8,1791.3C452.1,1796.7 438.4,1805.8 428.5,1814.2C418.6,1822.6 410.2,1830.9 403.4,1841.6C396.5,1852.2 390.6,1867.5 387.4,1878.1C384.2,1888.8 383.6,1896.0 384.0,1905.5C384.4,1915.0 386.8,1926.5 389.7,1935.2C392.5,1944.0 396.2,1951.2 401.1,1958.0C406.1,1964.9 411.0,1971.0 419.4,1976.3C427.7,1981.6 439.9,1986.6 451.3,1990.0C462.8,1993.4 476.5,1997.6 487.9,1996.9C499.3,1996.1 511.5,1990.0 519.9,1985.5C528.2,1980.9 533.2,1975.2 538.1,1969.5C543.1,1963.8 545.7,1951.2 549.5,1951.2C553.3,1951.2 556.4,1963.0 561.0,1969.5C565.5,1975.9 570.1,1985.1 576.9,1990.0C583.8,1995.0 592.5,1998.8 602.1,1999.2C611.6,1999.5 624.9,1996.5 634.0,1992.3C643.2,1988.1 650.0,1981.6 656.9,1974.0C663.7,1966.4 670.2,1956.1 675.1,1946.6C680.1,1937.1 684.1,1927.6 686.6,1916.9C689.0,1906.3 691.1,1894.1 690.0,1882.7C688.8,1871.3 684.5,1859.1 679.7,1848.4C675.0,1837.8 669.1,1827.1 661.4,1818.7C653.8,1810.4 644.3,1803.9 634.0,1798.2C623.8,1792.5 611.2,1787.3 599.8,1784.5C588.4,1781.6 574.3,1780.3 565.5,1781.1C556.8,1781.8 552.0,1786.2 547.3,1789.1C542.5,1791.9 541.5,1799.0 537.0,1798.2Z"/></clipPath>
<radialGradient id="gf2" cx="0.45" cy="0.58" r="0.62"><stop offset="0" stop-color="#180216"/><stop offset="0.55" stop-color="#20021A"/><stop offset="0.8" stop-color="#3E0320"/><stop offset="1" stop-color="#540322"/></radialGradient>
<g filter="url(#grainF)"><g clip-path="url(#cf2)"><path d="M537.0,1798.2C532.4,1797.4 527.3,1787.2 519.9,1784.5C512.4,1781.8 502.0,1781.1 492.5,1782.2C482.9,1783.4 473.4,1786.0 462.8,1791.3C452.1,1796.7 438.4,1805.8 428.5,1814.2C418.6,1822.6 410.2,1830.9 403.4,1841.6C396.5,1852.2 390.6,1867.5 387.4,1878.1C384.2,1888.8 383.6,1896.0 384.0,1905.5C384.4,1915.0 386.8,1926.5 389.7,1935.2C392.5,1944.0 396.2,1951.2 401.1,1958.0C406.1,1964.9 411.0,1971.0 419.4,1976.3C427.7,1981.6 439.9,1986.6 451.3,1990.0C462.8,1993.4 476.5,1997.6 487.9,1996.9C499.3,1996.1 511.5,1990.0 519.9,1985.5C528.2,1980.9 533.2,1975.2 538.1,1969.5C543.1,1963.8 545.7,1951.2 549.5,1951.2C553.3,1951.2 556.4,1963.0 561.0,1969.5C565.5,1975.9 570.1,1985.1 576.9,1990.0C583.8,1995.0 592.5,1998.8 602.1,1999.2C611.6,1999.5 624.9,1996.5 634.0,1992.3C643.2,1988.1 650.0,1981.6 656.9,1974.0C663.7,1966.4 670.2,1956.1 675.1,1946.6C680.1,1937.1 684.1,1927.6 686.6,1916.9C689.0,1906.3 691.1,1894.1 690.0,1882.7C688.8,1871.3 684.5,1859.1 679.7,1848.4C675.0,1837.8 669.1,1827.1 661.4,1818.7C653.8,1810.4 644.3,1803.9 634.0,1798.2C623.8,1792.5 611.2,1787.3 599.8,1784.5C588.4,1781.6 574.3,1780.3 565.5,1781.1C556.8,1781.8 552.0,1786.2 547.3,1789.1C542.5,1791.9 541.5,1799.0 537.0,1798.2Z" fill="url(#gf2)"/><path d="M537.0,1798.2C532.4,1797.4 527.3,1787.2 519.9,1784.5C512.4,1781.8 502.0,1781.1 492.5,1782.2C482.9,1783.4 473.4,1786.0 462.8,1791.3C452.1,1796.7 438.4,1805.8 428.5,1814.2C418.6,1822.6 410.2,1830.9 403.4,1841.6C396.5,1852.2 390.6,1867.5 387.4,1878.1C384.2,1888.8 383.6,1896.0 384.0,1905.5C384.4,1915.0 386.8,1926.5 389.7,1935.2C392.5,1944.0 396.2,1951.2 401.1,1958.0C406.1,1964.9 411.0,1971.0 419.4,1976.3C427.7,1981.6 439.9,1986.6 451.3,1990.0C462.8,1993.4 476.5,1997.6 487.9,1996.9C499.3,1996.1 511.5,1990.0 519.9,1985.5C528.2,1980.9 533.2,1975.2 538.1,1969.5C543.1,1963.8 545.7,1951.2 549.5,1951.2C553.3,1951.2 556.4,1963.0 561.0,1969.5C565.5,1975.9 570.1,1985.1 576.9,1990.0C583.8,1995.0 592.5,1998.8 602.1,1999.2C611.6,1999.5 624.9,1996.5 634.0,1992.3C643.2,1988.1 650.0,1981.6 656.9,1974.0C663.7,1966.4 670.2,1956.1 675.1,1946.6C680.1,1937.1 684.1,1927.6 686.6,1916.9C689.0,1906.3 691.1,1894.1 690.0,1882.7C688.8,1871.3 684.5,1859.1 679.7,1848.4C675.0,1837.8 669.1,1827.1 661.4,1818.7C653.8,1810.4 644.3,1803.9 634.0,1798.2C623.8,1792.5 611.2,1787.3 599.8,1784.5C588.4,1781.6 574.3,1780.3 565.5,1781.1C556.8,1781.8 552.0,1786.2 547.3,1789.1C542.5,1791.9 541.5,1799.0 537.0,1798.2Z" fill="none" stroke="#3030B0" stroke-width="1.6" opacity="0.55"/><path d="M451.3,1857.6C455.2,1856.2 466.6,1851.3 474.2,1849.6C481.8,1847.9 489.4,1846.6 497.0,1847.3C504.6,1847.9 513.0,1851.7 519.9,1853.5C526.7,1855.2 531.7,1858.2 538.1,1858.0C544.6,1857.9 551.8,1854.1 558.7,1852.5C565.5,1851.0 572.0,1849.4 579.2,1848.9C586.5,1848.4 594.8,1849.0 602.1,1849.6C609.3,1850.2 619.2,1852.1 622.6,1852.5" fill="none" stroke="#A00C34" stroke-width="5" filter="url(#b1)" opacity="0.9"/><path d="M622.6,1850.7C625.7,1853.0 636.3,1858.3 640.9,1864.4C645.5,1870.5 648.5,1878.5 650.0,1887.3C651.5,1896.0 651.2,1907.8 650.0,1916.9C648.9,1926.1 645.8,1935.2 643.2,1942.1C640.5,1948.9 635.6,1955.4 634.0,1958.0" fill="none" stroke="#B00C40" stroke-width="28" filter="url(#b6)" opacity="0.9" stroke-linecap="round"/><path d="M622.6,1850.7C625.7,1853.0 636.3,1858.3 640.9,1864.4C645.5,1870.5 648.5,1878.5 650.0,1887.3C651.5,1896.0 651.2,1907.8 650.0,1916.9C648.9,1926.1 645.8,1935.2 643.2,1942.1C640.5,1948.9 635.6,1955.4 634.0,1958.0" fill="none" stroke="#A018A0" stroke-width="11" filter="url(#b3)" opacity="0.8" stroke-linecap="round" transform="translate(-6,2)"/><path d="M487.9,1947.8 L515.3,1932.9" stroke="#A0103C" stroke-width="3" filter="url(#b1)"/></g></g>
<rect x="655.70" y="1995.00" width="29.70" height="4.30" fill="#fff"/>
<polygon points="63.9,2020.8 122.2,2020.8 122.2,2016.3 308.3,2016.3 308.3,2020.8 372.2,2020.8 372.2,2241.2 299.0,2241.2 299.0,2251.5 81.0,2251.5 81.0,2210.4 58.2,2210.4 58.2,2059.7 63.9,2059.7" fill="#130006"/>
<clipPath id="cf3"><path d="M216.9,2031.1C211.6,2030.9 203.6,2024.4 194.1,2024.3C184.6,2024.1 171.3,2027.3 159.9,2030.0C148.4,2032.6 136.3,2035.9 125.6,2040.2C114.9,2044.6 103.9,2050.1 95.9,2056.2C87.9,2062.3 82.2,2069.5 77.6,2076.8C73.1,2084.0 70.6,2091.2 68.5,2099.6C66.4,2108.0 65.1,2117.9 65.1,2127.0C65.1,2136.2 66.4,2145.7 68.5,2154.4C70.6,2163.2 73.8,2171.5 77.6,2179.5C81.4,2187.5 86.0,2195.5 91.3,2202.4C96.7,2209.2 102.8,2215.3 109.6,2220.6C116.5,2226.0 124.1,2232.4 132.5,2234.3C140.8,2236.3 150.7,2233.2 159.9,2232.1C169.0,2230.9 179.6,2229.0 187.3,2227.5C194.9,2226.0 198.7,2224.1 205.5,2222.9C212.4,2221.8 220.8,2219.9 228.4,2220.6C236.0,2221.4 243.6,2224.8 251.2,2227.5C258.8,2230.2 265.7,2235.9 274.0,2236.6C282.4,2237.4 293.1,2235.1 301.4,2232.1C309.8,2229.0 317.4,2223.7 324.3,2218.4C331.1,2213.0 337.2,2206.9 342.5,2200.1C347.9,2193.2 352.4,2185.6 356.2,2177.3C360.1,2168.9 363.5,2159.0 365.4,2149.9C367.3,2140.7 368.0,2131.6 367.7,2122.5C367.3,2113.3 365.8,2103.8 363.1,2095.0C360.4,2086.3 356.2,2076.6 351.7,2069.9C347.1,2063.3 340.3,2056.2 335.7,2055.1C331.1,2053.9 326.9,2064.0 324.3,2063.1C321.6,2062.1 323.1,2053.9 319.7,2049.4C316.3,2044.8 311.3,2039.5 303.7,2035.7C296.1,2031.9 283.6,2028.8 274.0,2026.5C264.5,2024.3 254.6,2022.2 246.6,2022.0C238.6,2021.8 231.0,2023.9 226.1,2025.4C221.1,2026.9 222.3,2031.3 216.9,2031.1Z"/></clipPath>
<radialGradient id="gf3" cx="0.5" cy="0.52" r="0.6"><stop offset="0" stop-color="#1E0218"/><stop offset="0.5" stop-color="#28021C"/><stop offset="0.8" stop-color="#4C0424"/><stop offset="1" stop-color="#600424"/></radialGradient>
<g filter="url(#grainF)"><g clip-path="url(#cf3)"><path d="M216.9,2031.1C211.6,2030.9 203.6,2024.4 194.1,2024.3C184.6,2024.1 171.3,2027.3 159.9,2030.0C148.4,2032.6 136.3,2035.9 125.6,2040.2C114.9,2044.6 103.9,2050.1 95.9,2056.2C87.9,2062.3 82.2,2069.5 77.6,2076.8C73.1,2084.0 70.6,2091.2 68.5,2099.6C66.4,2108.0 65.1,2117.9 65.1,2127.0C65.1,2136.2 66.4,2145.7 68.5,2154.4C70.6,2163.2 73.8,2171.5 77.6,2179.5C81.4,2187.5 86.0,2195.5 91.3,2202.4C96.7,2209.2 102.8,2215.3 109.6,2220.6C116.5,2226.0 124.1,2232.4 132.5,2234.3C140.8,2236.3 150.7,2233.2 159.9,2232.1C169.0,2230.9 179.6,2229.0 187.3,2227.5C194.9,2226.0 198.7,2224.1 205.5,2222.9C212.4,2221.8 220.8,2219.9 228.4,2220.6C236.0,2221.4 243.6,2224.8 251.2,2227.5C258.8,2230.2 265.7,2235.9 274.0,2236.6C282.4,2237.4 293.1,2235.1 301.4,2232.1C309.8,2229.0 317.4,2223.7 324.3,2218.4C331.1,2213.0 337.2,2206.9 342.5,2200.1C347.9,2193.2 352.4,2185.6 356.2,2177.3C360.1,2168.9 363.5,2159.0 365.4,2149.9C367.3,2140.7 368.0,2131.6 367.7,2122.5C367.3,2113.3 365.8,2103.8 363.1,2095.0C360.4,2086.3 356.2,2076.6 351.7,2069.9C347.1,2063.3 340.3,2056.2 335.7,2055.1C331.1,2053.9 326.9,2064.0 324.3,2063.1C321.6,2062.1 323.1,2053.9 319.7,2049.4C316.3,2044.8 311.3,2039.5 303.7,2035.7C296.1,2031.9 283.6,2028.8 274.0,2026.5C264.5,2024.3 254.6,2022.2 246.6,2022.0C238.6,2021.8 231.0,2023.9 226.1,2025.4C221.1,2026.9 222.3,2031.3 216.9,2031.1Z" fill="url(#gf3)"/><path d="M216.9,2031.1C211.6,2030.9 203.6,2024.4 194.1,2024.3C184.6,2024.1 171.3,2027.3 159.9,2030.0C148.4,2032.6 136.3,2035.9 125.6,2040.2C114.9,2044.6 103.9,2050.1 95.9,2056.2C87.9,2062.3 82.2,2069.5 77.6,2076.8C73.1,2084.0 70.6,2091.2 68.5,2099.6C66.4,2108.0 65.1,2117.9 65.1,2127.0C65.1,2136.2 66.4,2145.7 68.5,2154.4C70.6,2163.2 73.8,2171.5 77.6,2179.5C81.4,2187.5 86.0,2195.5 91.3,2202.4C96.7,2209.2 102.8,2215.3 109.6,2220.6C116.5,2226.0 124.1,2232.4 132.5,2234.3C140.8,2236.3 150.7,2233.2 159.9,2232.1C169.0,2230.9 179.6,2229.0 187.3,2227.5C194.9,2226.0 198.7,2224.1 205.5,2222.9C212.4,2221.8 220.8,2219.9 228.4,2220.6C236.0,2221.4 243.6,2224.8 251.2,2227.5C258.8,2230.2 265.7,2235.9 274.0,2236.6C282.4,2237.4 293.1,2235.1 301.4,2232.1C309.8,2229.0 317.4,2223.7 324.3,2218.4C331.1,2213.0 337.2,2206.9 342.5,2200.1C347.9,2193.2 352.4,2185.6 356.2,2177.3C360.1,2168.9 363.5,2159.0 365.4,2149.9C367.3,2140.7 368.0,2131.6 367.7,2122.5C367.3,2113.3 365.8,2103.8 363.1,2095.0C360.4,2086.3 356.2,2076.6 351.7,2069.9C347.1,2063.3 340.3,2056.2 335.7,2055.1C331.1,2053.9 326.9,2064.0 324.3,2063.1C321.6,2062.1 323.1,2053.9 319.7,2049.4C316.3,2044.8 311.3,2039.5 303.7,2035.7C296.1,2031.9 283.6,2028.8 274.0,2026.5C264.5,2024.3 254.6,2022.2 246.6,2022.0C238.6,2021.8 231.0,2023.9 226.1,2025.4C221.1,2026.9 222.3,2031.3 216.9,2031.1Z" fill="none" stroke="#3030B0" stroke-width="1.6" opacity="0.55"/><ellipse cx="319.7" cy="2131.6" rx="4" ry="24" fill="#E02880" filter="url(#b3)" opacity="0.9"/><ellipse cx="282.0" cy="2192.1" rx="5" ry="7" fill="#0A0005" transform="rotate(-30 282.0 2192.1)"/></g></g>
<rect x="327.70" y="2233.70" width="29.70" height="4.50" fill="#fff"/>
<polygon points="380.6,2018.5 443.4,2018.5 443.4,2015.6 546.1,2015.6 546.1,2024.0 629.5,2024.0 629.5,2031.0 692.3,2031.0 692.3,2190.0 691.0,2190.0 691.0,2252.0 437.0,2252.0 437.0,2249.0 378.3,2249.0 378.3,2081.0 380.6,2081.0" fill="#030003"/>
<clipPath id="cf4"><path d="M529.0,2035.7C520.6,2034.2 508.1,2023.1 497.0,2022.0C486.0,2020.8 473.4,2025.0 462.8,2028.8C452.1,2032.6 442.2,2038.0 433.1,2044.8C423.9,2051.7 414.8,2061.2 408.0,2069.9C401.1,2078.7 396.0,2087.8 392.0,2097.3C388.0,2106.8 385.1,2116.4 384.0,2127.0C382.8,2137.7 383.4,2150.6 385.1,2161.3C386.8,2171.9 389.7,2181.4 394.3,2191.0C398.8,2200.5 405.7,2210.8 412.5,2218.4C419.4,2226.0 427.0,2232.1 435.4,2236.6C443.7,2241.2 453.2,2245.4 462.8,2245.8C472.3,2246.1 483.7,2241.2 492.5,2238.9C501.2,2236.6 508.4,2232.8 515.3,2232.1C522.1,2231.3 527.1,2234.7 533.6,2234.3C540.0,2234.0 546.9,2231.3 554.1,2229.8C561.3,2228.3 569.3,2224.1 576.9,2225.2C584.6,2226.4 591.0,2233.2 599.8,2236.6C608.5,2240.1 620.3,2245.4 629.5,2245.8C638.6,2246.1 647.4,2244.2 654.6,2238.9C661.8,2233.6 667.9,2222.9 672.9,2213.8C677.8,2204.7 681.6,2194.8 684.3,2184.1C686.9,2173.5 688.5,2160.9 688.8,2149.9C689.2,2138.8 688.5,2128.2 686.6,2117.9C684.7,2107.6 681.6,2097.3 677.4,2088.2C673.2,2079.1 667.9,2069.5 661.4,2063.1C655.0,2056.6 647.0,2053.6 638.6,2049.4C630.2,2045.2 621.5,2040.6 611.2,2038.0C600.9,2035.3 587.6,2034.5 576.9,2033.4C566.3,2032.2 555.3,2030.7 547.3,2031.1C539.3,2031.5 537.4,2037.2 529.0,2035.7Z"/></clipPath>
<radialGradient id="gf4" cx="0.45" cy="0.52" r="0.6"><stop offset="0" stop-color="#16021A"/><stop offset="0.5" stop-color="#22021E"/><stop offset="0.8" stop-color="#580428"/><stop offset="1" stop-color="#720428"/></radialGradient>
<g filter="url(#grainF)"><g clip-path="url(#cf4)"><path d="M529.0,2035.7C520.6,2034.2 508.1,2023.1 497.0,2022.0C486.0,2020.8 473.4,2025.0 462.8,2028.8C452.1,2032.6 442.2,2038.0 433.1,2044.8C423.9,2051.7 414.8,2061.2 408.0,2069.9C401.1,2078.7 396.0,2087.8 392.0,2097.3C388.0,2106.8 385.1,2116.4 384.0,2127.0C382.8,2137.7 383.4,2150.6 385.1,2161.3C386.8,2171.9 389.7,2181.4 394.3,2191.0C398.8,2200.5 405.7,2210.8 412.5,2218.4C419.4,2226.0 427.0,2232.1 435.4,2236.6C443.7,2241.2 453.2,2245.4 462.8,2245.8C472.3,2246.1 483.7,2241.2 492.5,2238.9C501.2,2236.6 508.4,2232.8 515.3,2232.1C522.1,2231.3 527.1,2234.7 533.6,2234.3C540.0,2234.0 546.9,2231.3 554.1,2229.8C561.3,2228.3 569.3,2224.1 576.9,2225.2C584.6,2226.4 591.0,2233.2 599.8,2236.6C608.5,2240.1 620.3,2245.4 629.5,2245.8C638.6,2246.1 647.4,2244.2 654.6,2238.9C661.8,2233.6 667.9,2222.9 672.9,2213.8C677.8,2204.7 681.6,2194.8 684.3,2184.1C686.9,2173.5 688.5,2160.9 688.8,2149.9C689.2,2138.8 688.5,2128.2 686.6,2117.9C684.7,2107.6 681.6,2097.3 677.4,2088.2C673.2,2079.1 667.9,2069.5 661.4,2063.1C655.0,2056.6 647.0,2053.6 638.6,2049.4C630.2,2045.2 621.5,2040.6 611.2,2038.0C600.9,2035.3 587.6,2034.5 576.9,2033.4C566.3,2032.2 555.3,2030.7 547.3,2031.1C539.3,2031.5 537.4,2037.2 529.0,2035.7Z" fill="url(#gf4)"/><path d="M529.0,2035.7C520.6,2034.2 508.1,2023.1 497.0,2022.0C486.0,2020.8 473.4,2025.0 462.8,2028.8C452.1,2032.6 442.2,2038.0 433.1,2044.8C423.9,2051.7 414.8,2061.2 408.0,2069.9C401.1,2078.7 396.0,2087.8 392.0,2097.3C388.0,2106.8 385.1,2116.4 384.0,2127.0C382.8,2137.7 383.4,2150.6 385.1,2161.3C386.8,2171.9 389.7,2181.4 394.3,2191.0C398.8,2200.5 405.7,2210.8 412.5,2218.4C419.4,2226.0 427.0,2232.1 435.4,2236.6C443.7,2241.2 453.2,2245.4 462.8,2245.8C472.3,2246.1 483.7,2241.2 492.5,2238.9C501.2,2236.6 508.4,2232.8 515.3,2232.1C522.1,2231.3 527.1,2234.7 533.6,2234.3C540.0,2234.0 546.9,2231.3 554.1,2229.8C561.3,2228.3 569.3,2224.1 576.9,2225.2C584.6,2226.4 591.0,2233.2 599.8,2236.6C608.5,2240.1 620.3,2245.4 629.5,2245.8C638.6,2246.1 647.4,2244.2 654.6,2238.9C661.8,2233.6 667.9,2222.9 672.9,2213.8C677.8,2204.7 681.6,2194.8 684.3,2184.1C686.9,2173.5 688.5,2160.9 688.8,2149.9C689.2,2138.8 688.5,2128.2 686.6,2117.9C684.7,2107.6 681.6,2097.3 677.4,2088.2C673.2,2079.1 667.9,2069.5 661.4,2063.1C655.0,2056.6 647.0,2053.6 638.6,2049.4C630.2,2045.2 621.5,2040.6 611.2,2038.0C600.9,2035.3 587.6,2034.5 576.9,2033.4C566.3,2032.2 555.3,2030.7 547.3,2031.1C539.3,2031.5 537.4,2037.2 529.0,2035.7Z" fill="none" stroke="#3030B0" stroke-width="1.6" opacity="0.55"/><ellipse cx="647.7" cy="2149.9" rx="40" ry="92" fill="#B00840" filter="url(#b12)" opacity="0.85"/><ellipse cx="640.9" cy="2195.5" rx="34" ry="34" fill="#C81040" filter="url(#b12)" opacity="0.65"/><path d="M417.1,2138.4C419.0,2133.5 422.8,2117.1 428.5,2108.7C434.2,2100.4 443.0,2092.8 451.3,2088.2C459.7,2083.6 470.4,2081.0 478.7,2081.3C487.1,2081.7 493.2,2087.4 501.6,2090.5C510.0,2093.5 519.9,2099.6 529.0,2099.6C538.1,2099.6 547.3,2093.1 556.4,2090.5C565.5,2087.8 574.7,2084.4 583.8,2083.6C592.9,2082.9 602.8,2084.4 611.2,2085.9C619.6,2087.4 630.2,2091.6 634.0,2092.8" fill="none" stroke="#B01040" stroke-width="5" filter="url(#b1)" opacity="0.85"/><path d="M444.5,2195.5C447.9,2194.4 457.8,2192.5 465.0,2188.7C472.3,2184.9 481.0,2176.5 487.9,2172.7C494.7,2168.9 500.8,2166.8 506.2,2165.8C511.5,2164.9 517.6,2166.8 519.9,2167.0" fill="none" stroke="#C01040" stroke-width="5" filter="url(#b1)" opacity="0.9"/><path d="M554.1,2165.8C557.2,2166.6 565.9,2168.1 572.4,2170.4C578.8,2172.7 586.5,2176.5 592.9,2179.5C599.4,2182.6 608.2,2187.2 611.2,2188.7" fill="none" stroke="#C01040" stroke-width="6" filter="url(#b1)" opacity="0.9"/></g></g>
<rect x="655.70" y="2233.70" width="29.70" height="4.50" fill="#fff"/>
</g>
<g id="pg">
<defs>
<filter id="texR" x="-5%" y="-5%" width="110%" height="110%" color-interpolation-filters="sRGB">
<feTurbulence type="fractalNoise" baseFrequency="0.035 0.02" numOctaves="2" seed="7" result="w"/>
<feDisplacementMap in="SourceGraphic" in2="w" scale="26" xChannelSelector="R" yChannelSelector="G" result="src"/>
<feTurbulence type="fractalNoise" baseFrequency="0.36 0.26" numOctaves="2" seed="11" result="n"/>
<feColorMatrix in="n" type="matrix" values="0 0 0 0 0.06  0 0 0 0 0.0  0 0 0 0 0  0 4.6 0 0 -2.14" result="dk0"/>
<feGaussianBlur in="dk0" stdDeviation="0.5" result="dk"/>
<feTurbulence type="fractalNoise" baseFrequency="0.30 0.20" numOctaves="2" seed="23" result="n2"/>
<feColorMatrix in="n2" type="matrix" values="0 0 0 0 1  0 0 0 0 0.26  0 0 0 0 0.02  3.0 0 0 0 -1.55" result="br"/>
<feComposite in="dk" in2="src" operator="in" result="dk2"/>
<feComposite in="br" in2="src" operator="in" result="br2"/>
<feMerge><feMergeNode in="src"/><feMergeNode in="br2"/><feMergeNode in="dk2"/></feMerge>
</filter>
<filter id="texG" x="0" y="0" width="100%" height="100%" color-interpolation-filters="sRGB">
<feTurbulence type="fractalNoise" baseFrequency="0.24" numOctaves="2" seed="5" result="n"/>
<feColorMatrix in="n" type="matrix" values="0 0 0 0 0.02  0 0 0 0 0.01  0 0 0 0 0  0 5.0 0 0 -2.55" result="dk"/>
<feGaussianBlur in="dk" stdDeviation="0.6" result="dkb"/>
<feTurbulence type="fractalNoise" baseFrequency="0.03" numOctaves="2" seed="9" result="lf"/>
<feColorMatrix in="lf" type="matrix" values="0 0 0 0 0  0 0 0 0 0  0 0 0 0 0  0 0 1.4 0 -0.55" result="lfd"/>
<feComposite in="dkb" in2="SourceGraphic" operator="in" result="dk2"/>
<feComposite in="lfd" in2="SourceGraphic" operator="in" result="lf2"/>
<feMerge><feMergeNode in="SourceGraphic"/><feMergeNode in="lf2"/><feMergeNode in="dk2"/></feMerge>
</filter>
<filter id="bl1g" filterUnits="userSpaceOnUse" x="690" y="1750" width="680" height="520"><feGaussianBlur stdDeviation="1.2"/></filter>
<filter id="bl5" filterUnits="userSpaceOnUse" x="690" y="1750" width="680" height="520"><feGaussianBlur stdDeviation="5"/></filter>
<filter id="bl10" filterUnits="userSpaceOnUse" x="690" y="1750" width="680" height="520"><feGaussianBlur stdDeviation="17"/></filter>
<filter id="bl20" filterUnits="userSpaceOnUse" x="690" y="1750" width="680" height="520"><feGaussianBlur stdDeviation="22"/></filter>
</defs>
<text x="709.5" y="1697.5" font-size="33" fill="#000" font-weight="bold">g</text>
<text x="938.3" y="1702.4" font-size="29.9"><tspan fill="#E60012">mCherry</tspan><tspan fill="#009944">Ki67</tspan></text>
<rect x="707.8" y="1715.6" width="315.3" height="48.7" fill="#fff" stroke="#231815" stroke-width="4.0"/>
<rect x="1029.2" y="1715.6" width="315.2" height="48.7" fill="#fff" stroke="#231815" stroke-width="4.0"/>
<text x="865.6" y="1747.2" font-size="29.8" fill="#000" text-anchor="middle">Vector</text>
<text x="1187.5" y="1747.2" font-size="29.8" fill="#000" text-anchor="middle">TNP</text>
<clipPath id="cg1"><rect x="708.3" y="1770.4" width="314.6" height="236.4"/></clipPath>
<linearGradient id="gg1" x1="0" y1="0" x2="1" y2="0.5"><stop offset="0" stop-color="#605604"/><stop offset="0.3" stop-color="#524804"/><stop offset="0.65" stop-color="#423804"/><stop offset="1" stop-color="#3C3204"/></linearGradient>
<g clip-path="url(#cg1)">
<g filter="url(#texG)"><rect x="708.30" y="1770.40" width="314.60" height="236.40" fill="url(#gg1)"/></g>
<g filter="url(#texR)"><polygon points="841.0,1765.0 949.2,1765.0 951.2,1813.3 945.4,1865.5 931.8,1929.2 918.3,2012.3 790.8,2012.3 796.6,1958.2 808.2,1900.2 823.6,1832.6" fill="#B81E02" filter="url(#bl5)"/></g>
<ellipse cx="857.5" cy="1822.0" rx="7.7" ry="6.6" fill="#050200" filter="url(#bl1g)"/>
<ellipse cx="808.2" cy="1938.9" rx="7.7" ry="8.5" fill="#050200" filter="url(#bl1g)"/>
<ellipse cx="844.9" cy="1866.4" rx="4.6" ry="4.3" fill="#050200" filter="url(#bl1g)"/>
<ellipse cx="831.4" cy="1977.5" rx="5.4" ry="5.8" fill="#050200" filter="url(#bl1g)"/>
<circle cx="838.6" cy="1899.1" r="1.1" fill="#FFE010"/><circle cx="874.3" cy="1907.7" r="1.3" fill="#D8F010"/><circle cx="841.8" cy="1825.8" r="1.6" fill="#D8F010"/><circle cx="884.4" cy="1900.3" r="1.1" fill="#60F020"/><circle cx="837.7" cy="1806.2" r="1.5" fill="#D8F010"/><circle cx="914.6" cy="1929.1" r="0.9" fill="#FFE010"/><circle cx="809.1" cy="1954.8" r="1.5" fill="#90F018"/><circle cx="874.1" cy="1940.3" r="1.5" fill="#D8F010"/><circle cx="862.3" cy="1959.7" r="1.2" fill="#60F020"/><circle cx="935.4" cy="1793.4" r="0.9" fill="#60F020"/><circle cx="841.6" cy="1929.3" r="1.4" fill="#90F018"/><circle cx="866.3" cy="1967.4" r="1.3" fill="#FFE010"/><circle cx="891.0" cy="1908.5" r="1.5" fill="#30E020"/><circle cx="932.0" cy="2004.7" r="1.3" fill="#60F020"/><circle cx="908.2" cy="1847.6" r="1.2" fill="#FFE010"/><circle cx="888.6" cy="1939.1" r="1.0" fill="#FFE010"/><circle cx="843.0" cy="1799.8" r="1.2" fill="#D8F010"/><circle cx="816.0" cy="1959.7" r="1.1" fill="#60F020"/><circle cx="805.7" cy="1871.4" r="1.1" fill="#30E020"/><circle cx="809.4" cy="1915.7" r="0.8" fill="#FFE010"/><circle cx="852.7" cy="1978.6" r="1.6" fill="#FFE010"/><circle cx="838.3" cy="1778.9" r="0.8" fill="#30E020"/><circle cx="893.2" cy="1777.8" r="1.0" fill="#D8F010"/><circle cx="846.7" cy="1832.7" r="1.4" fill="#90F018"/><circle cx="850.1" cy="1997.0" r="1.5" fill="#D8F010"/><circle cx="859.6" cy="1976.0" r="1.1" fill="#FFE010"/><circle cx="905.5" cy="1794.6" r="1.6" fill="#FFE010"/><circle cx="843.6" cy="1920.3" r="1.4" fill="#90F018"/><circle cx="868.7" cy="1831.4" r="1.0" fill="#90F018"/><circle cx="804.4" cy="1868.6" r="1.3" fill="#30E020"/><circle cx="859.5" cy="1909.7" r="0.9" fill="#90F018"/><circle cx="873.1" cy="1931.0" r="1.1" fill="#90F018"/><circle cx="914.1" cy="1775.6" r="0.8" fill="#30E020"/><circle cx="948.1" cy="1829.8" r="1.2" fill="#FFE010"/><circle cx="893.5" cy="1812.3" r="0.9" fill="#90F018"/><circle cx="930.1" cy="1832.8" r="1.4" fill="#30E020"/><circle cx="919.3" cy="1776.8" r="1.3" fill="#60F020"/><circle cx="849.5" cy="1823.0" r="1.4" fill="#60F020"/><circle cx="852.2" cy="1930.7" r="1.3" fill="#30E020"/><circle cx="818.1" cy="1846.5" r="1.1" fill="#60F020"/><circle cx="868.9" cy="1972.6" r="0.9" fill="#90F018"/><circle cx="914.7" cy="1821.9" r="1.3" fill="#90F018"/><circle cx="836.7" cy="1799.0" r="1.2" fill="#60F020"/><circle cx="850.3" cy="1968.1" r="1.3" fill="#90F018"/><circle cx="854.0" cy="1966.1" r="0.9" fill="#FFE010"/><circle cx="854.8" cy="1801.1" r="1.0" fill="#90F018"/><circle cx="872.9" cy="1920.3" r="1.0" fill="#FFE010"/><circle cx="864.5" cy="1988.0" r="0.9" fill="#30E020"/><circle cx="874.8" cy="1967.2" r="1.3" fill="#FFE010"/><circle cx="868.3" cy="1995.0" r="1.5" fill="#60F020"/>
</g>
<polygon points="899.4,1894.1 926.4,1899.3 919.5,1912.2" fill="#fff"/>
<polygon points="809.8,1974.5 821.0,1968.2 823.1,1971.9 833.7,1957.2 815.6,1958.9 817.7,1962.6 806.6,1968.9" fill="#fff"/>
<rect x="992.70" y="1997.40" width="23.20" height="4.40" fill="#fff"/>
<clipPath id="cg2"><rect x="1029.1" y="1770.4" width="314.6" height="236.4"/></clipPath>
<g clip-path="url(#cg2)">
<g filter="url(#texG)"><rect x="1029.10" y="1770.40" width="314.60" height="236.40" fill="#1E300C"/></g>
<g filter="url(#texR)"><polygon points="1078.0,1726.4 1313.7,1726.4 1304.0,1842.3 1290.5,1919.6 1286.6,2054.8 1097.3,2054.8 1083.8,1938.9 1074.1,1851.9" fill="#C82802" filter="url(#bl10)"/></g>
<circle cx="1068.9" cy="1878.4" r="1.6" fill="#FFE010"/><circle cx="1309.1" cy="1899.0" r="1.8" fill="#30E020"/><circle cx="1281.9" cy="1999.9" r="0.9" fill="#60F020"/><circle cx="1072.2" cy="1984.0" r="1.6" fill="#60F020"/><circle cx="1291.8" cy="1983.1" r="1.4" fill="#30E020"/><circle cx="1184.7" cy="1799.0" r="1.4" fill="#60F020"/><circle cx="1231.6" cy="1894.5" r="1.3" fill="#FFE010"/><circle cx="1089.9" cy="1800.0" r="1.9" fill="#FFE010"/><circle cx="1183.7" cy="1955.3" r="1.2" fill="#60F020"/><circle cx="1092.1" cy="1980.2" r="0.9" fill="#60F020"/><circle cx="1264.8" cy="1988.3" r="1.7" fill="#30E020"/><circle cx="1186.3" cy="1905.4" r="1.2" fill="#90F018"/><circle cx="1124.6" cy="1916.5" r="1.4" fill="#30E020"/><circle cx="1182.6" cy="1954.0" r="0.8" fill="#30E020"/><circle cx="1260.6" cy="1781.3" r="0.9" fill="#D8F010"/><circle cx="1312.0" cy="1972.4" r="0.9" fill="#FFE010"/><circle cx="1187.0" cy="1807.5" r="0.9" fill="#D8F010"/><circle cx="1227.4" cy="1909.1" r="1.2" fill="#60F020"/><circle cx="1315.4" cy="1871.7" r="0.9" fill="#30E020"/><circle cx="1245.3" cy="1860.3" r="0.9" fill="#60F020"/><circle cx="1071.6" cy="1879.3" r="1.5" fill="#FFE010"/><circle cx="1158.7" cy="1959.8" r="1.5" fill="#D8F010"/><circle cx="1074.2" cy="1918.7" r="1.6" fill="#90F018"/><circle cx="1169.0" cy="1934.5" r="1.3" fill="#60F020"/><circle cx="1117.0" cy="1834.2" r="1.4" fill="#D8F010"/><circle cx="1118.5" cy="1801.2" r="0.8" fill="#90F018"/><circle cx="1157.1" cy="1982.7" r="1.7" fill="#90F018"/><circle cx="1091.9" cy="1933.6" r="1.8" fill="#FFE010"/><circle cx="1265.0" cy="1928.2" r="1.6" fill="#FFE010"/><circle cx="1197.8" cy="1962.3" r="1.6" fill="#D8F010"/><circle cx="1097.6" cy="1953.4" r="0.8" fill="#30E020"/><circle cx="1206.1" cy="1926.2" r="1.2" fill="#30E020"/><circle cx="1148.7" cy="1971.9" r="0.8" fill="#30E020"/><circle cx="1234.3" cy="1968.1" r="1.8" fill="#FFE010"/><circle cx="1137.8" cy="1791.4" r="1.9" fill="#FFE010"/><circle cx="1192.5" cy="1939.5" r="0.9" fill="#30E020"/><circle cx="1301.7" cy="1784.9" r="1.2" fill="#FFE010"/><circle cx="1107.1" cy="1788.7" r="1.9" fill="#60F020"/><circle cx="1177.7" cy="1935.9" r="1.8" fill="#90F018"/><circle cx="1155.4" cy="1864.2" r="1.2" fill="#D8F010"/><circle cx="1309.8" cy="1859.1" r="1.1" fill="#D8F010"/><circle cx="1278.2" cy="1999.0" r="1.3" fill="#FFE010"/><circle cx="1255.6" cy="1929.7" r="1.4" fill="#D8F010"/><circle cx="1100.8" cy="1865.2" r="1.8" fill="#60F020"/><circle cx="1085.3" cy="1947.3" r="1.8" fill="#FFE010"/><circle cx="1305.8" cy="1909.0" r="1.7" fill="#60F020"/><circle cx="1129.5" cy="1817.5" r="1.4" fill="#90F018"/><circle cx="1301.7" cy="1971.7" r="1.4" fill="#90F018"/><circle cx="1233.8" cy="1972.6" r="1.5" fill="#FFE010"/><circle cx="1211.4" cy="1833.6" r="1.0" fill="#30E020"/><circle cx="1129.7" cy="1960.5" r="1.0" fill="#FFE010"/><circle cx="1153.6" cy="1846.5" r="1.7" fill="#60F020"/><circle cx="1168.5" cy="1935.3" r="1.6" fill="#60F020"/><circle cx="1181.3" cy="1967.7" r="1.7" fill="#FFE010"/><circle cx="1067.7" cy="2005.1" r="0.9" fill="#D8F010"/><circle cx="1262.6" cy="1978.9" r="0.9" fill="#60F020"/><circle cx="1290.4" cy="1923.6" r="1.7" fill="#30E020"/><circle cx="1307.9" cy="1972.3" r="1.1" fill="#60F020"/><circle cx="1260.7" cy="1802.9" r="1.5" fill="#30E020"/><circle cx="1292.7" cy="1830.7" r="1.8" fill="#90F018"/><circle cx="1107.8" cy="1791.9" r="1.7" fill="#30E020"/><circle cx="1084.5" cy="1967.5" r="1.1" fill="#90F018"/><circle cx="1177.3" cy="1943.9" r="1.2" fill="#30E020"/><circle cx="1146.9" cy="1873.5" r="1.3" fill="#60F020"/><circle cx="1226.8" cy="1945.9" r="1.3" fill="#60F020"/><circle cx="1201.0" cy="1798.6" r="1.1" fill="#D8F010"/><circle cx="1089.6" cy="1980.1" r="1.8" fill="#30E020"/><circle cx="1196.7" cy="1936.0" r="1.5" fill="#90F018"/><circle cx="1255.9" cy="1840.3" r="1.5" fill="#90F018"/><circle cx="1088.2" cy="1993.7" r="1.2" fill="#FFE010"/><circle cx="1198.9" cy="1797.2" r="1.3" fill="#90F018"/><circle cx="1075.9" cy="1840.0" r="1.6" fill="#60F020"/><circle cx="1227.2" cy="1943.0" r="1.0" fill="#90F018"/><circle cx="1290.1" cy="1925.3" r="0.9" fill="#FFE010"/><circle cx="1097.0" cy="1848.8" r="1.6" fill="#FFE010"/><circle cx="1168.9" cy="1841.5" r="1.0" fill="#D8F010"/><circle cx="1141.2" cy="1812.1" r="0.9" fill="#60F020"/><circle cx="1255.2" cy="1898.8" r="1.6" fill="#90F018"/><circle cx="1086.3" cy="1834.4" r="0.9" fill="#60F020"/><circle cx="1071.4" cy="1889.7" r="1.1" fill="#FFE010"/><circle cx="1151.9" cy="1849.1" r="1.2" fill="#FFE010"/><circle cx="1269.3" cy="1786.8" r="1.3" fill="#30E020"/><circle cx="1099.7" cy="1909.9" r="1.5" fill="#FFE010"/><circle cx="1261.5" cy="1942.3" r="1.0" fill="#60F020"/><circle cx="1206.9" cy="1928.8" r="1.2" fill="#60F020"/><circle cx="1213.3" cy="1805.0" r="1.2" fill="#60F020"/><circle cx="1201.1" cy="1810.7" r="1.0" fill="#90F018"/><circle cx="1155.9" cy="1839.7" r="1.7" fill="#D8F010"/><circle cx="1290.5" cy="1994.8" r="1.2" fill="#FFE010"/><circle cx="1294.3" cy="1843.6" r="1.3" fill="#FFE010"/><circle cx="1237.7" cy="1841.2" r="1.7" fill="#D8F010"/><circle cx="1068.3" cy="1815.4" r="1.5" fill="#30E020"/><circle cx="1259.3" cy="1926.9" r="1.3" fill="#FFE010"/><circle cx="1221.8" cy="1817.4" r="1.7" fill="#60F020"/><circle cx="1070.1" cy="1888.7" r="1.5" fill="#D8F010"/><circle cx="1089.3" cy="1837.4" r="1.5" fill="#60F020"/><circle cx="1095.5" cy="1957.7" r="1.5" fill="#30E020"/><circle cx="1067.1" cy="1916.6" r="1.4" fill="#D8F010"/><circle cx="1199.6" cy="1990.2" r="1.2" fill="#90F018"/><circle cx="1239.8" cy="1802.2" r="1.7" fill="#FFE010"/><circle cx="1260.6" cy="1778.4" r="0.9" fill="#90F018"/><circle cx="1318.0" cy="1818.9" r="0.9" fill="#60F020"/><circle cx="1173.3" cy="1949.3" r="1.3" fill="#30E020"/><circle cx="1263.6" cy="1867.0" r="1.7" fill="#60F020"/><circle cx="1161.6" cy="1882.3" r="0.9" fill="#D8F010"/><circle cx="1114.3" cy="1886.0" r="0.8" fill="#D8F010"/><circle cx="1255.9" cy="1865.3" r="1.0" fill="#30E020"/><circle cx="1246.2" cy="1857.1" r="1.2" fill="#FFE010"/><circle cx="1153.8" cy="1865.4" r="1.9" fill="#60F020"/><circle cx="1127.3" cy="1857.8" r="1.7" fill="#FFE010"/><circle cx="1110.9" cy="1819.9" r="1.0" fill="#D8F010"/><circle cx="1190.5" cy="1920.9" r="1.0" fill="#FFE010"/><circle cx="1104.0" cy="1886.3" r="0.9" fill="#30E020"/><circle cx="1164.6" cy="1845.5" r="0.8" fill="#30E020"/><circle cx="1122.3" cy="1779.7" r="1.3" fill="#60F020"/><circle cx="1122.9" cy="1862.4" r="1.0" fill="#90F018"/><circle cx="1221.1" cy="1852.3" r="0.9" fill="#30E020"/><circle cx="1268.9" cy="1839.1" r="1.9" fill="#D8F010"/><circle cx="1264.2" cy="1997.7" r="1.3" fill="#FFE010"/><circle cx="1129.1" cy="1963.0" r="1.5" fill="#90F018"/><circle cx="1142.3" cy="1783.8" r="1.3" fill="#30E020"/><circle cx="1213.3" cy="1771.3" r="0.8" fill="#30E020"/><circle cx="1065.5" cy="1889.3" r="1.3" fill="#60F020"/><circle cx="1229.4" cy="1983.2" r="1.0" fill="#D8F010"/><circle cx="1148.3" cy="1883.5" r="1.2" fill="#30E020"/><circle cx="1159.2" cy="1948.1" r="1.5" fill="#D8F010"/><circle cx="1083.2" cy="1839.8" r="1.7" fill="#30E020"/><circle cx="1191.5" cy="1899.8" r="1.4" fill="#D8F010"/><circle cx="1105.6" cy="1945.3" r="1.6" fill="#FFE010"/><circle cx="1153.2" cy="1813.9" r="1.7" fill="#D8F010"/><circle cx="1119.7" cy="1954.7" r="1.3" fill="#90F018"/><circle cx="1272.3" cy="1890.3" r="1.6" fill="#D8F010"/><circle cx="1305.5" cy="1780.5" r="1.0" fill="#30E020"/><circle cx="1272.8" cy="1792.1" r="1.6" fill="#30E020"/><circle cx="1143.1" cy="1912.4" r="1.7" fill="#30E020"/><circle cx="1287.2" cy="1976.6" r="1.3" fill="#90F018"/><circle cx="1317.7" cy="1770.8" r="1.0" fill="#30E020"/><circle cx="1147.9" cy="1844.0" r="1.3" fill="#60F020"/><circle cx="1122.7" cy="1781.9" r="1.0" fill="#60F020"/><circle cx="1211.6" cy="1773.2" r="1.1" fill="#60F020"/><circle cx="1117.3" cy="1903.4" r="1.3" fill="#FFE010"/><circle cx="1142.8" cy="1979.1" r="1.7" fill="#D8F010"/><circle cx="1106.4" cy="1789.1" r="1.7" fill="#30E020"/><circle cx="1214.9" cy="1973.4" r="0.9" fill="#90F018"/><circle cx="1082.7" cy="1880.4" r="1.0" fill="#FFE010"/><circle cx="1088.6" cy="1885.2" r="1.5" fill="#90F018"/><circle cx="1164.5" cy="1926.7" r="1.7" fill="#90F018"/><circle cx="1276.1" cy="1910.9" r="1.7" fill="#60F020"/><circle cx="1090.7" cy="1772.2" r="1.1" fill="#30E020"/><circle cx="1148.7" cy="1815.8" r="1.6" fill="#FFE010"/><circle cx="1237.6" cy="1856.6" r="1.7" fill="#30E020"/><circle cx="1216.9" cy="1821.0" r="1.2" fill="#30E020"/><circle cx="1147.0" cy="1872.2" r="0.9" fill="#60F020"/><circle cx="1143.9" cy="1947.6" r="1.0" fill="#60F020"/><circle cx="1286.2" cy="2003.6" r="1.5" fill="#FFE010"/><circle cx="1280.5" cy="1857.3" r="1.0" fill="#FFE010"/><circle cx="1305.5" cy="1884.9" r="1.7" fill="#D8F010"/><circle cx="1181.7" cy="1909.3" r="0.8" fill="#30E020"/><circle cx="1108.2" cy="1793.1" r="1.6" fill="#90F018"/><circle cx="1190.5" cy="1784.9" r="1.3" fill="#60F020"/><circle cx="1252.8" cy="1835.6" r="1.3" fill="#90F018"/><circle cx="1181.3" cy="1816.9" r="1.7" fill="#60F020"/><circle cx="1087.2" cy="1841.2" r="1.3" fill="#30E020"/><circle cx="1113.6" cy="1885.6" r="1.7" fill="#90F018"/><circle cx="1312.4" cy="2002.0" r="1.8" fill="#90F018"/><circle cx="1303.8" cy="1872.4" r="1.8" fill="#D8F010"/><circle cx="1196.2" cy="1898.5" r="1.2" fill="#90F018"/><circle cx="1134.1" cy="1879.9" r="1.8" fill="#90F018"/><circle cx="1253.4" cy="1990.3" r="1.4" fill="#30E020"/><circle cx="1094.5" cy="1895.9" r="1.4" fill="#60F020"/>
</g>
<polygon points="1253.8,1863.0 1243.6,1857.3 1245.7,1853.6 1227.7,1851.9 1238.3,1866.6 1240.4,1862.9 1250.6,1868.7" fill="#fff"/>
<rect x="1315.60" y="1997.40" width="23.20" height="4.40" fill="#fff"/>
<clipPath id="cg3"><rect x="708.3" y="2013.3" width="314.6" height="236.70000000000002"/></clipPath>
<linearGradient id="gg3" x1="0" y1="0" x2="1" y2="0"><stop offset="0" stop-color="#021C03"/><stop offset="0.45" stop-color="#032405"/><stop offset="0.7" stop-color="#082C07"/><stop offset="1" stop-color="#0C3408"/></linearGradient>
<g clip-path="url(#cg3)">
<g filter="url(#texG)"><rect x="708.30" y="2013.30" width="314.60" height="236.70" fill="url(#gg3)"/></g>
<g filter="url(#texR)"><polygon points="850.7,2005.0 904.8,2005.0 908.7,2063.0 922.2,2120.9 928.0,2178.9 939.6,2256.2 841.0,2256.2 827.5,2217.5 819.8,2159.6 831.4,2091.9 841.0,2043.6" fill="#DA1E02" filter="url(#bl5)"/></g>
<circle cx="938.0" cy="2013.8" r="1.4" fill="#FFD010"/><circle cx="863.1" cy="2241.6" r="1.0" fill="#30E020"/><circle cx="822.8" cy="2057.0" r="0.7" fill="#FFD010"/><circle cx="932.2" cy="2210.8" r="1.1" fill="#C8E010"/><circle cx="875.0" cy="2075.2" r="1.2" fill="#FFD010"/><circle cx="871.0" cy="2074.8" r="0.7" fill="#FFD010"/><circle cx="823.1" cy="2248.7" r="0.8" fill="#30E020"/><circle cx="849.5" cy="2045.4" r="1.2" fill="#FFD010"/><circle cx="882.4" cy="2209.7" r="1.1" fill="#FFD010"/><circle cx="820.5" cy="2024.0" r="1.0" fill="#C8E010"/><circle cx="931.3" cy="2227.5" r="1.0" fill="#30E020"/><circle cx="913.4" cy="2216.7" r="1.4" fill="#30E020"/><circle cx="870.6" cy="2135.9" r="0.8" fill="#C8E010"/><circle cx="827.7" cy="2046.3" r="1.3" fill="#C8E010"/><circle cx="869.8" cy="2096.5" r="1.0" fill="#FFD010"/><circle cx="875.4" cy="2240.1" r="0.8" fill="#FFD010"/><circle cx="836.0" cy="2022.2" r="1.0" fill="#C8E010"/><circle cx="922.6" cy="2233.5" r="1.1" fill="#C8E010"/><circle cx="858.2" cy="2154.6" r="0.8" fill="#C8E010"/><circle cx="853.6" cy="2181.0" r="1.3" fill="#C8E010"/><circle cx="873.2" cy="2031.2" r="0.7" fill="#FFD010"/><circle cx="931.1" cy="2240.3" r="1.2" fill="#C8E010"/><circle cx="857.6" cy="2095.0" r="1.2" fill="#FFD010"/><circle cx="858.2" cy="2077.3" r="1.4" fill="#FFD010"/><circle cx="858.4" cy="2106.1" r="0.9" fill="#C8E010"/><circle cx="870.9" cy="2111.0" r="1.3" fill="#FFD010"/><circle cx="847.3" cy="2060.6" r="0.8" fill="#30E020"/><circle cx="832.9" cy="2162.8" r="0.8" fill="#C8E010"/><circle cx="937.0" cy="2243.6" r="1.2" fill="#FFD010"/><circle cx="852.1" cy="2127.4" r="0.9" fill="#30E020"/>
</g>
<polygon points="878.7,2151.3 905.2,2157.2 898.4,2169.6" fill="#fff"/>
<polygon points="825.3,2185.6 836.4,2179.2 838.5,2182.9 849.1,2168.3 831.1,2169.9 833.2,2173.6 822.0,2179.9" fill="#fff"/>
<rect x="992.70" y="2240.30" width="23.20" height="4.40" fill="#fff"/>
<clipPath id="cg4"><rect x="1029.1" y="2013.3" width="314.6" height="236.70000000000002"/></clipPath>
<g clip-path="url(#cg4)">
<g filter="url(#texG)"><rect x="1029.10" y="2013.30" width="314.60" height="236.70" fill="#223A0C"/></g>
<g filter="url(#texR)"><polygon points="1070.2,1985.7 1348.4,1985.7 1300.1,2034.0 1277.0,2101.6 1290.5,2178.9 1329.1,2275.5 1000.7,2275.5 1000.7,2072.6" fill="#CC3602" filter="url(#bl20)"/><ellipse cx="1213.2" cy="2188.5" rx="70" ry="50" fill="#F06808" opacity="0.6" filter="url(#bl20)"/></g>
<circle cx="1205.1" cy="2054.6" r="1.4" fill="#60F020"/><circle cx="1074.5" cy="2227.4" r="1.0" fill="#D8F010"/><circle cx="1241.3" cy="2166.2" r="1.0" fill="#30E020"/><circle cx="1085.8" cy="2161.4" r="1.2" fill="#60F020"/><circle cx="1304.3" cy="2024.8" r="2.0" fill="#FFE010"/><circle cx="1096.5" cy="2197.4" r="1.3" fill="#60F020"/><circle cx="1339.8" cy="2079.7" r="1.0" fill="#60F020"/><circle cx="1121.9" cy="2104.0" r="1.9" fill="#FFE010"/><circle cx="1053.3" cy="2058.7" r="1.9" fill="#60F020"/><circle cx="1337.4" cy="2071.4" r="1.2" fill="#D8F010"/><circle cx="1061.8" cy="2213.5" r="1.4" fill="#90F018"/><circle cx="1196.1" cy="2215.2" r="1.3" fill="#D8F010"/><circle cx="1175.1" cy="2140.5" r="1.3" fill="#FFE010"/><circle cx="1172.6" cy="2104.1" r="1.7" fill="#90F018"/><circle cx="1322.6" cy="2213.8" r="1.0" fill="#60F020"/><circle cx="1128.8" cy="2211.9" r="1.0" fill="#FFE010"/><circle cx="1336.9" cy="2110.1" r="1.8" fill="#30E020"/><circle cx="1209.5" cy="2050.6" r="0.9" fill="#D8F010"/><circle cx="1341.0" cy="2175.3" r="1.4" fill="#90F018"/><circle cx="1058.2" cy="2141.0" r="1.3" fill="#60F020"/><circle cx="1214.9" cy="2065.0" r="1.3" fill="#FFE010"/><circle cx="1146.6" cy="2088.5" r="1.2" fill="#FFE010"/><circle cx="1271.7" cy="2184.3" r="1.2" fill="#90F018"/><circle cx="1119.3" cy="2244.2" r="1.1" fill="#30E020"/><circle cx="1218.5" cy="2065.6" r="2.0" fill="#60F020"/><circle cx="1117.9" cy="2241.9" r="1.3" fill="#D8F010"/><circle cx="1134.3" cy="2199.7" r="1.0" fill="#FFE010"/><circle cx="1195.4" cy="2117.7" r="1.5" fill="#30E020"/><circle cx="1160.4" cy="2143.3" r="1.5" fill="#90F018"/><circle cx="1047.8" cy="2215.3" r="1.3" fill="#30E020"/><circle cx="1144.4" cy="2064.0" r="1.5" fill="#30E020"/><circle cx="1164.7" cy="2218.4" r="1.7" fill="#90F018"/><circle cx="1032.8" cy="2101.3" r="1.2" fill="#D8F010"/><circle cx="1146.3" cy="2167.4" r="1.9" fill="#FFE010"/><circle cx="1184.9" cy="2089.7" r="0.8" fill="#30E020"/><circle cx="1222.5" cy="2046.3" r="0.9" fill="#90F018"/><circle cx="1166.0" cy="2059.8" r="0.8" fill="#90F018"/><circle cx="1197.2" cy="2187.6" r="1.8" fill="#60F020"/><circle cx="1168.0" cy="2174.6" r="0.9" fill="#D8F010"/><circle cx="1099.8" cy="2046.1" r="1.2" fill="#FFE010"/><circle cx="1088.8" cy="2208.0" r="1.5" fill="#30E020"/><circle cx="1164.6" cy="2201.5" r="1.3" fill="#D8F010"/><circle cx="1291.0" cy="2056.7" r="1.1" fill="#D8F010"/><circle cx="1093.2" cy="2163.6" r="1.5" fill="#90F018"/><circle cx="1166.3" cy="2036.2" r="2.0" fill="#30E020"/><circle cx="1049.4" cy="2220.7" r="1.7" fill="#90F018"/><circle cx="1049.9" cy="2015.5" r="1.4" fill="#D8F010"/><circle cx="1227.7" cy="2035.6" r="1.6" fill="#D8F010"/><circle cx="1306.4" cy="2066.7" r="1.2" fill="#D8F010"/><circle cx="1330.5" cy="2025.6" r="1.4" fill="#FFE010"/><circle cx="1193.9" cy="2149.0" r="0.9" fill="#60F020"/><circle cx="1287.3" cy="2208.2" r="1.9" fill="#D8F010"/><circle cx="1118.6" cy="2245.5" r="1.6" fill="#FFE010"/><circle cx="1100.4" cy="2148.8" r="1.2" fill="#FFE010"/><circle cx="1070.9" cy="2139.0" r="1.5" fill="#90F018"/><circle cx="1128.2" cy="2216.6" r="1.5" fill="#FFE010"/><circle cx="1093.1" cy="2027.5" r="1.3" fill="#90F018"/><circle cx="1227.2" cy="2130.0" r="1.8" fill="#60F020"/><circle cx="1287.9" cy="2235.0" r="0.9" fill="#FFE010"/><circle cx="1154.0" cy="2063.4" r="1.0" fill="#30E020"/><circle cx="1132.0" cy="2071.7" r="1.9" fill="#30E020"/><circle cx="1103.6" cy="2100.0" r="1.1" fill="#90F018"/><circle cx="1108.0" cy="2075.6" r="1.6" fill="#90F018"/><circle cx="1259.5" cy="2062.4" r="1.2" fill="#60F020"/><circle cx="1206.8" cy="2071.3" r="1.6" fill="#60F020"/><circle cx="1284.2" cy="2099.5" r="1.1" fill="#FFE010"/><circle cx="1153.1" cy="2140.8" r="1.5" fill="#90F018"/><circle cx="1168.3" cy="2026.5" r="1.7" fill="#D8F010"/><circle cx="1183.3" cy="2150.2" r="1.1" fill="#D8F010"/><circle cx="1244.8" cy="2065.8" r="1.8" fill="#D8F010"/><circle cx="1137.9" cy="2248.6" r="1.4" fill="#60F020"/><circle cx="1065.2" cy="2112.4" r="1.8" fill="#60F020"/><circle cx="1212.7" cy="2038.7" r="1.4" fill="#90F018"/><circle cx="1179.4" cy="2140.8" r="1.8" fill="#D8F010"/><circle cx="1147.0" cy="2023.2" r="1.2" fill="#60F020"/><circle cx="1225.2" cy="2179.3" r="2.0" fill="#FFE010"/><circle cx="1124.3" cy="2224.2" r="1.9" fill="#FFE010"/><circle cx="1130.9" cy="2110.3" r="1.9" fill="#90F018"/><circle cx="1319.7" cy="2113.3" r="1.5" fill="#90F018"/><circle cx="1162.1" cy="2100.8" r="1.0" fill="#90F018"/><circle cx="1248.6" cy="2146.3" r="1.3" fill="#30E020"/><circle cx="1131.0" cy="2051.6" r="1.9" fill="#D8F010"/><circle cx="1083.4" cy="2106.5" r="1.0" fill="#D8F010"/><circle cx="1203.0" cy="2099.8" r="1.7" fill="#FFE010"/><circle cx="1180.8" cy="2060.9" r="1.4" fill="#60F020"/><circle cx="1066.6" cy="2143.8" r="0.9" fill="#D8F010"/><circle cx="1302.3" cy="2135.2" r="1.3" fill="#30E020"/><circle cx="1179.9" cy="2175.0" r="1.1" fill="#90F018"/><circle cx="1066.0" cy="2237.4" r="1.4" fill="#D8F010"/><circle cx="1075.5" cy="2100.6" r="1.6" fill="#90F018"/><circle cx="1208.8" cy="2134.0" r="1.0" fill="#60F020"/><circle cx="1106.8" cy="2074.4" r="1.2" fill="#90F018"/><circle cx="1313.2" cy="2036.6" r="1.6" fill="#30E020"/><circle cx="1100.0" cy="2121.3" r="2.0" fill="#90F018"/><circle cx="1289.7" cy="2046.8" r="0.9" fill="#D8F010"/><circle cx="1113.9" cy="2133.6" r="1.2" fill="#D8F010"/><circle cx="1263.4" cy="2132.5" r="1.6" fill="#D8F010"/><circle cx="1336.8" cy="2114.9" r="1.2" fill="#90F018"/><circle cx="1213.3" cy="2105.0" r="0.9" fill="#60F020"/><circle cx="1164.8" cy="2013.6" r="1.7" fill="#60F020"/><circle cx="1187.9" cy="2238.6" r="1.8" fill="#90F018"/><circle cx="1110.0" cy="2161.8" r="1.5" fill="#90F018"/><circle cx="1092.9" cy="2050.8" r="2.0" fill="#30E020"/><circle cx="1181.6" cy="2187.9" r="1.0" fill="#FFE010"/><circle cx="1135.1" cy="2206.0" r="1.7" fill="#90F018"/><circle cx="1072.1" cy="2161.0" r="1.9" fill="#60F020"/><circle cx="1059.1" cy="2178.3" r="1.6" fill="#FFE010"/><circle cx="1152.0" cy="2121.0" r="2.0" fill="#FFE010"/><circle cx="1168.4" cy="2054.9" r="1.8" fill="#30E020"/><circle cx="1117.7" cy="2178.5" r="1.0" fill="#30E020"/><circle cx="1135.0" cy="2185.0" r="1.8" fill="#90F018"/><circle cx="1061.1" cy="2202.9" r="1.3" fill="#FFE010"/><circle cx="1169.1" cy="2171.1" r="1.2" fill="#60F020"/><circle cx="1167.9" cy="2069.2" r="0.8" fill="#60F020"/><circle cx="1101.4" cy="2111.6" r="0.9" fill="#90F018"/><circle cx="1337.8" cy="2040.4" r="1.6" fill="#60F020"/><circle cx="1120.3" cy="2019.2" r="0.8" fill="#90F018"/><circle cx="1099.4" cy="2120.7" r="1.4" fill="#FFE010"/><circle cx="1149.1" cy="2225.6" r="1.1" fill="#FFE010"/><circle cx="1163.3" cy="2086.2" r="0.9" fill="#D8F010"/><circle cx="1186.4" cy="2036.9" r="1.9" fill="#FFE010"/><circle cx="1324.4" cy="2048.3" r="1.4" fill="#90F018"/><circle cx="1343.6" cy="2053.1" r="1.2" fill="#90F018"/><circle cx="1067.5" cy="2131.4" r="1.4" fill="#60F020"/><circle cx="1262.0" cy="2195.3" r="0.8" fill="#30E020"/><circle cx="1178.1" cy="2014.4" r="1.7" fill="#D8F010"/><circle cx="1314.0" cy="2024.6" r="1.6" fill="#90F018"/><circle cx="1286.0" cy="2129.5" r="1.7" fill="#60F020"/><circle cx="1126.3" cy="2146.4" r="1.3" fill="#30E020"/><circle cx="1064.9" cy="2174.3" r="1.1" fill="#60F020"/><circle cx="1263.4" cy="2138.8" r="1.7" fill="#FFE010"/><circle cx="1072.8" cy="2052.2" r="2.0" fill="#90F018"/><circle cx="1190.3" cy="2240.8" r="0.8" fill="#30E020"/><circle cx="1143.1" cy="2131.4" r="0.9" fill="#90F018"/><circle cx="1205.4" cy="2105.7" r="1.4" fill="#FFE010"/><circle cx="1324.2" cy="2089.6" r="1.4" fill="#90F018"/><circle cx="1276.6" cy="2190.1" r="1.0" fill="#30E020"/><circle cx="1233.8" cy="2189.1" r="1.9" fill="#D8F010"/><circle cx="1266.1" cy="2183.4" r="1.5" fill="#60F020"/><circle cx="1343.1" cy="2024.8" r="1.3" fill="#D8F010"/><circle cx="1086.2" cy="2036.5" r="1.0" fill="#FFE010"/><circle cx="1171.4" cy="2115.3" r="1.3" fill="#FFE010"/><circle cx="1136.1" cy="2115.2" r="0.8" fill="#D8F010"/><circle cx="1143.5" cy="2184.8" r="1.1" fill="#60F020"/><circle cx="1072.5" cy="2221.1" r="1.7" fill="#30E020"/><circle cx="1231.1" cy="2185.3" r="0.9" fill="#D8F010"/><circle cx="1179.6" cy="2102.8" r="1.4" fill="#D8F010"/><circle cx="1221.9" cy="2125.4" r="0.9" fill="#FFE010"/><circle cx="1254.1" cy="2229.6" r="1.0" fill="#30E020"/><circle cx="1337.3" cy="2045.9" r="1.7" fill="#30E020"/><circle cx="1067.5" cy="2153.9" r="1.9" fill="#90F018"/><circle cx="1201.9" cy="2043.7" r="1.3" fill="#60F020"/><circle cx="1078.7" cy="2176.5" r="1.6" fill="#D8F010"/><circle cx="1128.4" cy="2118.0" r="1.9" fill="#90F018"/><circle cx="1202.1" cy="2152.9" r="1.2" fill="#FFE010"/><circle cx="1150.4" cy="2244.0" r="1.1" fill="#30E020"/><circle cx="1094.2" cy="2105.4" r="1.8" fill="#90F018"/><circle cx="1101.3" cy="2226.3" r="1.2" fill="#90F018"/><circle cx="1272.6" cy="2210.2" r="1.0" fill="#D8F010"/><circle cx="1029.6" cy="2165.7" r="1.8" fill="#60F020"/><circle cx="1322.9" cy="2191.3" r="1.8" fill="#30E020"/><circle cx="1278.0" cy="2094.6" r="1.1" fill="#90F018"/><circle cx="1333.8" cy="2227.3" r="1.9" fill="#FFE010"/><circle cx="1274.9" cy="2120.7" r="1.1" fill="#FFE010"/><circle cx="1313.7" cy="2076.1" r="1.1" fill="#FFE010"/><circle cx="1092.2" cy="2231.4" r="1.2" fill="#30E020"/><circle cx="1062.7" cy="2225.7" r="1.3" fill="#90F018"/><circle cx="1279.2" cy="2197.4" r="1.1" fill="#30E020"/><circle cx="1220.3" cy="2042.2" r="1.0" fill="#90F018"/><circle cx="1137.2" cy="2053.4" r="1.2" fill="#30E020"/><circle cx="1274.2" cy="2156.9" r="0.9" fill="#90F018"/><circle cx="1204.0" cy="2018.0" r="1.3" fill="#D8F010"/><circle cx="1343.1" cy="2053.1" r="0.8" fill="#60F020"/><circle cx="1145.3" cy="2215.2" r="1.1" fill="#FFE010"/><circle cx="1091.3" cy="2122.2" r="1.4" fill="#90F018"/><circle cx="1259.3" cy="2234.1" r="1.2" fill="#FFE010"/><circle cx="1185.1" cy="2120.1" r="1.4" fill="#90F018"/><circle cx="1087.7" cy="2245.3" r="0.9" fill="#60F020"/><circle cx="1084.2" cy="2201.3" r="1.1" fill="#30E020"/><circle cx="1143.2" cy="2014.3" r="1.1" fill="#90F018"/><circle cx="1305.0" cy="2244.9" r="0.9" fill="#D8F010"/><circle cx="1081.0" cy="2164.8" r="1.4" fill="#90F018"/><circle cx="1263.2" cy="2201.4" r="2.0" fill="#D8F010"/><circle cx="1304.4" cy="2143.0" r="0.9" fill="#30E020"/><circle cx="1238.5" cy="2061.0" r="0.9" fill="#30E020"/><circle cx="1237.5" cy="2020.1" r="1.1" fill="#D8F010"/><circle cx="1040.9" cy="2134.0" r="1.9" fill="#60F020"/><circle cx="1131.7" cy="2118.5" r="2.0" fill="#90F018"/><circle cx="1270.2" cy="2178.4" r="0.8" fill="#60F020"/><circle cx="1250.0" cy="2166.0" r="0.8" fill="#FFE010"/><circle cx="1166.0" cy="2179.1" r="1.2" fill="#FFE010"/><circle cx="1193.3" cy="2171.5" r="1.0" fill="#90F018"/><circle cx="1299.5" cy="2079.8" r="1.1" fill="#60F020"/><circle cx="1200.5" cy="2092.2" r="1.8" fill="#60F020"/><circle cx="1192.8" cy="2178.4" r="1.2" fill="#90F018"/><circle cx="1137.6" cy="2190.8" r="1.0" fill="#90F018"/><circle cx="1052.3" cy="2232.7" r="1.7" fill="#FFE010"/><circle cx="1172.4" cy="2241.6" r="1.4" fill="#60F020"/><circle cx="1319.0" cy="2161.3" r="0.8" fill="#90F018"/><circle cx="1167.7" cy="2026.2" r="1.6" fill="#FFE010"/><circle cx="1236.8" cy="2155.6" r="1.5" fill="#D8F010"/><circle cx="1197.4" cy="2189.3" r="1.7" fill="#60F020"/><circle cx="1295.7" cy="2249.3" r="0.9" fill="#30E020"/><circle cx="1284.9" cy="2198.4" r="1.3" fill="#60F020"/><circle cx="1092.8" cy="2075.3" r="1.0" fill="#FFE010"/><circle cx="1314.5" cy="2075.2" r="2.0" fill="#60F020"/><circle cx="1225.8" cy="2069.5" r="1.6" fill="#30E020"/><circle cx="1120.2" cy="2169.3" r="1.8" fill="#30E020"/><circle cx="1029.6" cy="2117.2" r="1.4" fill="#30E020"/><circle cx="1316.1" cy="2163.8" r="1.7" fill="#60F020"/><circle cx="1225.8" cy="2151.5" r="1.4" fill="#FFE010"/><circle cx="1178.9" cy="2070.2" r="1.0" fill="#30E020"/><circle cx="1143.5" cy="2140.2" r="1.2" fill="#30E020"/><circle cx="1085.4" cy="2125.3" r="1.2" fill="#60F020"/><circle cx="1297.0" cy="2150.6" r="1.1" fill="#FFE010"/><circle cx="1228.7" cy="2028.0" r="1.7" fill="#60F020"/><circle cx="1242.7" cy="2088.7" r="1.5" fill="#FFE010"/><circle cx="1107.5" cy="2217.1" r="1.8" fill="#FFE010"/><circle cx="1147.6" cy="2120.7" r="1.6" fill="#D8F010"/><circle cx="1047.3" cy="2231.0" r="1.8" fill="#FFE010"/><circle cx="1054.5" cy="2230.4" r="1.3" fill="#90F018"/><circle cx="1067.9" cy="2055.9" r="1.8" fill="#30E020"/><circle cx="1157.2" cy="2023.7" r="1.6" fill="#D8F010"/><circle cx="1268.1" cy="2175.7" r="1.8" fill="#30E020"/><circle cx="1327.4" cy="2235.9" r="1.0" fill="#90F018"/><circle cx="1305.7" cy="2188.2" r="1.9" fill="#FFE010"/><circle cx="1141.2" cy="2133.4" r="1.7" fill="#D8F010"/><circle cx="1145.5" cy="2097.3" r="1.5" fill="#60F020"/><circle cx="1143.4" cy="2187.4" r="1.1" fill="#60F020"/><circle cx="1181.9" cy="2059.4" r="1.5" fill="#D8F010"/><circle cx="1337.3" cy="2192.8" r="1.4" fill="#D8F010"/><circle cx="1307.1" cy="2052.3" r="1.8" fill="#90F018"/><circle cx="1340.8" cy="2192.9" r="1.3" fill="#60F020"/><circle cx="1147.9" cy="2038.4" r="1.8" fill="#FFE010"/><circle cx="1143.0" cy="2200.6" r="1.1" fill="#D8F010"/><circle cx="1232.1" cy="2196.2" r="1.0" fill="#90F018"/><circle cx="1191.7" cy="2080.8" r="2.0" fill="#FFE010"/><circle cx="1267.8" cy="2079.1" r="1.0" fill="#D8F010"/><circle cx="1234.4" cy="2063.8" r="1.7" fill="#FFE010"/><circle cx="1102.5" cy="2219.2" r="1.1" fill="#60F020"/><circle cx="1233.2" cy="2191.0" r="2.0" fill="#30E020"/><circle cx="1190.6" cy="2239.5" r="0.8" fill="#FFE010"/><circle cx="1159.0" cy="2213.8" r="1.9" fill="#FFE010"/><circle cx="1201.1" cy="2235.1" r="1.2" fill="#90F018"/><circle cx="1068.5" cy="2137.5" r="1.1" fill="#60F020"/><circle cx="1282.2" cy="2125.1" r="1.7" fill="#D8F010"/><circle cx="1111.2" cy="2070.1" r="1.6" fill="#FFE010"/><circle cx="1269.5" cy="2193.0" r="0.9" fill="#90F018"/><circle cx="1032.9" cy="2146.9" r="1.4" fill="#30E020"/><circle cx="1204.8" cy="2115.6" r="0.9" fill="#D8F010"/><circle cx="1128.0" cy="2205.8" r="1.2" fill="#FFE010"/><circle cx="1155.2" cy="2031.6" r="2.0" fill="#30E020"/><circle cx="1243.6" cy="2116.8" r="1.7" fill="#90F018"/><circle cx="1200.3" cy="2216.4" r="1.5" fill="#90F018"/><circle cx="1116.5" cy="2164.4" r="1.1" fill="#90F018"/><circle cx="1301.1" cy="2024.9" r="0.9" fill="#FFE010"/><circle cx="1029.6" cy="2059.7" r="1.1" fill="#30E020"/><circle cx="1092.2" cy="2053.3" r="1.7" fill="#60F020"/><circle cx="1153.3" cy="2132.3" r="0.8" fill="#30E020"/><circle cx="1287.0" cy="2062.3" r="1.7" fill="#D8F010"/>
</g>
<polygon points="1135.6,2206.4 1125.2,2200.6 1127.3,2196.9 1109.3,2195.3 1120.0,2209.9 1122.0,2206.2 1132.4,2212.0" fill="#fff"/>
<rect x="1315.60" y="2236.50" width="23.20" height="4.40" fill="#fff"/>
</g>
<g id="ph">
<text x="1361.5" y="1698.1" font-size="33" fill="#000" font-weight="bold">h</text>
<line x1="1412.50" y1="1744.50" x2="1460.00" y2="1744.50" stroke="#10C010" stroke-width="2.7"/>
<circle cx="1436.2" cy="1744.5" r="10.5" fill="#10C010"/>
<text x="1468.6" y="1755.2" font-size="29.85">Vector Ki67<tspan font-size="18.5" dy="-8.4">+</tspan><tspan dy="8.4">mCherry</tspan><tspan font-size="18.5" dy="-8.4">+</tspan></text>
<line x1="1412.50" y1="1794.00" x2="1460.00" y2="1794.00" stroke="#FF8000" stroke-width="2.7"/>
<rect x="1425.70" y="1783.50" width="21.00" height="21.00" fill="#FF8000"/>
<text x="1468.6" y="1804.2" font-size="29.85">Vector OLIG2<tspan font-size="18.5" dy="-8.4">+</tspan><tspan dy="8.4">mCherry</tspan><tspan font-size="18.5" dy="-8.4">+</tspan></text>
<line x1="1412.50" y1="1843.40" x2="1460.00" y2="1843.40" stroke="#FF0000" stroke-width="2.7"/>
<path d="M1436.2,1830.0 L1449.0,1851.3 L1423.4,1851.3Z" fill="#FF0000"/>
<text x="1468.6" y="1853.9" font-size="29.85">TNP Ki67<tspan font-size="18.5" dy="-8.4">+</tspan><tspan dy="8.4">mCherry</tspan><tspan font-size="18.5" dy="-8.4">+</tspan></text>
<line x1="1412.50" y1="1893.10" x2="1460.00" y2="1893.10" stroke="#A600EB" stroke-width="2.7"/>
<path d="M1436.2,1906.5 L1449.0,1885.2 L1423.4,1885.2Z" fill="#A600EB"/>
<text x="1468.6" y="1902.4" font-size="29.85">TNP OLIG2<tspan font-size="18.5" dy="-8.4">+</tspan><tspan dy="8.4">mCherry</tspan><tspan font-size="18.5" dy="-8.4">+</tspan></text>
<text x="1434.0" y="1943.0" font-size="28" fill="#000">%</text>
<polyline points="1510.9,2196.7 1618.3,2196.5 1724.7,2197.0" fill="none" stroke="#10C010" stroke-width="3"/>
<polyline points="1510.9,2171.9 1618.3,2136.9 1724.7,2161.6" fill="none" stroke="#FF0000" stroke-width="5.2"/>
<path d="M1510.9,2162.4 L1519.9,2177.4 L1501.9,2177.4Z" fill="#FF0000"/>
<path d="M1618.3,2127.5 L1627.3,2142.5 L1609.3,2142.5Z" fill="#FF0000"/>
<path d="M1724.7,2152.1 L1733.7,2167.1 L1715.7,2167.1Z" fill="#FF0000"/>
<line x1="1472.80" y1="1937.00" x2="1472.80" y2="2208.50" stroke="#000" stroke-width="3.8"/>
<line x1="1470.90" y1="2197.60" x2="1767.20" y2="2197.60" stroke="#000" stroke-width="3.8"/>
<line x1="1462.30" y1="2197.60" x2="1472.80" y2="2197.60" stroke="#000" stroke-width="3.4"/>
<text x="1461.5" y="2207.9" font-size="29.5" fill="#000" text-anchor="end">0</text>
<line x1="1462.30" y1="2140.38" x2="1472.80" y2="2140.38" stroke="#000" stroke-width="3.4"/>
<text x="1461.5" y="2150.7" font-size="29.5" fill="#000" text-anchor="end">10</text>
<line x1="1462.30" y1="2083.16" x2="1472.80" y2="2083.16" stroke="#000" stroke-width="3.4"/>
<text x="1461.5" y="2093.5" font-size="29.5" fill="#000" text-anchor="end">20</text>
<line x1="1462.30" y1="2025.94" x2="1472.80" y2="2025.94" stroke="#000" stroke-width="3.4"/>
<text x="1461.5" y="2036.2" font-size="29.5" fill="#000" text-anchor="end">30</text>
<line x1="1462.30" y1="1968.72" x2="1472.80" y2="1968.72" stroke="#000" stroke-width="3.4"/>
<text x="1461.5" y="1979.0" font-size="29.5" fill="#000" text-anchor="end">40</text>
<line x1="1510.90" y1="2197.60" x2="1510.90" y2="2208.50" stroke="#000" stroke-width="3.4"/>
<line x1="1618.30" y1="2197.60" x2="1618.30" y2="2208.50" stroke="#000" stroke-width="3.4"/>
<line x1="1724.70" y1="2197.60" x2="1724.70" y2="2208.50" stroke="#000" stroke-width="3.4"/>
<polyline points="1510.9,2197.6 1618.3,2197.6 1724.7,2197.6" fill="none" stroke="#FF8000" stroke-width="4"/>
<rect x="1503.10" y="2189.80" width="15.60" height="15.60" fill="#FF8000"/>
<rect x="1610.50" y="2189.80" width="15.60" height="15.60" fill="#FF8000"/>
<rect x="1716.90" y="2189.80" width="15.60" height="15.60" fill="#FF8000"/>
<polyline points="1510.9,2195.3 1618.3,2107.2 1724.7,1978.4" fill="none" stroke="#A600EB" stroke-width="5.4"/>
<line x1="1618.30" y1="2107.19" x2="1618.30" y2="2119.21" stroke="#A600EB" stroke-width="3.4"/>
<line x1="1610.50" y1="2119.21" x2="1626.10" y2="2119.21" stroke="#A600EB" stroke-width="3.4"/>
<line x1="1724.70" y1="1954.99" x2="1724.70" y2="2001.91" stroke="#A600EB" stroke-width="3.4"/>
<line x1="1716.90" y1="1954.99" x2="1732.50" y2="1954.99" stroke="#A600EB" stroke-width="3.4"/>
<line x1="1716.90" y1="2001.91" x2="1732.50" y2="2001.91" stroke="#A600EB" stroke-width="3.4"/>
<path d="M1510.9,2204.8 L1519.9,2189.7 L1501.9,2189.7Z" fill="#A600EB"/>
<path d="M1618.3,2116.6 L1627.3,2101.6 L1609.3,2101.6Z" fill="#A600EB"/>
<path d="M1724.7,1987.9 L1733.7,1972.9 L1715.7,1972.9Z" fill="#A600EB"/>
<text x="1511.9" y="2238.4" font-size="29.8" fill="#000" text-anchor="middle">T<tspan dx="-2">1</tspan></text>
<text x="1618.3" y="2238.4" font-size="29.8" fill="#000" text-anchor="middle">T2</text>
<text x="1723.5" y="2238.4" font-size="29.8" fill="#000" text-anchor="middle">End</text>
<text transform="translate(1386.0,2070.5) rotate(-90)" font-size="30" fill="#000" text-anchor="middle">Ratio among total</text>
<text transform="translate(1415.6,2068) rotate(-90)" font-size="29.5" text-anchor="middle">mCherry<tspan font-size="18.5" dy="-8.4">+</tspan><tspan dy="8.4"> cells</tspan></text>
</g>
</svg>
</body>
</html>
